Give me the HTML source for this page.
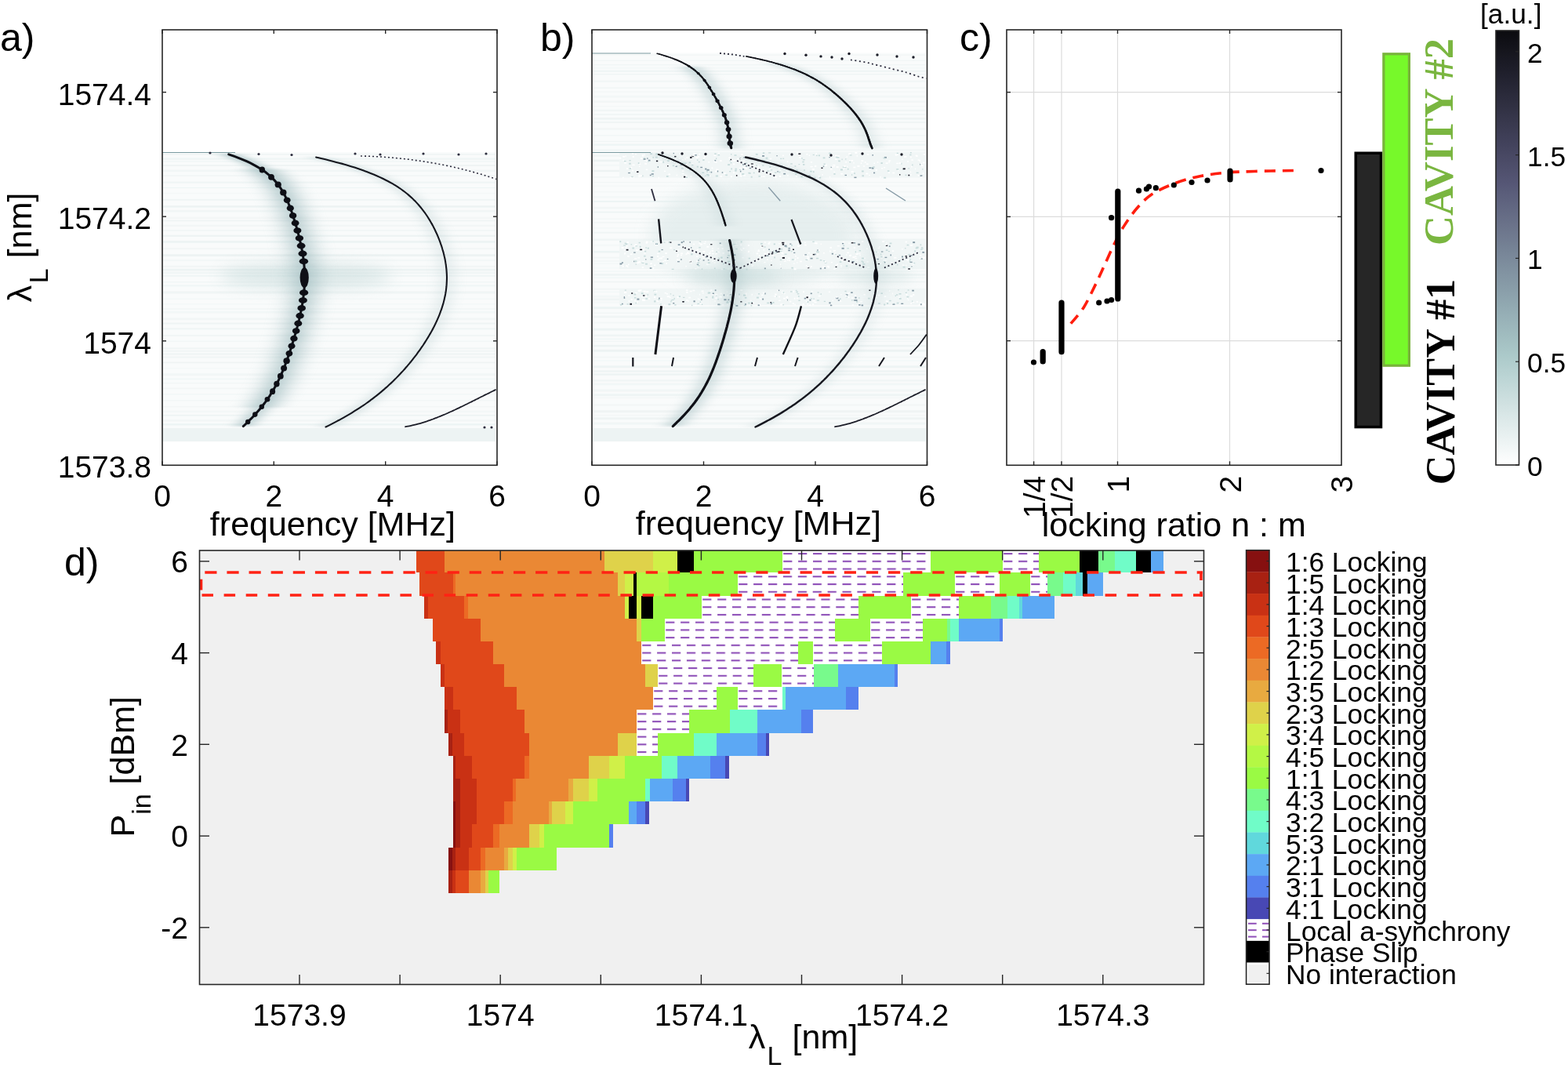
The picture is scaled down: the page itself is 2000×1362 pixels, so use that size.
<!DOCTYPE html><html><head><meta charset="utf-8"><title>Figure</title>
<style>html,body{margin:0;padding:0;background:#fff;}svg{display:block;}text{font-family:'Liberation Sans', Arial, Helvetica, sans-serif;fill:#000;}</style></head><body>
<svg width="2000" height="1362" viewBox="0 0 2000 1362">
<defs>
<filter id="blur2" filterUnits="userSpaceOnUse" x="0" y="0" width="2000" height="1362"><feGaussianBlur stdDeviation="2.5"/></filter>
<filter id="blur5" filterUnits="userSpaceOnUse" x="0" y="0" width="2000" height="1362"><feGaussianBlur stdDeviation="6"/></filter>
<filter id="blur9" filterUnits="userSpaceOnUse" x="0" y="0" width="2000" height="1362"><feGaussianBlur stdDeviation="10"/></filter>
<linearGradient id="cbar" x1="0" y1="0" x2="0" y2="1">
<stop offset="0.000" stop-color="#0b0b0f"/>
<stop offset="0.050" stop-color="#16161e"/>
<stop offset="0.100" stop-color="#20202d"/>
<stop offset="0.150" stop-color="#2b2b3b"/>
<stop offset="0.200" stop-color="#36364a"/>
<stop offset="0.250" stop-color="#404059"/>
<stop offset="0.300" stop-color="#4b4b67"/>
<stop offset="0.350" stop-color="#555675"/>
<stop offset="0.400" stop-color="#606580"/>
<stop offset="0.450" stop-color="#6b738a"/>
<stop offset="0.500" stop-color="#758295"/>
<stop offset="0.550" stop-color="#8091a0"/>
<stop offset="0.600" stop-color="#8a9faa"/>
<stop offset="0.650" stop-color="#95aeb5"/>
<stop offset="0.700" stop-color="#a0bcbf"/>
<stop offset="0.750" stop-color="#accaca"/>
<stop offset="0.800" stop-color="#bcd5d5"/>
<stop offset="0.850" stop-color="#cddfdf"/>
<stop offset="0.900" stop-color="#deeaea"/>
<stop offset="0.950" stop-color="#eef4f4"/>
<stop offset="1.000" stop-color="#ffffff"/>
</linearGradient>
<pattern id="hatch" patternUnits="userSpaceOnUse" x="0" y="701.2" width="18.9" height="9.73"><rect width="18.9" height="9.73" fill="#fff"/><rect x="2" y="3.9" width="11.5" height="2.1" fill="#8e4fb8"/></pattern>
<filter id="hblur" filterUnits="userSpaceOnUse" x="0" y="0" width="2000" height="1362"><feGaussianBlur stdDeviation="9 1.2"/></filter>
</defs>
<rect width="2000" height="1362" fill="#fff"/>
<rect x="207.0" y="194.0" width="425.0" height="369.0" fill="#f9fbfb"/>
<g><rect x="207.0" y="196.0" width="425.0" height="1.5" fill="#e8f0f0" opacity="0.52"/><rect x="207.0" y="201.5" width="425.0" height="2.2" fill="#e8f0f0" opacity="0.56"/><rect x="207.0" y="205.4" width="425.0" height="1.0" fill="#e8f0f0" opacity="0.67"/><rect x="207.0" y="210.3" width="425.0" height="1.5" fill="#e8f0f0" opacity="0.75"/><rect x="207.0" y="216.4" width="425.0" height="2.7" fill="#e8f0f0" opacity="0.49"/><rect x="207.0" y="223.4" width="425.0" height="1.3" fill="#e8f0f0" opacity="0.57"/><rect x="207.0" y="231.7" width="425.0" height="2.0" fill="#e8f0f0" opacity="0.62"/><rect x="207.0" y="238.9" width="425.0" height="1.1" fill="#e8f0f0" opacity="0.63"/><rect x="207.0" y="245.6" width="425.0" height="1.6" fill="#e8f0f0" opacity="0.27"/><rect x="207.0" y="253.9" width="425.0" height="1.9" fill="#e8f0f0" opacity="0.61"/><rect x="207.0" y="262.2" width="425.0" height="2.4" fill="#e8f0f0" opacity="0.71"/><rect x="207.0" y="267.9" width="425.0" height="2.6" fill="#e8f0f0" opacity="0.47"/><rect x="207.0" y="276.6" width="425.0" height="2.8" fill="#e8f0f0" opacity="0.30"/><rect x="207.0" y="280.8" width="425.0" height="1.4" fill="#e8f0f0" opacity="0.73"/><rect x="207.0" y="286.7" width="425.0" height="2.3" fill="#e8f0f0" opacity="0.40"/><rect x="207.0" y="293.0" width="425.0" height="1.8" fill="#e8f0f0" opacity="0.43"/><rect x="207.0" y="299.7" width="425.0" height="2.2" fill="#e8f0f0" opacity="0.70"/><rect x="207.0" y="307.0" width="425.0" height="2.9" fill="#e8f0f0" opacity="0.68"/><rect x="207.0" y="315.9" width="425.0" height="2.3" fill="#e8f0f0" opacity="0.33"/><rect x="207.0" y="324.1" width="425.0" height="2.9" fill="#e8f0f0" opacity="0.70"/><rect x="207.0" y="330.8" width="425.0" height="2.4" fill="#e8f0f0" opacity="0.36"/><rect x="207.0" y="338.8" width="425.0" height="2.1" fill="#e8f0f0" opacity="0.39"/><rect x="207.0" y="342.7" width="425.0" height="2.7" fill="#e8f0f0" opacity="0.74"/><rect x="207.0" y="346.7" width="425.0" height="2.6" fill="#e8f0f0" opacity="0.46"/><rect x="207.0" y="351.0" width="425.0" height="1.6" fill="#e8f0f0" opacity="0.63"/><rect x="207.0" y="359.3" width="425.0" height="1.1" fill="#e8f0f0" opacity="0.56"/><rect x="207.0" y="363.1" width="425.0" height="2.4" fill="#e8f0f0" opacity="0.42"/><rect x="207.0" y="371.4" width="425.0" height="3.0" fill="#e8f0f0" opacity="0.50"/><rect x="207.0" y="380.4" width="425.0" height="1.6" fill="#e8f0f0" opacity="0.29"/><rect x="207.0" y="387.2" width="425.0" height="1.1" fill="#e8f0f0" opacity="0.35"/><rect x="207.0" y="392.9" width="425.0" height="2.2" fill="#e8f0f0" opacity="0.33"/><rect x="207.0" y="396.7" width="425.0" height="2.7" fill="#e8f0f0" opacity="0.41"/><rect x="207.0" y="405.4" width="425.0" height="2.8" fill="#e8f0f0" opacity="0.44"/><rect x="207.0" y="411.5" width="425.0" height="2.0" fill="#e8f0f0" opacity="0.57"/><rect x="207.0" y="418.3" width="425.0" height="2.1" fill="#e8f0f0" opacity="0.56"/><rect x="207.0" y="426.9" width="425.0" height="2.0" fill="#e8f0f0" opacity="0.47"/><rect x="207.0" y="434.4" width="425.0" height="1.5" fill="#e8f0f0" opacity="0.40"/><rect x="207.0" y="443.3" width="425.0" height="2.0" fill="#e8f0f0" opacity="0.52"/><rect x="207.0" y="446.8" width="425.0" height="1.8" fill="#e8f0f0" opacity="0.54"/><rect x="207.0" y="450.4" width="425.0" height="2.2" fill="#e8f0f0" opacity="0.57"/><rect x="207.0" y="454.3" width="425.0" height="2.3" fill="#e8f0f0" opacity="0.48"/><rect x="207.0" y="461.5" width="425.0" height="1.7" fill="#e8f0f0" opacity="0.60"/><rect x="207.0" y="469.1" width="425.0" height="1.0" fill="#e8f0f0" opacity="0.28"/><rect x="207.0" y="476.3" width="425.0" height="2.9" fill="#e8f0f0" opacity="0.38"/><rect x="207.0" y="482.3" width="425.0" height="2.2" fill="#e8f0f0" opacity="0.41"/><rect x="207.0" y="487.8" width="425.0" height="1.6" fill="#e8f0f0" opacity="0.43"/><rect x="207.0" y="494.6" width="425.0" height="1.6" fill="#e8f0f0" opacity="0.44"/><rect x="207.0" y="502.3" width="425.0" height="1.1" fill="#e8f0f0" opacity="0.53"/><rect x="207.0" y="509.9" width="425.0" height="1.6" fill="#e8f0f0" opacity="0.36"/><rect x="207.0" y="517.8" width="425.0" height="1.5" fill="#e8f0f0" opacity="0.34"/><rect x="207.0" y="523.7" width="425.0" height="2.4" fill="#e8f0f0" opacity="0.30"/><rect x="207.0" y="528.9" width="425.0" height="1.7" fill="#e8f0f0" opacity="0.67"/><rect x="207.0" y="534.9" width="425.0" height="2.7" fill="#e8f0f0" opacity="0.33"/><rect x="207.0" y="540.2" width="425.0" height="2.3" fill="#e8f0f0" opacity="0.69"/></g>
<rect x="207" y="546" width="425" height="17" fill="#edf3f3"/>
<line x1="207" y1="194.5" x2="300" y2="194.5" stroke="#7a9aa0" stroke-width="1.2"/>
<ellipse cx="390" cy="352" rx="110" ry="16" fill="#b8d0d0" opacity="0.45" filter="url(#blur9)"/>
<g opacity="0.28" filter="url(#hblur)"><rect x="307.6" y="215.2" width="52.0" height="1.6" fill="#8fb0b4"/><rect x="309.4" y="216.5" width="52.0" height="1.6" fill="#8fb0b4"/><rect x="311.2" y="217.7" width="52.0" height="1.6" fill="#8fb0b4"/><rect x="313.0" y="219.1" width="52.0" height="1.6" fill="#8fb0b4"/><rect x="314.7" y="220.4" width="52.0" height="1.6" fill="#8fb0b4"/><rect x="316.4" y="221.8" width="52.0" height="1.6" fill="#8fb0b4"/><rect x="318.1" y="223.2" width="52.0" height="1.6" fill="#8fb0b4"/><rect x="319.7" y="224.7" width="52.0" height="1.6" fill="#8fb0b4"/><rect x="321.3" y="226.3" width="52.0" height="1.6" fill="#8fb0b4"/><rect x="322.9" y="227.8" width="52.0" height="1.6" fill="#8fb0b4"/><rect x="324.4" y="229.4" width="52.0" height="1.6" fill="#8fb0b4"/><rect x="325.8" y="231.1" width="52.0" height="1.6" fill="#8fb0b4"/><rect x="327.2" y="232.8" width="52.0" height="1.6" fill="#8fb0b4"/><rect x="328.6" y="234.5" width="52.0" height="1.6" fill="#8fb0b4"/><rect x="329.9" y="236.3" width="52.0" height="1.6" fill="#8fb0b4"/><rect x="331.2" y="238.1" width="52.0" height="1.6" fill="#8fb0b4"/><rect x="332.4" y="239.9" width="52.0" height="1.6" fill="#8fb0b4"/><rect x="333.6" y="241.7" width="52.0" height="1.6" fill="#8fb0b4"/><rect x="334.7" y="243.6" width="52.0" height="1.6" fill="#8fb0b4"/><rect x="335.8" y="245.6" width="52.0" height="1.6" fill="#8fb0b4"/><rect x="336.8" y="247.5" width="52.0" height="1.6" fill="#8fb0b4"/><rect x="337.8" y="249.4" width="52.0" height="1.6" fill="#8fb0b4"/><rect x="338.8" y="251.4" width="52.0" height="1.6" fill="#8fb0b4"/><rect x="339.7" y="253.4" width="52.0" height="1.6" fill="#8fb0b4"/><rect x="340.6" y="255.4" width="52.0" height="1.6" fill="#8fb0b4"/><rect x="341.5" y="257.5" width="52.0" height="1.6" fill="#8fb0b4"/><rect x="342.3" y="259.5" width="52.0" height="1.6" fill="#8fb0b4"/><rect x="343.1" y="261.5" width="52.0" height="1.6" fill="#8fb0b4"/><rect x="343.9" y="263.6" width="52.0" height="1.6" fill="#8fb0b4"/><rect x="344.7" y="265.6" width="52.0" height="1.6" fill="#8fb0b4"/><rect x="345.4" y="267.7" width="52.0" height="1.6" fill="#8fb0b4"/><rect x="346.2" y="269.8" width="52.0" height="1.6" fill="#8fb0b4"/><rect x="346.9" y="271.9" width="52.0" height="1.6" fill="#8fb0b4"/><rect x="347.6" y="274.0" width="52.0" height="1.6" fill="#8fb0b4"/><rect x="348.2" y="276.1" width="52.0" height="1.6" fill="#8fb0b4"/><rect x="348.9" y="278.1" width="52.0" height="1.6" fill="#8fb0b4"/><rect x="349.6" y="280.2" width="52.0" height="1.6" fill="#8fb0b4"/><rect x="350.2" y="282.3" width="52.0" height="1.6" fill="#8fb0b4"/><rect x="350.9" y="284.5" width="52.0" height="1.6" fill="#8fb0b4"/><rect x="351.5" y="286.6" width="52.0" height="1.6" fill="#8fb0b4"/><rect x="352.1" y="288.7" width="52.0" height="1.6" fill="#8fb0b4"/><rect x="352.7" y="290.8" width="52.0" height="1.6" fill="#8fb0b4"/><rect x="353.3" y="292.9" width="52.0" height="1.6" fill="#8fb0b4"/><rect x="353.9" y="295.0" width="52.0" height="1.6" fill="#8fb0b4"/><rect x="354.4" y="297.2" width="52.0" height="1.6" fill="#8fb0b4"/><rect x="355.0" y="299.3" width="52.0" height="1.6" fill="#8fb0b4"/><rect x="355.5" y="301.4" width="52.0" height="1.6" fill="#8fb0b4"/><rect x="356.1" y="303.6" width="52.0" height="1.6" fill="#8fb0b4"/><rect x="356.6" y="305.7" width="52.0" height="1.6" fill="#8fb0b4"/><rect x="357.1" y="307.8" width="52.0" height="1.6" fill="#8fb0b4"/><rect x="357.5" y="310.0" width="52.0" height="1.6" fill="#8fb0b4"/><rect x="358.0" y="312.1" width="52.0" height="1.6" fill="#8fb0b4"/><rect x="358.5" y="314.3" width="52.0" height="1.6" fill="#8fb0b4"/><rect x="358.9" y="316.5" width="52.0" height="1.6" fill="#8fb0b4"/><rect x="359.3" y="318.6" width="52.0" height="1.6" fill="#8fb0b4"/><rect x="359.7" y="320.8" width="52.0" height="1.6" fill="#8fb0b4"/><rect x="360.1" y="322.9" width="52.0" height="1.6" fill="#8fb0b4"/><rect x="360.4" y="325.1" width="52.0" height="1.6" fill="#8fb0b4"/><rect x="360.7" y="327.3" width="52.0" height="1.6" fill="#8fb0b4"/><rect x="361.0" y="329.5" width="52.0" height="1.6" fill="#8fb0b4"/><rect x="361.3" y="331.7" width="52.0" height="1.6" fill="#8fb0b4"/><rect x="361.6" y="333.8" width="52.0" height="1.6" fill="#8fb0b4"/><rect x="361.8" y="336.0" width="52.0" height="1.6" fill="#8fb0b4"/><rect x="362.0" y="338.2" width="52.0" height="1.6" fill="#8fb0b4"/><rect x="362.2" y="340.4" width="52.0" height="1.6" fill="#8fb0b4"/><rect x="362.3" y="342.6" width="52.0" height="1.6" fill="#8fb0b4"/><rect x="362.4" y="344.8" width="52.0" height="1.6" fill="#8fb0b4"/><rect x="362.5" y="347.0" width="52.0" height="1.6" fill="#8fb0b4"/><rect x="362.6" y="349.2" width="52.0" height="1.6" fill="#8fb0b4"/><rect x="362.6" y="351.4" width="52.0" height="1.6" fill="#8fb0b4"/><rect x="362.6" y="353.6" width="52.0" height="1.6" fill="#8fb0b4"/><rect x="362.6" y="355.8" width="52.0" height="1.6" fill="#8fb0b4"/><rect x="362.6" y="358.0" width="52.0" height="1.6" fill="#8fb0b4"/><rect x="362.5" y="360.2" width="52.0" height="1.6" fill="#8fb0b4"/><rect x="362.4" y="362.4" width="52.0" height="1.6" fill="#8fb0b4"/><rect x="362.3" y="364.6" width="52.0" height="1.6" fill="#8fb0b4"/><rect x="362.1" y="366.8" width="52.0" height="1.6" fill="#8fb0b4"/><rect x="362.0" y="369.0" width="52.0" height="1.6" fill="#8fb0b4"/><rect x="361.8" y="371.2" width="52.0" height="1.6" fill="#8fb0b4"/><rect x="361.5" y="373.4" width="52.0" height="1.6" fill="#8fb0b4"/><rect x="361.3" y="375.5" width="52.0" height="1.6" fill="#8fb0b4"/><rect x="361.0" y="377.7" width="52.0" height="1.6" fill="#8fb0b4"/><rect x="360.7" y="379.9" width="52.0" height="1.6" fill="#8fb0b4"/><rect x="360.4" y="382.1" width="52.0" height="1.6" fill="#8fb0b4"/><rect x="360.1" y="384.3" width="52.0" height="1.6" fill="#8fb0b4"/><rect x="359.7" y="386.4" width="52.0" height="1.6" fill="#8fb0b4"/><rect x="359.3" y="388.6" width="52.0" height="1.6" fill="#8fb0b4"/><rect x="358.9" y="390.8" width="52.0" height="1.6" fill="#8fb0b4"/><rect x="358.5" y="392.9" width="52.0" height="1.6" fill="#8fb0b4"/><rect x="358.1" y="395.1" width="52.0" height="1.6" fill="#8fb0b4"/><rect x="357.6" y="397.2" width="52.0" height="1.6" fill="#8fb0b4"/><rect x="357.2" y="399.4" width="52.0" height="1.6" fill="#8fb0b4"/><rect x="356.7" y="401.5" width="52.0" height="1.6" fill="#8fb0b4"/><rect x="356.2" y="403.7" width="52.0" height="1.6" fill="#8fb0b4"/><rect x="355.7" y="405.8" width="52.0" height="1.6" fill="#8fb0b4"/><rect x="355.2" y="408.0" width="52.0" height="1.6" fill="#8fb0b4"/><rect x="354.6" y="410.1" width="52.0" height="1.6" fill="#8fb0b4"/><rect x="354.1" y="412.2" width="52.0" height="1.6" fill="#8fb0b4"/><rect x="353.6" y="414.4" width="52.0" height="1.6" fill="#8fb0b4"/><rect x="353.0" y="416.5" width="52.0" height="1.6" fill="#8fb0b4"/><rect x="352.4" y="418.6" width="52.0" height="1.6" fill="#8fb0b4"/><rect x="351.9" y="420.7" width="52.0" height="1.6" fill="#8fb0b4"/><rect x="351.3" y="422.9" width="52.0" height="1.6" fill="#8fb0b4"/><rect x="350.7" y="425.0" width="52.0" height="1.6" fill="#8fb0b4"/><rect x="350.1" y="427.1" width="52.0" height="1.6" fill="#8fb0b4"/><rect x="349.5" y="429.2" width="52.0" height="1.6" fill="#8fb0b4"/><rect x="348.8" y="431.3" width="52.0" height="1.6" fill="#8fb0b4"/><rect x="348.2" y="433.4" width="52.0" height="1.6" fill="#8fb0b4"/><rect x="347.6" y="435.5" width="52.0" height="1.6" fill="#8fb0b4"/><rect x="346.9" y="437.6" width="52.0" height="1.6" fill="#8fb0b4"/><rect x="346.3" y="439.7" width="52.0" height="1.6" fill="#8fb0b4"/><rect x="345.6" y="441.8" width="52.0" height="1.6" fill="#8fb0b4"/><rect x="344.9" y="443.9" width="52.0" height="1.6" fill="#8fb0b4"/><rect x="344.3" y="446.0" width="52.0" height="1.6" fill="#8fb0b4"/><rect x="343.6" y="448.1" width="52.0" height="1.6" fill="#8fb0b4"/><rect x="342.9" y="450.2" width="52.0" height="1.6" fill="#8fb0b4"/><rect x="342.2" y="452.3" width="52.0" height="1.6" fill="#8fb0b4"/><rect x="341.4" y="454.4" width="52.0" height="1.6" fill="#8fb0b4"/><rect x="340.7" y="456.4" width="52.0" height="1.6" fill="#8fb0b4"/><rect x="340.0" y="458.5" width="52.0" height="1.6" fill="#8fb0b4"/><rect x="339.2" y="460.6" width="52.0" height="1.6" fill="#8fb0b4"/><rect x="338.5" y="462.6" width="52.0" height="1.6" fill="#8fb0b4"/><rect x="337.7" y="464.7" width="52.0" height="1.6" fill="#8fb0b4"/><rect x="336.9" y="466.7" width="52.0" height="1.6" fill="#8fb0b4"/><rect x="336.1" y="468.8" width="52.0" height="1.6" fill="#8fb0b4"/><rect x="335.2" y="470.8" width="52.0" height="1.6" fill="#8fb0b4"/><rect x="334.4" y="472.9" width="52.0" height="1.6" fill="#8fb0b4"/><rect x="333.5" y="474.9" width="52.0" height="1.6" fill="#8fb0b4"/><rect x="332.7" y="476.9" width="52.0" height="1.6" fill="#8fb0b4"/><rect x="331.8" y="478.9" width="52.0" height="1.6" fill="#8fb0b4"/><rect x="330.8" y="480.9" width="52.0" height="1.6" fill="#8fb0b4"/><rect x="329.9" y="482.9" width="52.0" height="1.6" fill="#8fb0b4"/><rect x="328.9" y="484.9" width="52.0" height="1.6" fill="#8fb0b4"/><rect x="327.9" y="486.8" width="52.0" height="1.6" fill="#8fb0b4"/><rect x="326.9" y="488.8" width="52.0" height="1.6" fill="#8fb0b4"/><rect x="325.9" y="490.7" width="52.0" height="1.6" fill="#8fb0b4"/><rect x="324.9" y="492.7" width="52.0" height="1.6" fill="#8fb0b4"/><rect x="323.8" y="494.6" width="52.0" height="1.6" fill="#8fb0b4"/><rect x="322.7" y="496.5" width="52.0" height="1.6" fill="#8fb0b4"/><rect x="321.6" y="498.4" width="52.0" height="1.6" fill="#8fb0b4"/><rect x="320.4" y="500.3" width="52.0" height="1.6" fill="#8fb0b4"/><rect x="319.2" y="502.1" width="52.0" height="1.6" fill="#8fb0b4"/><rect x="318.0" y="504.0" width="52.0" height="1.6" fill="#8fb0b4"/><rect x="316.8" y="505.8" width="52.0" height="1.6" fill="#8fb0b4"/><rect x="315.6" y="507.6" width="52.0" height="1.6" fill="#8fb0b4"/><rect x="314.3" y="509.4" width="52.0" height="1.6" fill="#8fb0b4"/><rect x="313.0" y="511.2" width="52.0" height="1.6" fill="#8fb0b4"/><rect x="311.7" y="513.0" width="52.0" height="1.6" fill="#8fb0b4"/><rect x="310.4" y="514.7" width="52.0" height="1.6" fill="#8fb0b4"/><rect x="309.0" y="516.4" width="52.0" height="1.6" fill="#8fb0b4"/><rect x="307.6" y="518.2" width="52.0" height="1.6" fill="#8fb0b4"/></g>
<g opacity="0.65" filter="url(#hblur)"><rect x="282.7" y="196.1" width="18.0" height="1.6" fill="#8fb0b4"/><rect x="284.8" y="196.8" width="18.0" height="1.6" fill="#8fb0b4"/><rect x="286.9" y="197.5" width="18.0" height="1.6" fill="#8fb0b4"/><rect x="289.0" y="198.3" width="18.0" height="1.6" fill="#8fb0b4"/><rect x="291.0" y="199.0" width="18.0" height="1.6" fill="#8fb0b4"/><rect x="293.1" y="199.8" width="18.0" height="1.6" fill="#8fb0b4"/><rect x="295.2" y="200.5" width="18.0" height="1.6" fill="#8fb0b4"/><rect x="297.2" y="201.3" width="18.0" height="1.6" fill="#8fb0b4"/><rect x="299.2" y="202.2" width="18.0" height="1.6" fill="#8fb0b4"/><rect x="301.3" y="203.0" width="18.0" height="1.6" fill="#8fb0b4"/><rect x="303.3" y="203.9" width="18.0" height="1.6" fill="#8fb0b4"/><rect x="305.3" y="204.8" width="18.0" height="1.6" fill="#8fb0b4"/><rect x="307.3" y="205.7" width="18.0" height="1.6" fill="#8fb0b4"/><rect x="309.3" y="206.6" width="18.0" height="1.6" fill="#8fb0b4"/><rect x="311.3" y="207.6" width="18.0" height="1.6" fill="#8fb0b4"/><rect x="313.2" y="208.6" width="18.0" height="1.6" fill="#8fb0b4"/><rect x="315.2" y="209.6" width="18.0" height="1.6" fill="#8fb0b4"/><rect x="317.1" y="210.7" width="18.0" height="1.6" fill="#8fb0b4"/><rect x="319.0" y="211.8" width="18.0" height="1.6" fill="#8fb0b4"/><rect x="320.9" y="212.9" width="18.0" height="1.6" fill="#8fb0b4"/><rect x="322.8" y="214.0" width="18.0" height="1.6" fill="#8fb0b4"/><rect x="324.6" y="215.2" width="18.0" height="1.6" fill="#8fb0b4"/><rect x="326.4" y="216.5" width="18.0" height="1.6" fill="#8fb0b4"/><rect x="328.2" y="217.7" width="18.0" height="1.6" fill="#8fb0b4"/><rect x="330.0" y="219.1" width="18.0" height="1.6" fill="#8fb0b4"/><rect x="331.7" y="220.4" width="18.0" height="1.6" fill="#8fb0b4"/><rect x="333.4" y="221.8" width="18.0" height="1.6" fill="#8fb0b4"/><rect x="335.1" y="223.2" width="18.0" height="1.6" fill="#8fb0b4"/><rect x="336.7" y="224.7" width="18.0" height="1.6" fill="#8fb0b4"/><rect x="338.3" y="226.3" width="18.0" height="1.6" fill="#8fb0b4"/><rect x="339.9" y="227.8" width="18.0" height="1.6" fill="#8fb0b4"/><rect x="341.4" y="229.4" width="18.0" height="1.6" fill="#8fb0b4"/><rect x="342.8" y="231.1" width="18.0" height="1.6" fill="#8fb0b4"/><rect x="344.2" y="232.8" width="18.0" height="1.6" fill="#8fb0b4"/><rect x="345.6" y="234.5" width="18.0" height="1.6" fill="#8fb0b4"/><rect x="346.9" y="236.3" width="18.0" height="1.6" fill="#8fb0b4"/><rect x="348.2" y="238.1" width="18.0" height="1.6" fill="#8fb0b4"/><rect x="349.4" y="239.9" width="18.0" height="1.6" fill="#8fb0b4"/><rect x="350.6" y="241.7" width="18.0" height="1.6" fill="#8fb0b4"/><rect x="351.7" y="243.6" width="18.0" height="1.6" fill="#8fb0b4"/><rect x="352.8" y="245.6" width="18.0" height="1.6" fill="#8fb0b4"/><rect x="353.8" y="247.5" width="18.0" height="1.6" fill="#8fb0b4"/><rect x="354.8" y="249.4" width="18.0" height="1.6" fill="#8fb0b4"/><rect x="355.8" y="251.4" width="18.0" height="1.6" fill="#8fb0b4"/><rect x="356.7" y="253.4" width="18.0" height="1.6" fill="#8fb0b4"/><rect x="357.6" y="255.4" width="18.0" height="1.6" fill="#8fb0b4"/><rect x="358.5" y="257.5" width="18.0" height="1.6" fill="#8fb0b4"/><rect x="359.3" y="259.5" width="18.0" height="1.6" fill="#8fb0b4"/><rect x="360.1" y="261.5" width="18.0" height="1.6" fill="#8fb0b4"/><rect x="360.9" y="263.6" width="18.0" height="1.6" fill="#8fb0b4"/><rect x="361.7" y="265.6" width="18.0" height="1.6" fill="#8fb0b4"/><rect x="362.4" y="267.7" width="18.0" height="1.6" fill="#8fb0b4"/><rect x="363.2" y="269.8" width="18.0" height="1.6" fill="#8fb0b4"/><rect x="363.9" y="271.9" width="18.0" height="1.6" fill="#8fb0b4"/><rect x="364.6" y="274.0" width="18.0" height="1.6" fill="#8fb0b4"/><rect x="365.2" y="276.1" width="18.0" height="1.6" fill="#8fb0b4"/><rect x="365.9" y="278.1" width="18.0" height="1.6" fill="#8fb0b4"/><rect x="366.6" y="280.2" width="18.0" height="1.6" fill="#8fb0b4"/><rect x="367.2" y="282.3" width="18.0" height="1.6" fill="#8fb0b4"/><rect x="367.9" y="284.5" width="18.0" height="1.6" fill="#8fb0b4"/><rect x="368.5" y="286.6" width="18.0" height="1.6" fill="#8fb0b4"/><rect x="369.1" y="288.7" width="18.0" height="1.6" fill="#8fb0b4"/><rect x="369.7" y="290.8" width="18.0" height="1.6" fill="#8fb0b4"/><rect x="370.3" y="292.9" width="18.0" height="1.6" fill="#8fb0b4"/><rect x="370.9" y="295.0" width="18.0" height="1.6" fill="#8fb0b4"/><rect x="371.4" y="297.2" width="18.0" height="1.6" fill="#8fb0b4"/><rect x="372.0" y="299.3" width="18.0" height="1.6" fill="#8fb0b4"/><rect x="372.5" y="301.4" width="18.0" height="1.6" fill="#8fb0b4"/><rect x="373.1" y="303.6" width="18.0" height="1.6" fill="#8fb0b4"/><rect x="373.6" y="305.7" width="18.0" height="1.6" fill="#8fb0b4"/><rect x="374.1" y="307.8" width="18.0" height="1.6" fill="#8fb0b4"/><rect x="374.5" y="310.0" width="18.0" height="1.6" fill="#8fb0b4"/><rect x="375.0" y="312.1" width="18.0" height="1.6" fill="#8fb0b4"/><rect x="375.5" y="314.3" width="18.0" height="1.6" fill="#8fb0b4"/><rect x="375.9" y="316.5" width="18.0" height="1.6" fill="#8fb0b4"/><rect x="376.3" y="318.6" width="18.0" height="1.6" fill="#8fb0b4"/><rect x="376.7" y="320.8" width="18.0" height="1.6" fill="#8fb0b4"/><rect x="377.1" y="322.9" width="18.0" height="1.6" fill="#8fb0b4"/><rect x="377.4" y="325.1" width="18.0" height="1.6" fill="#8fb0b4"/><rect x="377.7" y="327.3" width="18.0" height="1.6" fill="#8fb0b4"/><rect x="378.0" y="329.5" width="18.0" height="1.6" fill="#8fb0b4"/><rect x="378.3" y="331.7" width="18.0" height="1.6" fill="#8fb0b4"/><rect x="378.6" y="333.8" width="18.0" height="1.6" fill="#8fb0b4"/><rect x="378.8" y="336.0" width="18.0" height="1.6" fill="#8fb0b4"/><rect x="379.0" y="338.2" width="18.0" height="1.6" fill="#8fb0b4"/><rect x="379.2" y="340.4" width="18.0" height="1.6" fill="#8fb0b4"/><rect x="379.3" y="342.6" width="18.0" height="1.6" fill="#8fb0b4"/><rect x="379.4" y="344.8" width="18.0" height="1.6" fill="#8fb0b4"/><rect x="379.5" y="347.0" width="18.0" height="1.6" fill="#8fb0b4"/><rect x="379.6" y="349.2" width="18.0" height="1.6" fill="#8fb0b4"/><rect x="379.6" y="351.4" width="18.0" height="1.6" fill="#8fb0b4"/><rect x="379.6" y="353.6" width="18.0" height="1.6" fill="#8fb0b4"/><rect x="379.6" y="355.8" width="18.0" height="1.6" fill="#8fb0b4"/><rect x="379.6" y="358.0" width="18.0" height="1.6" fill="#8fb0b4"/><rect x="379.5" y="360.2" width="18.0" height="1.6" fill="#8fb0b4"/><rect x="379.4" y="362.4" width="18.0" height="1.6" fill="#8fb0b4"/><rect x="379.3" y="364.6" width="18.0" height="1.6" fill="#8fb0b4"/><rect x="379.1" y="366.8" width="18.0" height="1.6" fill="#8fb0b4"/><rect x="379.0" y="369.0" width="18.0" height="1.6" fill="#8fb0b4"/><rect x="378.8" y="371.2" width="18.0" height="1.6" fill="#8fb0b4"/><rect x="378.5" y="373.4" width="18.0" height="1.6" fill="#8fb0b4"/><rect x="378.3" y="375.5" width="18.0" height="1.6" fill="#8fb0b4"/><rect x="378.0" y="377.7" width="18.0" height="1.6" fill="#8fb0b4"/><rect x="377.7" y="379.9" width="18.0" height="1.6" fill="#8fb0b4"/><rect x="377.4" y="382.1" width="18.0" height="1.6" fill="#8fb0b4"/><rect x="377.1" y="384.3" width="18.0" height="1.6" fill="#8fb0b4"/><rect x="376.7" y="386.4" width="18.0" height="1.6" fill="#8fb0b4"/><rect x="376.3" y="388.6" width="18.0" height="1.6" fill="#8fb0b4"/><rect x="375.9" y="390.8" width="18.0" height="1.6" fill="#8fb0b4"/><rect x="375.5" y="392.9" width="18.0" height="1.6" fill="#8fb0b4"/><rect x="375.1" y="395.1" width="18.0" height="1.6" fill="#8fb0b4"/><rect x="374.6" y="397.2" width="18.0" height="1.6" fill="#8fb0b4"/><rect x="374.2" y="399.4" width="18.0" height="1.6" fill="#8fb0b4"/><rect x="373.7" y="401.5" width="18.0" height="1.6" fill="#8fb0b4"/><rect x="373.2" y="403.7" width="18.0" height="1.6" fill="#8fb0b4"/><rect x="372.7" y="405.8" width="18.0" height="1.6" fill="#8fb0b4"/><rect x="372.2" y="408.0" width="18.0" height="1.6" fill="#8fb0b4"/><rect x="371.6" y="410.1" width="18.0" height="1.6" fill="#8fb0b4"/><rect x="371.1" y="412.2" width="18.0" height="1.6" fill="#8fb0b4"/><rect x="370.6" y="414.4" width="18.0" height="1.6" fill="#8fb0b4"/><rect x="370.0" y="416.5" width="18.0" height="1.6" fill="#8fb0b4"/><rect x="369.4" y="418.6" width="18.0" height="1.6" fill="#8fb0b4"/><rect x="368.9" y="420.7" width="18.0" height="1.6" fill="#8fb0b4"/><rect x="368.3" y="422.9" width="18.0" height="1.6" fill="#8fb0b4"/><rect x="367.7" y="425.0" width="18.0" height="1.6" fill="#8fb0b4"/><rect x="367.1" y="427.1" width="18.0" height="1.6" fill="#8fb0b4"/><rect x="366.5" y="429.2" width="18.0" height="1.6" fill="#8fb0b4"/><rect x="365.8" y="431.3" width="18.0" height="1.6" fill="#8fb0b4"/><rect x="365.2" y="433.4" width="18.0" height="1.6" fill="#8fb0b4"/><rect x="364.6" y="435.5" width="18.0" height="1.6" fill="#8fb0b4"/><rect x="363.9" y="437.6" width="18.0" height="1.6" fill="#8fb0b4"/><rect x="363.3" y="439.7" width="18.0" height="1.6" fill="#8fb0b4"/><rect x="362.6" y="441.8" width="18.0" height="1.6" fill="#8fb0b4"/><rect x="361.9" y="443.9" width="18.0" height="1.6" fill="#8fb0b4"/><rect x="361.3" y="446.0" width="18.0" height="1.6" fill="#8fb0b4"/><rect x="360.6" y="448.1" width="18.0" height="1.6" fill="#8fb0b4"/><rect x="359.9" y="450.2" width="18.0" height="1.6" fill="#8fb0b4"/><rect x="359.2" y="452.3" width="18.0" height="1.6" fill="#8fb0b4"/><rect x="358.4" y="454.4" width="18.0" height="1.6" fill="#8fb0b4"/><rect x="357.7" y="456.4" width="18.0" height="1.6" fill="#8fb0b4"/><rect x="357.0" y="458.5" width="18.0" height="1.6" fill="#8fb0b4"/><rect x="356.2" y="460.6" width="18.0" height="1.6" fill="#8fb0b4"/><rect x="355.5" y="462.6" width="18.0" height="1.6" fill="#8fb0b4"/><rect x="354.7" y="464.7" width="18.0" height="1.6" fill="#8fb0b4"/><rect x="353.9" y="466.7" width="18.0" height="1.6" fill="#8fb0b4"/><rect x="353.1" y="468.8" width="18.0" height="1.6" fill="#8fb0b4"/><rect x="352.2" y="470.8" width="18.0" height="1.6" fill="#8fb0b4"/><rect x="351.4" y="472.9" width="18.0" height="1.6" fill="#8fb0b4"/><rect x="350.5" y="474.9" width="18.0" height="1.6" fill="#8fb0b4"/><rect x="349.7" y="476.9" width="18.0" height="1.6" fill="#8fb0b4"/><rect x="348.8" y="478.9" width="18.0" height="1.6" fill="#8fb0b4"/><rect x="347.8" y="480.9" width="18.0" height="1.6" fill="#8fb0b4"/><rect x="346.9" y="482.9" width="18.0" height="1.6" fill="#8fb0b4"/><rect x="345.9" y="484.9" width="18.0" height="1.6" fill="#8fb0b4"/><rect x="344.9" y="486.8" width="18.0" height="1.6" fill="#8fb0b4"/><rect x="343.9" y="488.8" width="18.0" height="1.6" fill="#8fb0b4"/><rect x="342.9" y="490.7" width="18.0" height="1.6" fill="#8fb0b4"/><rect x="341.9" y="492.7" width="18.0" height="1.6" fill="#8fb0b4"/><rect x="340.8" y="494.6" width="18.0" height="1.6" fill="#8fb0b4"/><rect x="339.7" y="496.5" width="18.0" height="1.6" fill="#8fb0b4"/><rect x="338.6" y="498.4" width="18.0" height="1.6" fill="#8fb0b4"/><rect x="337.4" y="500.3" width="18.0" height="1.6" fill="#8fb0b4"/><rect x="336.2" y="502.1" width="18.0" height="1.6" fill="#8fb0b4"/><rect x="335.0" y="504.0" width="18.0" height="1.6" fill="#8fb0b4"/><rect x="333.8" y="505.8" width="18.0" height="1.6" fill="#8fb0b4"/><rect x="332.6" y="507.6" width="18.0" height="1.6" fill="#8fb0b4"/><rect x="331.3" y="509.4" width="18.0" height="1.6" fill="#8fb0b4"/><rect x="330.0" y="511.2" width="18.0" height="1.6" fill="#8fb0b4"/><rect x="328.7" y="513.0" width="18.0" height="1.6" fill="#8fb0b4"/><rect x="327.4" y="514.7" width="18.0" height="1.6" fill="#8fb0b4"/><rect x="326.0" y="516.4" width="18.0" height="1.6" fill="#8fb0b4"/><rect x="324.6" y="518.2" width="18.0" height="1.6" fill="#8fb0b4"/><rect x="323.2" y="519.9" width="18.0" height="1.6" fill="#8fb0b4"/><rect x="321.8" y="521.5" width="18.0" height="1.6" fill="#8fb0b4"/><rect x="320.4" y="523.2" width="18.0" height="1.6" fill="#8fb0b4"/><rect x="318.9" y="524.9" width="18.0" height="1.6" fill="#8fb0b4"/><rect x="317.5" y="526.5" width="18.0" height="1.6" fill="#8fb0b4"/><rect x="316.0" y="528.1" width="18.0" height="1.6" fill="#8fb0b4"/><rect x="314.5" y="529.7" width="18.0" height="1.6" fill="#8fb0b4"/><rect x="313.0" y="531.3" width="18.0" height="1.6" fill="#8fb0b4"/><rect x="311.4" y="532.9" width="18.0" height="1.6" fill="#8fb0b4"/><rect x="309.9" y="534.5" width="18.0" height="1.6" fill="#8fb0b4"/><rect x="308.3" y="536.0" width="18.0" height="1.6" fill="#8fb0b4"/><rect x="306.8" y="537.6" width="18.0" height="1.6" fill="#8fb0b4"/><rect x="305.2" y="539.1" width="18.0" height="1.6" fill="#8fb0b4"/><rect x="303.6" y="540.6" width="18.0" height="1.6" fill="#8fb0b4"/><rect x="302.0" y="542.1" width="18.0" height="1.6" fill="#8fb0b4"/></g>
<g opacity="0.30" filter="url(#hblur)"><rect x="395.1" y="199.7" width="16.0" height="1.6" fill="#8fb0b4"/><rect x="397.2" y="200.2" width="16.0" height="1.6" fill="#8fb0b4"/><rect x="399.3" y="200.7" width="16.0" height="1.6" fill="#8fb0b4"/><rect x="401.5" y="201.2" width="16.0" height="1.6" fill="#8fb0b4"/><rect x="403.6" y="201.7" width="16.0" height="1.6" fill="#8fb0b4"/><rect x="405.8" y="202.2" width="16.0" height="1.6" fill="#8fb0b4"/><rect x="407.9" y="202.7" width="16.0" height="1.6" fill="#8fb0b4"/><rect x="410.1" y="203.2" width="16.0" height="1.6" fill="#8fb0b4"/><rect x="412.2" y="203.7" width="16.0" height="1.6" fill="#8fb0b4"/><rect x="414.3" y="204.2" width="16.0" height="1.6" fill="#8fb0b4"/><rect x="416.5" y="204.8" width="16.0" height="1.6" fill="#8fb0b4"/><rect x="418.6" y="205.3" width="16.0" height="1.6" fill="#8fb0b4"/><rect x="420.7" y="205.9" width="16.0" height="1.6" fill="#8fb0b4"/><rect x="422.8" y="206.5" width="16.0" height="1.6" fill="#8fb0b4"/><rect x="425.0" y="207.0" width="16.0" height="1.6" fill="#8fb0b4"/><rect x="427.1" y="207.6" width="16.0" height="1.6" fill="#8fb0b4"/><rect x="429.2" y="208.2" width="16.0" height="1.6" fill="#8fb0b4"/><rect x="431.3" y="208.8" width="16.0" height="1.6" fill="#8fb0b4"/><rect x="433.4" y="209.4" width="16.0" height="1.6" fill="#8fb0b4"/><rect x="435.5" y="210.1" width="16.0" height="1.6" fill="#8fb0b4"/><rect x="437.7" y="210.7" width="16.0" height="1.6" fill="#8fb0b4"/><rect x="439.8" y="211.3" width="16.0" height="1.6" fill="#8fb0b4"/><rect x="441.9" y="212.0" width="16.0" height="1.6" fill="#8fb0b4"/><rect x="443.9" y="212.7" width="16.0" height="1.6" fill="#8fb0b4"/><rect x="446.0" y="213.3" width="16.0" height="1.6" fill="#8fb0b4"/><rect x="448.1" y="214.0" width="16.0" height="1.6" fill="#8fb0b4"/><rect x="450.2" y="214.7" width="16.0" height="1.6" fill="#8fb0b4"/><rect x="452.3" y="215.5" width="16.0" height="1.6" fill="#8fb0b4"/><rect x="454.4" y="216.2" width="16.0" height="1.6" fill="#8fb0b4"/><rect x="456.4" y="216.9" width="16.0" height="1.6" fill="#8fb0b4"/><rect x="458.5" y="217.7" width="16.0" height="1.6" fill="#8fb0b4"/><rect x="460.6" y="218.5" width="16.0" height="1.6" fill="#8fb0b4"/><rect x="462.6" y="219.3" width="16.0" height="1.6" fill="#8fb0b4"/><rect x="464.7" y="220.1" width="16.0" height="1.6" fill="#8fb0b4"/><rect x="466.7" y="220.9" width="16.0" height="1.6" fill="#8fb0b4"/><rect x="468.7" y="221.7" width="16.0" height="1.6" fill="#8fb0b4"/><rect x="470.8" y="222.6" width="16.0" height="1.6" fill="#8fb0b4"/><rect x="472.8" y="223.5" width="16.0" height="1.6" fill="#8fb0b4"/><rect x="474.8" y="224.4" width="16.0" height="1.6" fill="#8fb0b4"/><rect x="476.8" y="225.3" width="16.0" height="1.6" fill="#8fb0b4"/><rect x="478.8" y="226.2" width="16.0" height="1.6" fill="#8fb0b4"/><rect x="480.8" y="227.2" width="16.0" height="1.6" fill="#8fb0b4"/><rect x="482.7" y="228.2" width="16.0" height="1.6" fill="#8fb0b4"/><rect x="484.7" y="229.2" width="16.0" height="1.6" fill="#8fb0b4"/><rect x="486.6" y="230.2" width="16.0" height="1.6" fill="#8fb0b4"/><rect x="488.6" y="231.2" width="16.0" height="1.6" fill="#8fb0b4"/><rect x="490.5" y="232.3" width="16.0" height="1.6" fill="#8fb0b4"/><rect x="492.4" y="233.4" width="16.0" height="1.6" fill="#8fb0b4"/><rect x="494.3" y="234.5" width="16.0" height="1.6" fill="#8fb0b4"/><rect x="496.2" y="235.6" width="16.0" height="1.6" fill="#8fb0b4"/><rect x="498.0" y="236.8" width="16.0" height="1.6" fill="#8fb0b4"/><rect x="499.9" y="238.0" width="16.0" height="1.6" fill="#8fb0b4"/><rect x="501.7" y="239.2" width="16.0" height="1.6" fill="#8fb0b4"/><rect x="503.5" y="240.5" width="16.0" height="1.6" fill="#8fb0b4"/><rect x="505.3" y="241.8" width="16.0" height="1.6" fill="#8fb0b4"/><rect x="507.1" y="243.1" width="16.0" height="1.6" fill="#8fb0b4"/><rect x="508.8" y="244.4" width="16.0" height="1.6" fill="#8fb0b4"/><rect x="510.6" y="245.8" width="16.0" height="1.6" fill="#8fb0b4"/><rect x="512.3" y="247.2" width="16.0" height="1.6" fill="#8fb0b4"/><rect x="513.9" y="248.6" width="16.0" height="1.6" fill="#8fb0b4"/><rect x="515.6" y="250.0" width="16.0" height="1.6" fill="#8fb0b4"/><rect x="517.2" y="251.5" width="16.0" height="1.6" fill="#8fb0b4"/><rect x="518.8" y="253.0" width="16.0" height="1.6" fill="#8fb0b4"/><rect x="520.4" y="254.6" width="16.0" height="1.6" fill="#8fb0b4"/><rect x="521.9" y="256.1" width="16.0" height="1.6" fill="#8fb0b4"/><rect x="523.4" y="257.7" width="16.0" height="1.6" fill="#8fb0b4"/><rect x="524.9" y="259.4" width="16.0" height="1.6" fill="#8fb0b4"/><rect x="526.4" y="261.0" width="16.0" height="1.6" fill="#8fb0b4"/><rect x="527.8" y="262.7" width="16.0" height="1.6" fill="#8fb0b4"/><rect x="529.2" y="264.4" width="16.0" height="1.6" fill="#8fb0b4"/><rect x="530.6" y="266.1" width="16.0" height="1.6" fill="#8fb0b4"/><rect x="531.9" y="267.9" width="16.0" height="1.6" fill="#8fb0b4"/><rect x="533.2" y="269.6" width="16.0" height="1.6" fill="#8fb0b4"/><rect x="534.5" y="271.4" width="16.0" height="1.6" fill="#8fb0b4"/><rect x="535.8" y="273.2" width="16.0" height="1.6" fill="#8fb0b4"/><rect x="537.0" y="275.1" width="16.0" height="1.6" fill="#8fb0b4"/><rect x="538.2" y="276.9" width="16.0" height="1.6" fill="#8fb0b4"/><rect x="539.3" y="278.8" width="16.0" height="1.6" fill="#8fb0b4"/><rect x="540.5" y="280.7" width="16.0" height="1.6" fill="#8fb0b4"/><rect x="541.6" y="282.6" width="16.0" height="1.6" fill="#8fb0b4"/><rect x="542.7" y="284.5" width="16.0" height="1.6" fill="#8fb0b4"/><rect x="543.7" y="286.4" width="16.0" height="1.6" fill="#8fb0b4"/><rect x="544.7" y="288.3" width="16.0" height="1.6" fill="#8fb0b4"/><rect x="545.7" y="290.3" width="16.0" height="1.6" fill="#8fb0b4"/><rect x="546.7" y="292.3" width="16.0" height="1.6" fill="#8fb0b4"/><rect x="547.7" y="294.3" width="16.0" height="1.6" fill="#8fb0b4"/><rect x="548.6" y="296.3" width="16.0" height="1.6" fill="#8fb0b4"/><rect x="549.5" y="298.3" width="16.0" height="1.6" fill="#8fb0b4"/><rect x="550.4" y="300.3" width="16.0" height="1.6" fill="#8fb0b4"/><rect x="551.2" y="302.3" width="16.0" height="1.6" fill="#8fb0b4"/><rect x="552.0" y="304.4" width="16.0" height="1.6" fill="#8fb0b4"/><rect x="552.8" y="306.4" width="16.0" height="1.6" fill="#8fb0b4"/><rect x="553.6" y="308.5" width="16.0" height="1.6" fill="#8fb0b4"/><rect x="554.3" y="310.6" width="16.0" height="1.6" fill="#8fb0b4"/><rect x="555.0" y="312.6" width="16.0" height="1.6" fill="#8fb0b4"/><rect x="555.7" y="314.7" width="16.0" height="1.6" fill="#8fb0b4"/><rect x="556.3" y="316.8" width="16.0" height="1.6" fill="#8fb0b4"/><rect x="556.9" y="318.9" width="16.0" height="1.6" fill="#8fb0b4"/><rect x="557.5" y="321.1" width="16.0" height="1.6" fill="#8fb0b4"/><rect x="558.1" y="323.2" width="16.0" height="1.6" fill="#8fb0b4"/><rect x="558.6" y="325.3" width="16.0" height="1.6" fill="#8fb0b4"/><rect x="559.1" y="327.5" width="16.0" height="1.6" fill="#8fb0b4"/><rect x="559.5" y="329.6" width="16.0" height="1.6" fill="#8fb0b4"/><rect x="559.9" y="331.8" width="16.0" height="1.6" fill="#8fb0b4"/><rect x="560.3" y="334.0" width="16.0" height="1.6" fill="#8fb0b4"/><rect x="560.6" y="336.1" width="16.0" height="1.6" fill="#8fb0b4"/><rect x="561.0" y="338.3" width="16.0" height="1.6" fill="#8fb0b4"/><rect x="561.2" y="340.5" width="16.0" height="1.6" fill="#8fb0b4"/><rect x="561.4" y="342.7" width="16.0" height="1.6" fill="#8fb0b4"/><rect x="561.6" y="344.9" width="16.0" height="1.6" fill="#8fb0b4"/><rect x="561.8" y="347.1" width="16.0" height="1.6" fill="#8fb0b4"/><rect x="561.9" y="349.3" width="16.0" height="1.6" fill="#8fb0b4"/><rect x="561.9" y="351.5" width="16.0" height="1.6" fill="#8fb0b4"/><rect x="562.0" y="353.7" width="16.0" height="1.6" fill="#8fb0b4"/><rect x="561.9" y="355.9" width="16.0" height="1.6" fill="#8fb0b4"/><rect x="561.9" y="358.1" width="16.0" height="1.6" fill="#8fb0b4"/><rect x="561.8" y="360.3" width="16.0" height="1.6" fill="#8fb0b4"/><rect x="561.6" y="362.5" width="16.0" height="1.6" fill="#8fb0b4"/><rect x="561.4" y="364.7" width="16.0" height="1.6" fill="#8fb0b4"/><rect x="561.2" y="366.8" width="16.0" height="1.6" fill="#8fb0b4"/><rect x="560.9" y="369.0" width="16.0" height="1.6" fill="#8fb0b4"/><rect x="560.6" y="371.2" width="16.0" height="1.6" fill="#8fb0b4"/><rect x="560.3" y="373.4" width="16.0" height="1.6" fill="#8fb0b4"/><rect x="559.9" y="375.5" width="16.0" height="1.6" fill="#8fb0b4"/><rect x="559.5" y="377.7" width="16.0" height="1.6" fill="#8fb0b4"/><rect x="559.0" y="379.9" width="16.0" height="1.6" fill="#8fb0b4"/><rect x="558.5" y="382.0" width="16.0" height="1.6" fill="#8fb0b4"/><rect x="557.9" y="384.1" width="16.0" height="1.6" fill="#8fb0b4"/><rect x="557.4" y="386.2" width="16.0" height="1.6" fill="#8fb0b4"/><rect x="556.7" y="388.4" width="16.0" height="1.6" fill="#8fb0b4"/><rect x="556.1" y="390.5" width="16.0" height="1.6" fill="#8fb0b4"/><rect x="555.4" y="392.6" width="16.0" height="1.6" fill="#8fb0b4"/><rect x="554.7" y="394.6" width="16.0" height="1.6" fill="#8fb0b4"/><rect x="554.0" y="396.7" width="16.0" height="1.6" fill="#8fb0b4"/><rect x="553.2" y="398.8" width="16.0" height="1.6" fill="#8fb0b4"/><rect x="552.4" y="400.8" width="16.0" height="1.6" fill="#8fb0b4"/><rect x="551.6" y="402.9" width="16.0" height="1.6" fill="#8fb0b4"/><rect x="550.7" y="404.9" width="16.0" height="1.6" fill="#8fb0b4"/><rect x="549.8" y="406.9" width="16.0" height="1.6" fill="#8fb0b4"/><rect x="548.9" y="408.9" width="16.0" height="1.6" fill="#8fb0b4"/><rect x="548.0" y="410.9" width="16.0" height="1.6" fill="#8fb0b4"/><rect x="547.0" y="412.9" width="16.0" height="1.6" fill="#8fb0b4"/><rect x="546.1" y="414.8" width="16.0" height="1.6" fill="#8fb0b4"/><rect x="545.1" y="416.8" width="16.0" height="1.6" fill="#8fb0b4"/><rect x="544.0" y="418.8" width="16.0" height="1.6" fill="#8fb0b4"/><rect x="543.0" y="420.7" width="16.0" height="1.6" fill="#8fb0b4"/><rect x="541.9" y="422.6" width="16.0" height="1.6" fill="#8fb0b4"/><rect x="540.9" y="424.5" width="16.0" height="1.6" fill="#8fb0b4"/><rect x="539.8" y="426.4" width="16.0" height="1.6" fill="#8fb0b4"/><rect x="538.6" y="428.3" width="16.0" height="1.6" fill="#8fb0b4"/><rect x="537.5" y="430.2" width="16.0" height="1.6" fill="#8fb0b4"/><rect x="536.4" y="432.1" width="16.0" height="1.6" fill="#8fb0b4"/><rect x="535.2" y="434.0" width="16.0" height="1.6" fill="#8fb0b4"/><rect x="534.0" y="435.8" width="16.0" height="1.6" fill="#8fb0b4"/><rect x="532.8" y="437.7" width="16.0" height="1.6" fill="#8fb0b4"/><rect x="531.6" y="439.5" width="16.0" height="1.6" fill="#8fb0b4"/><rect x="530.4" y="441.3" width="16.0" height="1.6" fill="#8fb0b4"/><rect x="529.1" y="443.1" width="16.0" height="1.6" fill="#8fb0b4"/><rect x="527.8" y="444.9" width="16.0" height="1.6" fill="#8fb0b4"/><rect x="526.6" y="446.7" width="16.0" height="1.6" fill="#8fb0b4"/><rect x="525.3" y="448.5" width="16.0" height="1.6" fill="#8fb0b4"/><rect x="524.0" y="450.3" width="16.0" height="1.6" fill="#8fb0b4"/><rect x="522.7" y="452.0" width="16.0" height="1.6" fill="#8fb0b4"/><rect x="521.3" y="453.8" width="16.0" height="1.6" fill="#8fb0b4"/><rect x="520.0" y="455.5" width="16.0" height="1.6" fill="#8fb0b4"/><rect x="518.6" y="457.3" width="16.0" height="1.6" fill="#8fb0b4"/><rect x="517.3" y="459.0" width="16.0" height="1.6" fill="#8fb0b4"/><rect x="515.9" y="460.7" width="16.0" height="1.6" fill="#8fb0b4"/><rect x="514.5" y="462.4" width="16.0" height="1.6" fill="#8fb0b4"/><rect x="513.1" y="464.1" width="16.0" height="1.6" fill="#8fb0b4"/><rect x="511.6" y="465.8" width="16.0" height="1.6" fill="#8fb0b4"/><rect x="510.2" y="467.4" width="16.0" height="1.6" fill="#8fb0b4"/><rect x="508.8" y="469.1" width="16.0" height="1.6" fill="#8fb0b4"/><rect x="507.3" y="470.7" width="16.0" height="1.6" fill="#8fb0b4"/><rect x="505.8" y="472.4" width="16.0" height="1.6" fill="#8fb0b4"/><rect x="504.3" y="474.0" width="16.0" height="1.6" fill="#8fb0b4"/><rect x="502.8" y="475.6" width="16.0" height="1.6" fill="#8fb0b4"/><rect x="501.3" y="477.2" width="16.0" height="1.6" fill="#8fb0b4"/><rect x="499.8" y="478.8" width="16.0" height="1.6" fill="#8fb0b4"/><rect x="498.3" y="480.4" width="16.0" height="1.6" fill="#8fb0b4"/><rect x="496.7" y="481.9" width="16.0" height="1.6" fill="#8fb0b4"/><rect x="495.2" y="483.5" width="16.0" height="1.6" fill="#8fb0b4"/><rect x="493.6" y="485.0" width="16.0" height="1.6" fill="#8fb0b4"/><rect x="492.0" y="486.6" width="16.0" height="1.6" fill="#8fb0b4"/><rect x="490.4" y="488.1" width="16.0" height="1.6" fill="#8fb0b4"/><rect x="488.8" y="489.6" width="16.0" height="1.6" fill="#8fb0b4"/><rect x="487.2" y="491.1" width="16.0" height="1.6" fill="#8fb0b4"/><rect x="485.6" y="492.5" width="16.0" height="1.6" fill="#8fb0b4"/><rect x="483.9" y="494.0" width="16.0" height="1.6" fill="#8fb0b4"/><rect x="482.3" y="495.5" width="16.0" height="1.6" fill="#8fb0b4"/><rect x="480.6" y="496.9" width="16.0" height="1.6" fill="#8fb0b4"/><rect x="478.9" y="498.3" width="16.0" height="1.6" fill="#8fb0b4"/><rect x="477.2" y="499.7" width="16.0" height="1.6" fill="#8fb0b4"/><rect x="475.5" y="501.1" width="16.0" height="1.6" fill="#8fb0b4"/><rect x="473.8" y="502.5" width="16.0" height="1.6" fill="#8fb0b4"/><rect x="472.1" y="503.9" width="16.0" height="1.6" fill="#8fb0b4"/><rect x="470.4" y="505.2" width="16.0" height="1.6" fill="#8fb0b4"/><rect x="468.6" y="506.6" width="16.0" height="1.6" fill="#8fb0b4"/><rect x="466.9" y="507.9" width="16.0" height="1.6" fill="#8fb0b4"/><rect x="465.1" y="509.2" width="16.0" height="1.6" fill="#8fb0b4"/><rect x="463.4" y="510.5" width="16.0" height="1.6" fill="#8fb0b4"/><rect x="461.6" y="511.8" width="16.0" height="1.6" fill="#8fb0b4"/><rect x="459.8" y="513.1" width="16.0" height="1.6" fill="#8fb0b4"/><rect x="458.0" y="514.4" width="16.0" height="1.6" fill="#8fb0b4"/><rect x="456.2" y="515.6" width="16.0" height="1.6" fill="#8fb0b4"/><rect x="454.4" y="516.9" width="16.0" height="1.6" fill="#8fb0b4"/><rect x="452.5" y="518.1" width="16.0" height="1.6" fill="#8fb0b4"/><rect x="450.7" y="519.3" width="16.0" height="1.6" fill="#8fb0b4"/><rect x="448.9" y="520.5" width="16.0" height="1.6" fill="#8fb0b4"/><rect x="447.0" y="521.7" width="16.0" height="1.6" fill="#8fb0b4"/><rect x="445.2" y="522.9" width="16.0" height="1.6" fill="#8fb0b4"/><rect x="443.3" y="524.1" width="16.0" height="1.6" fill="#8fb0b4"/><rect x="441.4" y="525.2" width="16.0" height="1.6" fill="#8fb0b4"/><rect x="439.5" y="526.4" width="16.0" height="1.6" fill="#8fb0b4"/><rect x="437.7" y="527.5" width="16.0" height="1.6" fill="#8fb0b4"/><rect x="435.8" y="528.6" width="16.0" height="1.6" fill="#8fb0b4"/><rect x="433.9" y="529.7" width="16.0" height="1.6" fill="#8fb0b4"/><rect x="432.0" y="530.8" width="16.0" height="1.6" fill="#8fb0b4"/><rect x="430.0" y="531.9" width="16.0" height="1.6" fill="#8fb0b4"/><rect x="428.1" y="533.0" width="16.0" height="1.6" fill="#8fb0b4"/><rect x="426.2" y="534.0" width="16.0" height="1.6" fill="#8fb0b4"/><rect x="424.3" y="535.1" width="16.0" height="1.6" fill="#8fb0b4"/><rect x="422.3" y="536.1" width="16.0" height="1.6" fill="#8fb0b4"/><rect x="420.4" y="537.2" width="16.0" height="1.6" fill="#8fb0b4"/><rect x="418.4" y="538.2" width="16.0" height="1.6" fill="#8fb0b4"/><rect x="416.5" y="539.2" width="16.0" height="1.6" fill="#8fb0b4"/><rect x="414.5" y="540.2" width="16.0" height="1.6" fill="#8fb0b4"/><rect x="412.6" y="541.2" width="16.0" height="1.6" fill="#8fb0b4"/><rect x="410.6" y="542.2" width="16.0" height="1.6" fill="#8fb0b4"/><rect x="408.6" y="543.1" width="16.0" height="1.6" fill="#8fb0b4"/></g>
<path d="M291.7,196.9 C293.8,197.6 300.2,199.8 304.1,201.3 C307.9,202.8 311.3,204.2 314.6,205.7 C317.8,207.1 320.8,208.6 323.5,210.1 C326.3,211.5 328.8,213.0 331.2,214.5 C333.5,215.9 335.6,217.4 337.7,218.8 C339.7,220.3 341.5,221.8 343.2,223.2 C344.9,224.7 346.4,226.2 347.9,227.6 C349.4,229.1 350.7,230.5 351.9,232.0 C353.2,233.5 354.3,234.9 355.4,236.4 C356.5,237.9 357.5,239.3 358.5,240.8 C359.4,242.2 360.3,243.7 361.1,245.2 C362.0,246.6 362.7,248.1 363.5,249.6 C364.2,251.0 364.9,252.5 365.6,254.0 C366.3,255.4 366.9,256.9 367.5,258.3 C368.1,259.8 368.7,261.3 369.3,262.7 C369.8,264.2 370.4,265.7 370.9,267.1 C371.5,268.6 372.0,270.0 372.5,271.5 C373.0,273.0 373.5,274.4 373.9,275.9 C374.4,277.4 374.9,278.8 375.3,280.3 C375.8,281.7 376.2,283.2 376.7,284.7 C377.1,286.1 377.6,287.6 378.0,289.1 C378.4,290.5 378.8,292.0 379.2,293.4 C379.6,294.9 380.0,296.4 380.4,297.8 C380.8,299.3 381.2,300.8 381.5,302.2 C381.9,303.7 382.3,305.2 382.6,306.6 C382.9,308.1 383.3,309.5 383.6,311.0 C383.9,312.5 384.2,313.9 384.5,315.4 C384.8,316.9 385.1,318.3 385.4,319.8 C385.6,321.2 385.9,322.7 386.1,324.2 C386.4,325.6 386.6,327.1 386.8,328.6 C387.0,330.0 387.2,331.5 387.4,332.9 C387.5,334.4 387.7,335.9 387.8,337.3 C388.0,338.8 388.1,340.3 388.2,341.7 C388.3,343.2 388.4,344.6 388.5,346.1 C388.5,347.6 388.6,349.0 388.6,350.5 C388.6,352.0 388.6,353.4 388.6,354.9 C388.6,356.4 388.6,357.8 388.6,359.3 C388.5,360.7 388.5,362.2 388.4,363.7 C388.3,365.1 388.2,366.6 388.1,368.1 C388.0,369.5 387.9,371.0 387.7,372.4 C387.6,373.9 387.4,375.4 387.2,376.8 C387.0,378.3 386.8,379.8 386.6,381.2 C386.4,382.7 386.2,384.1 386.0,385.6 C385.7,387.1 385.5,388.5 385.2,390.0 C384.9,391.5 384.7,392.9 384.4,394.4 C384.1,395.9 383.8,397.3 383.5,398.8 C383.2,400.2 382.8,401.7 382.5,403.2 C382.2,404.6 381.8,406.1 381.5,407.6 C381.1,409.0 380.8,410.5 380.4,411.9 C380.0,413.4 379.6,414.9 379.3,416.3 C378.9,417.8 378.5,419.3 378.1,420.7 C377.7,422.2 377.3,423.6 376.9,425.1 C376.4,426.6 376.0,428.0 375.6,429.5 C375.2,431.0 374.7,432.4 374.3,433.9 C373.9,435.3 373.4,436.8 373.0,438.3 C372.5,439.7 372.1,441.2 371.6,442.7 C371.1,444.1 370.7,445.6 370.2,447.1 C369.7,448.5 369.2,450.0 368.7,451.4 C368.2,452.9 367.7,454.4 367.2,455.8 C366.7,457.3 366.2,458.8 365.6,460.2 C365.1,461.7 364.6,463.1 364.0,464.6 C363.5,466.1 362.9,467.5 362.3,469.0 C361.7,470.5 361.1,471.9 360.5,473.4 C359.9,474.8 359.3,476.3 358.6,477.8 C358.0,479.2 357.3,480.7 356.6,482.2 C355.9,483.6 355.2,485.1 354.5,486.5 C353.8,488.0 353.0,489.5 352.2,490.9 C351.5,492.4 350.6,493.9 349.8,495.3 C349.0,496.8 348.1,498.3 347.2,499.7 C346.3,501.2 345.4,502.6 344.5,504.1 C343.5,505.6 342.5,507.0 341.5,508.5 C340.5,510.0 339.4,511.4 338.4,512.9 C337.3,514.3 336.2,515.8 335.0,517.3 C333.8,518.7 332.6,520.2 331.4,521.7 C330.2,523.1 328.9,524.6 327.6,526.0 C326.3,527.5 325.0,529.0 323.6,530.4 C322.2,531.9 320.8,533.4 319.3,534.8 C317.9,536.3 316.4,537.7 314.9,539.2 C313.4,540.7 311.1,542.9 310.3,543.6" fill="none" stroke="#0e0f16" stroke-width="3.0" stroke-linecap="round"/>
<ellipse cx="334.3" cy="216.5" rx="3.7" ry="3.9" fill="#0e0f16"/>
<ellipse cx="346.0" cy="225.8" rx="3.9" ry="3.9" fill="#0e0f16"/>
<ellipse cx="354.7" cy="235.4" rx="4.1" ry="3.9" fill="#0e0f16"/>
<ellipse cx="361.3" cy="245.5" rx="4.2" ry="3.9" fill="#0e0f16"/>
<ellipse cx="366.2" cy="255.3" rx="4.4" ry="3.9" fill="#0e0f16"/>
<ellipse cx="370.3" cy="265.5" rx="4.6" ry="3.9" fill="#0e0f16"/>
<ellipse cx="373.6" cy="275.0" rx="4.7" ry="3.9" fill="#0e0f16"/>
<ellipse cx="376.6" cy="284.5" rx="4.9" ry="3.9" fill="#0e0f16"/>
<ellipse cx="379.4" cy="294.1" rx="5.0" ry="3.9" fill="#0e0f16"/>
<ellipse cx="381.9" cy="303.8" rx="5.2" ry="3.9" fill="#0e0f16"/>
<ellipse cx="384.1" cy="313.5" rx="5.4" ry="3.9" fill="#0e0f16"/>
<ellipse cx="386.0" cy="323.4" rx="5.5" ry="3.9" fill="#0e0f16"/>
<ellipse cx="387.4" cy="333.3" rx="5.7" ry="3.9" fill="#0e0f16"/>
<ellipse cx="387.6" cy="373.2" rx="5.6" ry="3.9" fill="#0e0f16"/>
<ellipse cx="386.4" cy="383.1" rx="5.5" ry="3.9" fill="#0e0f16"/>
<ellipse cx="384.7" cy="392.9" rx="5.3" ry="3.9" fill="#0e0f16"/>
<ellipse cx="382.6" cy="402.7" rx="5.2" ry="3.9" fill="#0e0f16"/>
<ellipse cx="380.3" cy="412.4" rx="5.0" ry="3.9" fill="#0e0f16"/>
<ellipse cx="377.7" cy="422.1" rx="4.8" ry="3.9" fill="#0e0f16"/>
<ellipse cx="374.9" cy="431.7" rx="4.7" ry="3.9" fill="#0e0f16"/>
<ellipse cx="372.0" cy="441.3" rx="4.5" ry="3.9" fill="#0e0f16"/>
<ellipse cx="368.9" cy="450.8" rx="4.4" ry="3.9" fill="#0e0f16"/>
<ellipse cx="365.6" cy="460.2" rx="4.2" ry="3.9" fill="#0e0f16"/>
<ellipse cx="362.1" cy="469.6" rx="4.0" ry="3.9" fill="#0e0f16"/>
<ellipse cx="357.8" cy="479.7" rx="3.9" ry="3.9" fill="#0e0f16"/>
<ellipse cx="352.9" cy="489.6" rx="3.7" ry="3.9" fill="#0e0f16"/>
<ellipse cx="347.6" cy="499.2" rx="3.5" ry="3.9" fill="#0e0f16"/>
<ellipse cx="341.0" cy="509.2" rx="3.4" ry="3.3" fill="#0e0f16"/>
<ellipse cx="333.8" cy="518.8" rx="3.2" ry="3.3" fill="#0e0f16"/>
<ellipse cx="325.3" cy="528.6" rx="3.2" ry="3.3" fill="#0e0f16"/>
<ellipse cx="316.2" cy="538.0" rx="3.2" ry="3.3" fill="#0e0f16"/>
<ellipse cx="388.2" cy="354" rx="5.6" ry="13" fill="#0e0f16"/>
<path d="M403.1,200.5 C406.1,201.2 415.8,203.4 421.6,204.9 C427.4,206.3 432.8,207.8 437.9,209.2 C443.0,210.7 447.7,212.1 452.3,213.6 C456.8,215.0 460.9,216.5 464.9,217.9 C468.9,219.4 472.6,220.8 476.1,222.3 C479.6,223.7 482.9,225.2 485.9,226.6 C489.0,228.1 491.9,229.5 494.7,231.0 C497.4,232.4 499.9,233.9 502.4,235.3 C504.8,236.8 507.1,238.2 509.2,239.7 C511.4,241.1 513.4,242.6 515.3,244.0 C517.2,245.5 519.0,246.9 520.8,248.4 C522.5,249.9 524.1,251.3 525.7,252.8 C527.2,254.2 528.7,255.7 530.1,257.1 C531.5,258.6 532.8,260.0 534.1,261.5 C535.3,262.9 536.6,264.4 537.7,265.8 C538.9,267.3 540.0,268.7 541.0,270.2 C542.1,271.6 543.1,273.1 544.1,274.5 C545.1,276.0 546.0,277.4 546.9,278.9 C547.8,280.3 548.7,281.8 549.5,283.2 C550.3,284.7 551.2,286.1 551.9,287.6 C552.7,289.0 553.4,290.5 554.2,291.9 C554.9,293.4 555.6,294.8 556.2,296.3 C556.9,297.7 557.6,299.2 558.2,300.7 C558.8,302.1 559.4,303.6 560.0,305.0 C560.5,306.5 561.1,307.9 561.6,309.4 C562.1,310.8 562.6,312.3 563.1,313.7 C563.6,315.2 564.0,316.6 564.4,318.1 C564.9,319.5 565.3,321.0 565.7,322.4 C566.0,323.9 566.4,325.3 566.7,326.8 C567.1,328.2 567.4,329.7 567.7,331.1 C567.9,332.6 568.2,334.0 568.4,335.5 C568.7,336.9 568.9,338.4 569.0,339.8 C569.2,341.3 569.4,342.7 569.5,344.2 C569.6,345.6 569.7,347.1 569.8,348.6 C569.9,350.0 569.9,351.5 570.0,352.9 C570.0,354.4 570.0,355.8 569.9,357.3 C569.9,358.7 569.8,360.2 569.7,361.6 C569.7,363.1 569.5,364.5 569.4,366.0 C569.2,367.4 569.1,368.9 568.9,370.3 C568.7,371.8 568.4,373.2 568.2,374.7 C567.9,376.1 567.7,377.6 567.3,379.0 C567.0,380.5 566.7,381.9 566.3,383.4 C566.0,384.8 565.6,386.3 565.2,387.7 C564.7,389.2 564.3,390.6 563.8,392.1 C563.4,393.5 562.9,395.0 562.3,396.4 C561.8,397.9 561.3,399.4 560.7,400.8 C560.1,402.3 559.6,403.7 558.9,405.2 C558.3,406.6 557.7,408.1 557.0,409.5 C556.3,411.0 555.7,412.4 554.9,413.9 C554.2,415.3 553.5,416.8 552.7,418.2 C552.0,419.7 551.2,421.1 550.4,422.6 C549.6,424.0 548.8,425.5 547.9,426.9 C547.1,428.4 546.2,429.8 545.3,431.3 C544.5,432.7 543.6,434.2 542.6,435.6 C541.7,437.1 540.8,438.5 539.8,440.0 C538.8,441.4 537.8,442.9 536.8,444.3 C535.8,445.8 534.8,447.3 533.7,448.7 C532.7,450.2 531.6,451.6 530.5,453.1 C529.4,454.5 528.3,456.0 527.1,457.4 C526.0,458.9 524.8,460.3 523.7,461.8 C522.5,463.2 521.3,464.7 520.0,466.1 C518.8,467.6 517.5,469.0 516.3,470.5 C515.0,471.9 513.7,473.4 512.3,474.8 C511.0,476.3 509.6,477.7 508.2,479.2 C506.8,480.6 505.4,482.1 503.9,483.5 C502.5,485.0 501.0,486.4 499.5,487.9 C497.9,489.3 496.4,490.8 494.8,492.2 C493.2,493.7 491.5,495.1 489.9,496.6 C488.2,498.1 486.5,499.5 484.7,501.0 C483.0,502.4 481.2,503.9 479.3,505.3 C477.5,506.8 475.6,508.2 473.6,509.7 C471.7,511.1 469.7,512.6 467.7,514.0 C465.6,515.5 463.5,516.9 461.3,518.4 C459.2,519.8 457.0,521.3 454.7,522.7 C452.4,524.2 450.1,525.6 447.7,527.1 C445.3,528.5 442.8,530.0 440.3,531.4 C437.7,532.9 435.1,534.3 432.5,535.8 C429.8,537.2 427.0,538.7 424.2,540.1 C421.4,541.6 417.0,543.8 415.5,544.5" fill="none" stroke="#15161e" stroke-width="2.1" stroke-linecap="round"/>
<path d="M460.0,199.0 C461.0,199.0 464.0,199.1 466.0,199.1 C468.0,199.2 469.9,199.2 471.9,199.3 C473.9,199.4 475.9,199.5 477.9,199.6 C479.9,199.7 481.9,199.8 483.9,199.9 C485.9,200.0 487.8,200.1 489.8,200.3 C491.8,200.4 493.8,200.6 495.8,200.7 C497.8,200.9 499.8,201.0 501.8,201.2 C503.7,201.4 505.7,201.6 507.7,201.8 C509.7,202.0 511.7,202.2 513.7,202.4 C515.7,202.6 517.7,202.8 519.7,203.1 C521.6,203.3 523.6,203.5 525.6,203.8 C527.6,204.1 529.6,204.3 531.6,204.6 C533.6,204.9 535.6,205.2 537.6,205.5 C539.5,205.8 541.5,206.1 543.5,206.4 C545.5,206.7 547.5,207.0 549.5,207.4 C551.5,207.7 553.5,208.1 555.4,208.4 C557.4,208.8 559.4,209.2 561.4,209.6 C563.4,209.9 565.4,210.3 567.4,210.7 C569.4,211.2 571.4,211.6 573.3,212.0 C575.3,212.4 577.3,212.9 579.3,213.3 C581.3,213.8 583.3,214.2 585.3,214.7 C587.3,215.2 589.3,215.7 591.2,216.2 C593.2,216.7 595.2,217.2 597.2,217.7 C599.2,218.2 601.2,218.8 603.2,219.3 C605.2,219.9 607.1,220.4 609.1,221.0 C611.1,221.6 613.1,222.1 615.1,222.7 C617.1,223.3 619.1,223.9 621.1,224.6 C623.1,225.2 625.0,225.8 627.0,226.4 C629.0,227.1 632.0,228.1 633.0,228.4" fill="none" stroke="#2c2c3d" stroke-width="1.6" stroke-dasharray="2 3"/>
<path d="M516.3,544.3 C517.0,544.2 519.0,543.9 520.3,543.6 C521.6,543.4 523.0,543.1 524.3,542.8 C525.7,542.5 527.0,542.2 528.3,541.9 C529.7,541.6 531.0,541.3 532.3,540.9 C533.7,540.5 535.0,540.2 536.4,539.8 C537.7,539.4 539.0,539.0 540.4,538.6 C541.7,538.2 543.0,537.7 544.4,537.3 C545.7,536.8 547.0,536.4 548.4,535.9 C549.7,535.4 551.1,535.0 552.4,534.5 C553.7,534.0 555.1,533.4 556.4,532.9 C557.7,532.4 559.1,531.9 560.4,531.3 C561.8,530.8 563.1,530.2 564.4,529.7 C565.8,529.1 567.1,528.5 568.4,528.0 C569.8,527.4 571.1,526.8 572.4,526.2 C573.8,525.6 575.1,525.0 576.5,524.4 C577.8,523.8 579.1,523.1 580.5,522.5 C581.8,521.9 583.1,521.3 584.5,520.6 C585.8,520.0 587.1,519.3 588.5,518.7 C589.8,518.1 591.2,517.4 592.5,516.7 C593.8,516.1 595.2,515.4 596.5,514.8 C597.8,514.1 599.2,513.4 600.5,512.8 C601.9,512.1 603.2,511.4 604.5,510.8 C605.9,510.1 607.2,509.4 608.5,508.8 C609.9,508.1 611.2,507.4 612.5,506.8 C613.9,506.1 615.2,505.4 616.6,504.7 C617.9,504.1 619.2,503.4 620.6,502.7 C621.9,502.1 623.2,501.4 624.6,500.8 C625.9,500.1 627.3,499.4 628.6,498.8 C629.9,498.1 631.9,497.2 632.6,496.8" fill="none" stroke="#1c1d28" stroke-width="1.8"/>
<circle cx="268.0" cy="195.0" r="1.6" fill="#2c2c3d"/>
<circle cx="330.0" cy="196.5" r="1.6" fill="#2c2c3d"/>
<circle cx="372.0" cy="197.5" r="1.6" fill="#2c2c3d"/>
<circle cx="453.0" cy="196.0" r="1.6" fill="#2c2c3d"/>
<circle cx="485.0" cy="197.0" r="1.6" fill="#2c2c3d"/>
<circle cx="540.0" cy="196.0" r="1.6" fill="#2c2c3d"/>
<circle cx="585.0" cy="197.0" r="1.6" fill="#2c2c3d"/>
<circle cx="620.0" cy="196.0" r="1.6" fill="#2c2c3d"/>
<circle cx="618.0" cy="545.0" r="1.6" fill="#2c2c3d"/>
<circle cx="627.0" cy="545.0" r="1.6" fill="#2c2c3d"/>
<rect x="755.0" y="67.5" width="426.0" height="495.5" fill="#f9fbfb"/>
<g><rect x="755.0" y="69.5" width="426.0" height="1.6" fill="#e8f0f0" opacity="0.33"/><rect x="755.0" y="76.6" width="426.0" height="1.1" fill="#e8f0f0" opacity="0.52"/><rect x="755.0" y="82.1" width="426.0" height="1.1" fill="#e8f0f0" opacity="0.50"/><rect x="755.0" y="85.8" width="426.0" height="1.9" fill="#e8f0f0" opacity="0.28"/><rect x="755.0" y="89.8" width="426.0" height="1.8" fill="#e8f0f0" opacity="0.66"/><rect x="755.0" y="94.0" width="426.0" height="1.4" fill="#e8f0f0" opacity="0.56"/><rect x="755.0" y="102.7" width="426.0" height="2.2" fill="#e8f0f0" opacity="0.45"/><rect x="755.0" y="111.6" width="426.0" height="1.1" fill="#e8f0f0" opacity="0.68"/><rect x="755.0" y="116.7" width="426.0" height="1.3" fill="#e8f0f0" opacity="0.31"/><rect x="755.0" y="121.8" width="426.0" height="2.6" fill="#e8f0f0" opacity="0.34"/><rect x="755.0" y="128.5" width="426.0" height="2.3" fill="#e8f0f0" opacity="0.44"/><rect x="755.0" y="135.1" width="426.0" height="1.1" fill="#e8f0f0" opacity="0.28"/><rect x="755.0" y="139.7" width="426.0" height="2.4" fill="#e8f0f0" opacity="0.46"/><rect x="755.0" y="144.9" width="426.0" height="2.2" fill="#e8f0f0" opacity="0.48"/><rect x="755.0" y="150.1" width="426.0" height="2.6" fill="#e8f0f0" opacity="0.60"/><rect x="755.0" y="154.9" width="426.0" height="2.1" fill="#e8f0f0" opacity="0.51"/><rect x="755.0" y="163.2" width="426.0" height="2.5" fill="#e8f0f0" opacity="0.39"/><rect x="755.0" y="172.1" width="426.0" height="1.2" fill="#e8f0f0" opacity="0.46"/><rect x="755.0" y="179.8" width="426.0" height="1.3" fill="#e8f0f0" opacity="0.49"/><rect x="755.0" y="183.5" width="426.0" height="2.3" fill="#e8f0f0" opacity="0.63"/><rect x="755.0" y="190.1" width="426.0" height="2.8" fill="#e8f0f0" opacity="0.41"/><rect x="755.0" y="197.5" width="426.0" height="2.2" fill="#e8f0f0" opacity="0.54"/><rect x="755.0" y="203.5" width="426.0" height="2.7" fill="#e8f0f0" opacity="0.72"/><rect x="755.0" y="209.6" width="426.0" height="2.3" fill="#e8f0f0" opacity="0.28"/><rect x="755.0" y="216.9" width="426.0" height="2.3" fill="#e8f0f0" opacity="0.75"/><rect x="755.0" y="225.0" width="426.0" height="1.6" fill="#e8f0f0" opacity="0.44"/><rect x="755.0" y="232.1" width="426.0" height="1.0" fill="#e8f0f0" opacity="0.48"/><rect x="755.0" y="236.6" width="426.0" height="1.2" fill="#e8f0f0" opacity="0.28"/><rect x="755.0" y="244.3" width="426.0" height="1.3" fill="#e8f0f0" opacity="0.37"/><rect x="755.0" y="249.9" width="426.0" height="2.7" fill="#e8f0f0" opacity="0.29"/><rect x="755.0" y="255.9" width="426.0" height="2.1" fill="#e8f0f0" opacity="0.69"/><rect x="755.0" y="263.9" width="426.0" height="2.7" fill="#e8f0f0" opacity="0.39"/><rect x="755.0" y="269.7" width="426.0" height="1.7" fill="#e8f0f0" opacity="0.69"/><rect x="755.0" y="278.5" width="426.0" height="1.3" fill="#e8f0f0" opacity="0.34"/><rect x="755.0" y="283.2" width="426.0" height="1.5" fill="#e8f0f0" opacity="0.49"/><rect x="755.0" y="290.0" width="426.0" height="1.5" fill="#e8f0f0" opacity="0.25"/><rect x="755.0" y="295.8" width="426.0" height="1.7" fill="#e8f0f0" opacity="0.53"/><rect x="755.0" y="304.5" width="426.0" height="2.4" fill="#e8f0f0" opacity="0.51"/><rect x="755.0" y="311.4" width="426.0" height="2.4" fill="#e8f0f0" opacity="0.28"/><rect x="755.0" y="319.9" width="426.0" height="2.6" fill="#e8f0f0" opacity="0.69"/><rect x="755.0" y="327.8" width="426.0" height="1.8" fill="#e8f0f0" opacity="0.45"/><rect x="755.0" y="331.8" width="426.0" height="2.3" fill="#e8f0f0" opacity="0.28"/><rect x="755.0" y="335.7" width="426.0" height="1.4" fill="#e8f0f0" opacity="0.33"/><rect x="755.0" y="341.1" width="426.0" height="1.1" fill="#e8f0f0" opacity="0.25"/><rect x="755.0" y="345.4" width="426.0" height="1.2" fill="#e8f0f0" opacity="0.43"/><rect x="755.0" y="349.1" width="426.0" height="2.7" fill="#e8f0f0" opacity="0.56"/><rect x="755.0" y="353.4" width="426.0" height="1.5" fill="#e8f0f0" opacity="0.42"/><rect x="755.0" y="358.9" width="426.0" height="1.2" fill="#e8f0f0" opacity="0.67"/><rect x="755.0" y="367.8" width="426.0" height="1.9" fill="#e8f0f0" opacity="0.49"/><rect x="755.0" y="371.8" width="426.0" height="1.2" fill="#e8f0f0" opacity="0.42"/><rect x="755.0" y="376.8" width="426.0" height="2.7" fill="#e8f0f0" opacity="0.33"/><rect x="755.0" y="380.4" width="426.0" height="2.9" fill="#e8f0f0" opacity="0.51"/><rect x="755.0" y="384.7" width="426.0" height="2.1" fill="#e8f0f0" opacity="0.26"/><rect x="755.0" y="391.1" width="426.0" height="3.0" fill="#e8f0f0" opacity="0.68"/><rect x="755.0" y="398.4" width="426.0" height="1.5" fill="#e8f0f0" opacity="0.43"/><rect x="755.0" y="402.8" width="426.0" height="2.5" fill="#e8f0f0" opacity="0.52"/><rect x="755.0" y="410.6" width="426.0" height="1.7" fill="#e8f0f0" opacity="0.36"/><rect x="755.0" y="418.6" width="426.0" height="3.0" fill="#e8f0f0" opacity="0.68"/><rect x="755.0" y="426.5" width="426.0" height="2.6" fill="#e8f0f0" opacity="0.62"/><rect x="755.0" y="431.3" width="426.0" height="2.0" fill="#e8f0f0" opacity="0.43"/><rect x="755.0" y="434.9" width="426.0" height="1.1" fill="#e8f0f0" opacity="0.39"/><rect x="755.0" y="439.9" width="426.0" height="2.4" fill="#e8f0f0" opacity="0.73"/><rect x="755.0" y="445.8" width="426.0" height="2.9" fill="#e8f0f0" opacity="0.74"/><rect x="755.0" y="454.6" width="426.0" height="1.7" fill="#e8f0f0" opacity="0.36"/><rect x="755.0" y="459.3" width="426.0" height="1.4" fill="#e8f0f0" opacity="0.35"/><rect x="755.0" y="466.3" width="426.0" height="2.8" fill="#e8f0f0" opacity="0.67"/><rect x="755.0" y="472.4" width="426.0" height="2.3" fill="#e8f0f0" opacity="0.65"/><rect x="755.0" y="476.4" width="426.0" height="2.3" fill="#e8f0f0" opacity="0.70"/><rect x="755.0" y="484.2" width="426.0" height="2.5" fill="#e8f0f0" opacity="0.49"/><rect x="755.0" y="488.6" width="426.0" height="2.6" fill="#e8f0f0" opacity="0.42"/><rect x="755.0" y="496.5" width="426.0" height="2.9" fill="#e8f0f0" opacity="0.45"/><rect x="755.0" y="502.3" width="426.0" height="2.9" fill="#e8f0f0" opacity="0.61"/><rect x="755.0" y="506.7" width="426.0" height="1.3" fill="#e8f0f0" opacity="0.33"/><rect x="755.0" y="515.2" width="426.0" height="2.6" fill="#e8f0f0" opacity="0.32"/><rect x="755.0" y="523.2" width="426.0" height="3.0" fill="#e8f0f0" opacity="0.58"/><rect x="755.0" y="528.6" width="426.0" height="2.1" fill="#e8f0f0" opacity="0.32"/><rect x="755.0" y="532.2" width="426.0" height="2.9" fill="#e8f0f0" opacity="0.57"/><rect x="755.0" y="538.6" width="426.0" height="2.9" fill="#e8f0f0" opacity="0.47"/></g>
<rect x="755" y="546" width="426" height="17" fill="#edf3f3"/>
<ellipse cx="960" cy="300" rx="130" ry="70" fill="#dfeaea" opacity="0.7" filter="url(#blur9)"/>
<rect x="790" y="194.0" width="391" height="32.0" fill="#f1f6f6"/>
<rect x="966.4" y="211.9" width="2.1" height="1.6" fill="#ffffff"/>
<rect x="1019.1" y="199.9" width="2.5" height="1.8" fill="#ffffff"/>
<rect x="826.7" y="203.7" width="2.8" height="1.8" fill="#8599a5"/>
<rect x="806.3" y="225.4" width="2.5" height="1.7" fill="#ffffff"/>
<rect x="851.4" y="194.5" width="1.3" height="1.4" fill="#ffffff"/>
<rect x="884.4" y="195.0" width="2.1" height="1.9" fill="#ffffff"/>
<rect x="992.5" y="214.5" width="2.5" height="1.6" fill="#ffffff"/>
<rect x="898.5" y="225.9" width="2.9" height="1.8" fill="#ffffff"/>
<rect x="913.0" y="201.3" width="1.3" height="1.8" fill="#c8dcdc"/>
<rect x="946.2" y="221.1" width="3.1" height="1.9" fill="#c8dcdc"/>
<rect x="790.2" y="200.7" width="2.1" height="2.0" fill="#ffffff"/>
<rect x="945.0" y="196.3" width="2.8" height="1.4" fill="#ffffff"/>
<rect x="824.0" y="204.6" width="2.7" height="1.3" fill="#ffffff"/>
<rect x="886.1" y="197.2" width="2.8" height="1.3" fill="#8599a5"/>
<rect x="1008.1" y="208.3" width="2.7" height="1.3" fill="#c8dcdc"/>
<rect x="1041.0" y="197.7" width="1.6" height="1.4" fill="#c8dcdc"/>
<rect x="1168.7" y="219.7" width="3.0" height="1.4" fill="#c8dcdc"/>
<rect x="943.8" y="221.3" width="1.4" height="2.0" fill="#ffffff"/>
<rect x="873.2" y="202.3" width="1.9" height="1.4" fill="#ffffff"/>
<rect x="818.6" y="196.9" width="1.7" height="1.7" fill="#ffffff"/>
<rect x="935.0" y="208.5" width="2.2" height="1.7" fill="#ffffff"/>
<rect x="1127.9" y="199.9" width="3.0" height="1.9" fill="#8599a5"/>
<rect x="887.3" y="200.1" width="3.1" height="1.4" fill="#ffffff"/>
<rect x="1160.6" y="222.2" width="2.0" height="1.3" fill="#ffffff"/>
<rect x="805.1" y="224.8" width="2.6" height="1.4" fill="#c8dcdc"/>
<rect x="1111.2" y="213.1" width="1.6" height="1.8" fill="#c8dcdc"/>
<rect x="816.8" y="201.3" width="2.9" height="1.7" fill="#ffffff"/>
<rect x="899.3" y="223.4" width="1.2" height="1.4" fill="#c8dcdc"/>
<rect x="963.8" y="195.9" width="1.9" height="1.7" fill="#c8dcdc"/>
<rect x="841.3" y="205.6" width="3.2" height="1.7" fill="#ffffff"/>
<rect x="1059.6" y="212.7" width="1.3" height="1.2" fill="#8599a5"/>
<rect x="1145.0" y="216.4" width="1.2" height="1.7" fill="#ffffff"/>
<rect x="978.1" y="217.4" width="3.2" height="1.3" fill="#c8dcdc"/>
<rect x="1003.0" y="217.6" width="2.7" height="1.8" fill="#ffffff"/>
<rect x="1099.4" y="223.3" width="2.6" height="1.9" fill="#c8dcdc"/>
<rect x="1129.7" y="207.3" width="2.9" height="1.7" fill="#ffffff"/>
<rect x="1033.7" y="206.2" width="2.4" height="1.3" fill="#ffffff"/>
<rect x="1039.4" y="225.8" width="2.7" height="1.5" fill="#ffffff"/>
<rect x="1076.7" y="212.6" width="2.9" height="1.3" fill="#c8dcdc"/>
<rect x="1082.6" y="195.0" width="2.2" height="1.4" fill="#ffffff"/>
<rect x="1062.4" y="209.9" width="3.0" height="1.4" fill="#ffffff"/>
<rect x="794.4" y="203.6" width="1.6" height="1.3" fill="#ffffff"/>
<rect x="1143.2" y="215.1" width="3.0" height="1.5" fill="#c8dcdc"/>
<rect x="1049.7" y="200.4" width="2.8" height="1.9" fill="#c8dcdc"/>
<rect x="1133.3" y="206.3" width="1.8" height="1.3" fill="#ffffff"/>
<rect x="983.6" y="220.8" width="2.6" height="2.0" fill="#ffffff"/>
<rect x="898.0" y="199.4" width="1.8" height="1.4" fill="#ffffff"/>
<rect x="951.5" y="214.0" width="1.8" height="1.9" fill="#ffffff"/>
<rect x="1173.0" y="208.5" width="1.3" height="1.9" fill="#8599a5"/>
<rect x="806.2" y="216.7" width="1.8" height="1.8" fill="#ffffff"/>
<rect x="797.5" y="198.3" width="1.2" height="1.9" fill="#ffffff"/>
<rect x="882.6" y="198.5" width="2.5" height="1.6" fill="#1c1d28"/>
<rect x="1035.7" y="215.0" width="3.1" height="1.7" fill="#ffffff"/>
<rect x="867.7" y="209.2" width="1.2" height="1.6" fill="#c8dcdc"/>
<rect x="1068.5" y="199.7" width="1.9" height="1.8" fill="#c8dcdc"/>
<rect x="993.0" y="213.7" width="2.0" height="1.8" fill="#ffffff"/>
<rect x="1143.4" y="196.8" width="2.6" height="1.3" fill="#ffffff"/>
<rect x="966.9" y="214.0" width="2.0" height="1.7" fill="#ffffff"/>
<rect x="1132.9" y="219.5" width="2.1" height="1.7" fill="#ffffff"/>
<rect x="869.9" y="217.1" width="2.5" height="1.8" fill="#ffffff"/>
<rect x="873.2" y="222.8" width="3.2" height="1.6" fill="#ffffff"/>
<rect x="1098.4" y="204.3" width="2.9" height="1.5" fill="#ffffff"/>
<rect x="822.3" y="208.1" width="2.7" height="1.6" fill="#ffffff"/>
<rect x="801.1" y="219.9" width="2.8" height="1.3" fill="#8599a5"/>
<rect x="920.7" y="219.2" width="1.5" height="1.6" fill="#8599a5"/>
<rect x="1072.2" y="220.9" width="3.1" height="1.6" fill="#ffffff"/>
<rect x="1160.2" y="196.8" width="2.3" height="1.4" fill="#c8dcdc"/>
<rect x="1074.2" y="214.4" width="2.9" height="1.6" fill="#ffffff"/>
<rect x="911.6" y="206.2" width="3.0" height="1.4" fill="#ffffff"/>
<rect x="1121.8" y="225.0" width="2.3" height="1.4" fill="#ffffff"/>
<rect x="999.0" y="210.1" width="1.3" height="2.0" fill="#ffffff"/>
<rect x="991.2" y="206.8" width="2.3" height="1.6" fill="#ffffff"/>
<rect x="1059.5" y="196.1" width="2.0" height="2.0" fill="#ffffff"/>
<rect x="1150.1" y="202.6" width="1.5" height="1.5" fill="#ffffff"/>
<rect x="1108.1" y="222.8" width="1.8" height="1.4" fill="#ffffff"/>
<rect x="1031.0" y="223.6" width="2.8" height="1.2" fill="#8599a5"/>
<rect x="865.7" y="201.3" width="1.8" height="1.5" fill="#ffffff"/>
<rect x="1031.7" y="197.4" width="1.4" height="1.6" fill="#ffffff"/>
<rect x="887.7" y="200.3" width="2.1" height="1.5" fill="#ffffff"/>
<rect x="951.2" y="210.9" width="1.6" height="1.7" fill="#8599a5"/>
<rect x="1039.0" y="210.9" width="2.4" height="1.9" fill="#ffffff"/>
<rect x="880.7" y="217.7" width="3.0" height="1.5" fill="#ffffff"/>
<rect x="912.8" y="223.5" width="3.2" height="1.9" fill="#c8dcdc"/>
<rect x="842.2" y="201.7" width="1.7" height="1.3" fill="#ffffff"/>
<rect x="1114.5" y="207.5" width="1.5" height="1.5" fill="#ffffff"/>
<rect x="1057.2" y="194.6" width="2.6" height="1.9" fill="#c8dcdc"/>
<rect x="1167.7" y="197.7" width="2.7" height="1.6" fill="#ffffff"/>
<rect x="1057.4" y="200.0" width="1.4" height="1.2" fill="#8599a5"/>
<rect x="1005.2" y="210.5" width="1.5" height="1.3" fill="#ffffff"/>
<rect x="869.5" y="220.9" width="3.1" height="1.3" fill="#ffffff"/>
<rect x="814.2" y="224.4" width="2.7" height="1.5" fill="#ffffff"/>
<rect x="972.1" y="210.5" width="2.4" height="1.2" fill="#c8dcdc"/>
<rect x="1063.4" y="221.0" width="2.1" height="1.8" fill="#c8dcdc"/>
<rect x="948.1" y="200.2" width="2.2" height="1.2" fill="#8599a5"/>
<rect x="1138.3" y="219.7" width="2.9" height="1.7" fill="#ffffff"/>
<rect x="947.8" y="213.2" width="3.2" height="1.8" fill="#ffffff"/>
<rect x="890.7" y="223.2" width="2.8" height="1.9" fill="#ffffff"/>
<rect x="948.2" y="222.7" width="2.6" height="1.8" fill="#ffffff"/>
<rect x="1088.4" y="207.0" width="1.3" height="1.5" fill="#ffffff"/>
<rect x="972.8" y="194.3" width="2.5" height="1.7" fill="#c8dcdc"/>
<rect x="880.5" y="224.2" width="1.9" height="1.7" fill="#ffffff"/>
<rect x="1012.1" y="211.1" width="3.2" height="1.7" fill="#c8dcdc"/>
<rect x="1063.5" y="218.4" width="1.2" height="1.7" fill="#ffffff"/>
<rect x="1078.1" y="202.2" width="1.3" height="1.4" fill="#c8dcdc"/>
<rect x="936.5" y="197.2" width="3.0" height="1.6" fill="#c8dcdc"/>
<rect x="988.0" y="224.9" width="3.2" height="1.7" fill="#ffffff"/>
<rect x="1105.7" y="196.4" width="2.7" height="1.2" fill="#ffffff"/>
<rect x="1152.8" y="199.1" width="1.5" height="1.6" fill="#ffffff"/>
<rect x="1028.4" y="195.9" width="2.0" height="1.6" fill="#ffffff"/>
<rect x="1023.2" y="205.7" width="2.5" height="1.6" fill="#c8dcdc"/>
<rect x="900.6" y="216.9" width="1.2" height="1.4" fill="#c8dcdc"/>
<rect x="806.7" y="199.0" width="2.0" height="1.9" fill="#ffffff"/>
<rect x="1081.9" y="195.6" width="3.1" height="1.3" fill="#ffffff"/>
<rect x="1143.2" y="207.7" width="3.1" height="1.4" fill="#ffffff"/>
<rect x="994.1" y="224.0" width="2.1" height="2.0" fill="#ffffff"/>
<rect x="1108.5" y="213.3" width="2.4" height="1.6" fill="#8599a5"/>
<rect x="869.4" y="195.7" width="1.4" height="1.6" fill="#ffffff"/>
<rect x="1050.5" y="208.6" width="2.4" height="1.5" fill="#c8dcdc"/>
<rect x="1093.4" y="211.0" width="3.1" height="1.8" fill="#ffffff"/>
<rect x="883.0" y="197.6" width="2.8" height="1.7" fill="#ffffff"/>
<rect x="930.1" y="202.7" width="2.3" height="1.7" fill="#ffffff"/>
<rect x="1036.9" y="218.1" width="1.7" height="2.0" fill="#c8dcdc"/>
<rect x="1147.1" y="222.1" width="1.3" height="1.4" fill="#1c1d28"/>
<rect x="955.8" y="213.9" width="2.3" height="1.3" fill="#8599a5"/>
<rect x="823.7" y="215.6" width="2.5" height="1.5" fill="#ffffff"/>
<rect x="976.6" y="200.7" width="2.7" height="1.9" fill="#c8dcdc"/>
<rect x="819.0" y="197.8" width="2.4" height="1.8" fill="#ffffff"/>
<rect x="873.1" y="207.6" width="2.8" height="1.5" fill="#c8dcdc"/>
<rect x="1044.9" y="225.7" width="2.3" height="1.8" fill="#c8dcdc"/>
<rect x="1149.1" y="207.7" width="1.4" height="1.9" fill="#c8dcdc"/>
<rect x="820.6" y="196.7" width="2.2" height="1.7" fill="#ffffff"/>
<rect x="906.6" y="218.8" width="1.6" height="1.7" fill="#8599a5"/>
<rect x="821.9" y="203.7" width="2.6" height="1.4" fill="#ffffff"/>
<rect x="845.7" y="205.4" width="1.9" height="1.3" fill="#ffffff"/>
<rect x="1066.6" y="212.2" width="3.1" height="1.9" fill="#ffffff"/>
<rect x="960.8" y="219.7" width="1.8" height="1.5" fill="#c8dcdc"/>
<rect x="1154.5" y="222.6" width="1.9" height="1.5" fill="#c8dcdc"/>
<rect x="931.7" y="206.7" width="1.6" height="1.7" fill="#c8dcdc"/>
<rect x="1100.9" y="211.3" width="2.3" height="1.3" fill="#ffffff"/>
<rect x="1086.0" y="222.2" width="1.2" height="1.6" fill="#c8dcdc"/>
<rect x="1002.2" y="212.2" width="2.5" height="1.8" fill="#ffffff"/>
<rect x="815.0" y="211.5" width="1.4" height="1.3" fill="#ffffff"/>
<rect x="1077.5" y="222.8" width="2.5" height="1.3" fill="#8599a5"/>
<rect x="1080.9" y="214.8" width="1.6" height="1.8" fill="#c8dcdc"/>
<rect x="993.4" y="218.5" width="1.9" height="2.0" fill="#c8dcdc"/>
<rect x="1052.2" y="209.8" width="2.6" height="1.8" fill="#ffffff"/>
<rect x="1146.8" y="207.1" width="2.5" height="1.9" fill="#ffffff"/>
<rect x="1104.3" y="220.7" width="3.1" height="1.7" fill="#ffffff"/>
<rect x="994.3" y="216.7" width="2.0" height="1.5" fill="#ffffff"/>
<rect x="847.0" y="217.7" width="2.0" height="1.3" fill="#ffffff"/>
<rect x="869.7" y="207.6" width="3.1" height="1.2" fill="#c8dcdc"/>
<rect x="910.3" y="197.7" width="2.8" height="1.3" fill="#ffffff"/>
<rect x="814.3" y="208.7" width="3.0" height="1.2" fill="#ffffff"/>
<rect x="832.4" y="199.9" width="1.7" height="1.8" fill="#c8dcdc"/>
<rect x="1022.0" y="201.2" width="1.8" height="1.3" fill="#c8dcdc"/>
<rect x="1085.4" y="204.0" width="2.8" height="1.6" fill="#ffffff"/>
<rect x="891.6" y="222.4" width="1.9" height="1.6" fill="#ffffff"/>
<rect x="1163.2" y="209.4" width="1.3" height="2.0" fill="#c8dcdc"/>
<rect x="1102.6" y="206.3" width="2.2" height="1.4" fill="#ffffff"/>
<rect x="1176.2" y="215.0" width="1.2" height="1.6" fill="#c8dcdc"/>
<rect x="934.9" y="219.5" width="2.4" height="1.3" fill="#ffffff"/>
<rect x="851.2" y="204.3" width="2.9" height="1.6" fill="#c8dcdc"/>
<rect x="1038.4" y="225.8" width="2.3" height="1.3" fill="#c8dcdc"/>
<rect x="1090.4" y="194.0" width="2.9" height="1.9" fill="#ffffff"/>
<rect x="822.1" y="202.6" width="1.4" height="1.6" fill="#ffffff"/>
<rect x="972.8" y="224.6" width="2.9" height="1.4" fill="#ffffff"/>
<rect x="1097.8" y="207.3" width="1.4" height="1.9" fill="#ffffff"/>
<rect x="871.3" y="211.4" width="1.5" height="1.9" fill="#ffffff"/>
<rect x="911.4" y="203.9" width="1.8" height="1.6" fill="#8599a5"/>
<rect x="1068.9" y="205.5" width="1.4" height="1.5" fill="#ffffff"/>
<rect x="970.1" y="224.9" width="2.5" height="1.2" fill="#ffffff"/>
<rect x="937.1" y="216.7" width="2.3" height="1.6" fill="#c8dcdc"/>
<rect x="794.1" y="225.7" width="1.6" height="1.7" fill="#ffffff"/>
<rect x="903.3" y="206.0" width="1.8" height="1.5" fill="#ffffff"/>
<rect x="943.0" y="215.3" width="1.6" height="1.8" fill="#c8dcdc"/>
<rect x="918.5" y="224.2" width="2.6" height="1.5" fill="#ffffff"/>
<rect x="1112.5" y="197.0" width="1.4" height="1.7" fill="#8599a5"/>
<rect x="1066.2" y="199.8" width="2.9" height="1.7" fill="#c8dcdc"/>
<rect x="825.1" y="201.3" width="1.4" height="1.5" fill="#8599a5"/>
<rect x="818.3" y="223.5" width="2.2" height="1.7" fill="#c8dcdc"/>
<rect x="1089.1" y="220.3" width="1.9" height="1.5" fill="#c8dcdc"/>
<rect x="796.0" y="206.8" width="3.2" height="1.8" fill="#ffffff"/>
<rect x="1047.5" y="213.5" width="1.9" height="1.5" fill="#1c1d28"/>
<rect x="1043.8" y="197.4" width="2.2" height="1.8" fill="#c8dcdc"/>
<rect x="1111.8" y="213.6" width="2.7" height="1.9" fill="#8599a5"/>
<rect x="1003.8" y="205.3" width="1.5" height="1.8" fill="#ffffff"/>
<rect x="1174.8" y="210.5" width="2.9" height="1.4" fill="#ffffff"/>
<rect x="1158.5" y="214.1" width="1.4" height="1.4" fill="#c8dcdc"/>
<rect x="1014.8" y="216.3" width="3.1" height="1.5" fill="#c8dcdc"/>
<rect x="970.6" y="198.0" width="1.5" height="1.9" fill="#ffffff"/>
<rect x="1001.9" y="211.9" width="1.7" height="1.9" fill="#ffffff"/>
<rect x="1176.9" y="220.2" width="1.4" height="1.9" fill="#ffffff"/>
<rect x="902.5" y="222.7" width="2.3" height="1.9" fill="#c8dcdc"/>
<rect x="862.4" y="211.5" width="1.3" height="1.3" fill="#8599a5"/>
<rect x="1174.9" y="224.1" width="1.8" height="1.7" fill="#ffffff"/>
<rect x="1077.7" y="206.2" width="2.8" height="1.2" fill="#ffffff"/>
<rect x="867.8" y="209.0" width="2.0" height="1.7" fill="#8599a5"/>
<rect x="857.7" y="210.6" width="2.3" height="1.5" fill="#c8dcdc"/>
<rect x="1040.3" y="195.2" width="1.5" height="2.0" fill="#ffffff"/>
<rect x="1024.0" y="209.0" width="2.4" height="1.8" fill="#c8dcdc"/>
<rect x="1085.6" y="218.1" width="3.2" height="1.9" fill="#ffffff"/>
<rect x="1123.5" y="207.1" width="2.3" height="1.9" fill="#c8dcdc"/>
<rect x="995.1" y="210.8" width="3.0" height="1.5" fill="#c8dcdc"/>
<rect x="811.3" y="217.2" width="2.7" height="1.7" fill="#ffffff"/>
<rect x="1083.2" y="203.8" width="1.3" height="1.3" fill="#ffffff"/>
<rect x="964.3" y="210.1" width="1.3" height="1.8" fill="#c8dcdc"/>
<rect x="995.2" y="201.7" width="2.0" height="1.4" fill="#c8dcdc"/>
<rect x="816.7" y="223.2" width="2.5" height="1.9" fill="#ffffff"/>
<rect x="954.3" y="219.8" width="2.7" height="1.7" fill="#c8dcdc"/>
<rect x="1142.3" y="197.2" width="1.4" height="1.6" fill="#ffffff"/>
<rect x="1160.9" y="194.0" width="1.8" height="1.5" fill="#c8dcdc"/>
<rect x="814.4" y="222.6" width="2.0" height="1.5" fill="#ffffff"/>
<rect x="1018.3" y="195.5" width="3.0" height="1.4" fill="#1c1d28"/>
<rect x="984.4" y="223.9" width="2.1" height="1.4" fill="#ffffff"/>
<rect x="905.2" y="223.5" width="1.6" height="1.9" fill="#ffffff"/>
<rect x="928.1" y="209.1" width="3.0" height="2.0" fill="#c8dcdc"/>
<rect x="868.8" y="214.2" width="3.0" height="1.2" fill="#c8dcdc"/>
<rect x="831.4" y="217.2" width="3.0" height="1.9" fill="#c8dcdc"/>
<rect x="1068.1" y="198.3" width="3.1" height="1.6" fill="#ffffff"/>
<rect x="820.8" y="201.1" width="2.6" height="1.4" fill="#c8dcdc"/>
<rect x="860.6" y="201.5" width="2.8" height="1.5" fill="#ffffff"/>
<rect x="1048.2" y="222.3" width="1.7" height="1.4" fill="#ffffff"/>
<rect x="1151.4" y="215.3" width="2.5" height="1.3" fill="#c8dcdc"/>
<rect x="1173.4" y="208.1" width="2.3" height="1.2" fill="#ffffff"/>
<rect x="1023.9" y="203.1" width="2.8" height="1.3" fill="#c8dcdc"/>
<rect x="901.2" y="218.2" width="1.8" height="1.6" fill="#c8dcdc"/>
<rect x="862.7" y="222.7" width="1.3" height="1.6" fill="#ffffff"/>
<rect x="1082.7" y="206.3" width="2.2" height="1.3" fill="#ffffff"/>
<rect x="1006.8" y="214.6" width="2.5" height="1.8" fill="#c8dcdc"/>
<rect x="991.5" y="210.2" width="2.6" height="1.6" fill="#ffffff"/>
<rect x="1161.1" y="199.6" width="1.5" height="1.7" fill="#ffffff"/>
<rect x="881.8" y="208.1" width="2.8" height="1.8" fill="#ffffff"/>
<rect x="882.0" y="209.7" width="2.4" height="1.6" fill="#c8dcdc"/>
<rect x="803.8" y="213.1" width="2.3" height="1.9" fill="#ffffff"/>
<rect x="860.2" y="198.9" width="2.2" height="1.5" fill="#1c1d28"/>
<rect x="962.3" y="202.4" width="1.3" height="1.9" fill="#ffffff"/>
<rect x="1011.9" y="211.4" width="1.7" height="1.3" fill="#ffffff"/>
<rect x="911.3" y="195.4" width="2.4" height="1.6" fill="#c8dcdc"/>
<rect x="893.2" y="212.8" width="2.8" height="1.3" fill="#8599a5"/>
<rect x="889.4" y="199.1" width="2.9" height="1.8" fill="#ffffff"/>
<rect x="813.8" y="207.1" width="1.6" height="2.0" fill="#c8dcdc"/>
<rect x="806.4" y="209.7" width="3.2" height="1.3" fill="#ffffff"/>
<rect x="967.6" y="217.8" width="1.7" height="1.9" fill="#1c1d28"/>
<rect x="845.2" y="206.6" width="2.0" height="1.3" fill="#c8dcdc"/>
<rect x="803.4" y="225.9" width="2.7" height="1.4" fill="#ffffff"/>
<rect x="888.8" y="211.7" width="2.1" height="1.9" fill="#c8dcdc"/>
<rect x="932.0" y="204.8" width="2.4" height="1.2" fill="#ffffff"/>
<rect x="947.2" y="214.8" width="1.9" height="1.8" fill="#8599a5"/>
<rect x="1127.1" y="212.9" width="2.1" height="1.5" fill="#ffffff"/>
<rect x="1118.8" y="206.2" width="1.6" height="1.5" fill="#ffffff"/>
<rect x="861.6" y="211.6" width="1.6" height="1.4" fill="#8599a5"/>
<rect x="972.4" y="203.9" width="3.2" height="1.7" fill="#c8dcdc"/>
<rect x="1126.5" y="200.5" width="1.3" height="1.8" fill="#c8dcdc"/>
<rect x="931.5" y="202.8" width="1.6" height="1.4" fill="#1c1d28"/>
<rect x="943.3" y="223.6" width="1.7" height="1.5" fill="#ffffff"/>
<rect x="849.9" y="224.0" width="2.7" height="1.8" fill="#c8dcdc"/>
<rect x="1143.8" y="194.7" width="2.0" height="1.3" fill="#c8dcdc"/>
<rect x="1134.1" y="204.4" width="2.2" height="1.2" fill="#ffffff"/>
<rect x="943.6" y="201.6" width="1.5" height="1.7" fill="#1c1d28"/>
<rect x="802.4" y="204.0" width="2.3" height="1.3" fill="#c8dcdc"/>
<rect x="1065.6" y="202.3" width="2.5" height="1.3" fill="#ffffff"/>
<rect x="869.9" y="203.0" width="2.0" height="1.5" fill="#ffffff"/>
<rect x="1127.7" y="201.2" width="1.9" height="1.4" fill="#c8dcdc"/>
<rect x="805.9" y="194.8" width="2.3" height="1.8" fill="#ffffff"/>
<rect x="1170.5" y="203.5" width="3.0" height="1.4" fill="#ffffff"/>
<rect x="1058.8" y="215.3" width="2.9" height="1.4" fill="#ffffff"/>
<rect x="1036.7" y="196.9" width="2.0" height="1.2" fill="#c8dcdc"/>
<rect x="939.5" y="204.5" width="1.8" height="1.3" fill="#ffffff"/>
<rect x="947.0" y="209.2" width="2.5" height="1.4" fill="#8599a5"/>
<rect x="826.3" y="204.9" width="1.5" height="1.7" fill="#c8dcdc"/>
<rect x="1063.5" y="211.7" width="1.2" height="1.5" fill="#ffffff"/>
<rect x="932.1" y="196.0" width="1.3" height="1.6" fill="#c8dcdc"/>
<rect x="1018.5" y="209.0" width="1.7" height="1.2" fill="#c8dcdc"/>
<rect x="925.4" y="222.5" width="1.7" height="1.7" fill="#ffffff"/>
<rect x="862.5" y="209.0" width="3.1" height="1.5" fill="#ffffff"/>
<rect x="1014.7" y="224.2" width="2.5" height="1.7" fill="#ffffff"/>
<rect x="950.3" y="207.3" width="2.9" height="1.9" fill="#c8dcdc"/>
<rect x="938.9" y="223.1" width="1.5" height="1.6" fill="#1c1d28"/>
<rect x="910.4" y="205.5" width="1.5" height="1.4" fill="#ffffff"/>
<rect x="879.1" y="215.8" width="1.2" height="1.6" fill="#c8dcdc"/>
<rect x="943.6" y="201.7" width="2.5" height="1.6" fill="#ffffff"/>
<rect x="1033.5" y="211.9" width="3.1" height="1.5" fill="#ffffff"/>
<rect x="925.2" y="222.4" width="2.6" height="1.8" fill="#c8dcdc"/>
<rect x="1057.8" y="224.8" width="1.5" height="1.7" fill="#ffffff"/>
<rect x="981.4" y="212.0" width="1.8" height="1.8" fill="#c8dcdc"/>
<rect x="998.3" y="201.6" width="1.8" height="1.3" fill="#c8dcdc"/>
<rect x="990.4" y="198.0" width="1.3" height="1.3" fill="#8599a5"/>
<rect x="1064.9" y="197.6" width="2.7" height="1.6" fill="#ffffff"/>
<rect x="853.4" y="221.7" width="1.3" height="1.4" fill="#ffffff"/>
<rect x="987.9" y="219.5" width="2.6" height="1.4" fill="#c8dcdc"/>
<rect x="1069.1" y="204.5" width="2.7" height="1.9" fill="#c8dcdc"/>
<rect x="1113.1" y="212.2" width="2.6" height="1.7" fill="#c8dcdc"/>
<rect x="1114.1" y="219.6" width="2.0" height="1.7" fill="#8599a5"/>
<rect x="880.1" y="199.9" width="2.4" height="2.0" fill="#1c1d28"/>
<rect x="1168.5" y="198.3" width="2.0" height="1.7" fill="#ffffff"/>
<rect x="944.7" y="223.9" width="1.3" height="1.8" fill="#ffffff"/>
<rect x="836.2" y="195.4" width="2.7" height="2.0" fill="#c8dcdc"/>
<rect x="836.9" y="204.6" width="2.3" height="1.6" fill="#1c1d28"/>
<rect x="935.6" y="203.9" width="2.9" height="1.4" fill="#ffffff"/>
<rect x="942.8" y="213.8" width="3.2" height="1.5" fill="#ffffff"/>
<rect x="1060.7" y="211.5" width="1.5" height="1.3" fill="#ffffff"/>
<rect x="831.8" y="223.9" width="2.2" height="1.3" fill="#c8dcdc"/>
<rect x="916.2" y="194.6" width="1.5" height="1.7" fill="#ffffff"/>
<rect x="896.9" y="201.3" width="1.9" height="1.4" fill="#ffffff"/>
<rect x="810.0" y="196.1" width="1.8" height="1.3" fill="#ffffff"/>
<rect x="861.2" y="209.5" width="1.6" height="1.9" fill="#ffffff"/>
<rect x="978.9" y="207.3" width="2.0" height="1.2" fill="#ffffff"/>
<rect x="1004.7" y="215.0" width="1.8" height="2.0" fill="#ffffff"/>
<rect x="1127.2" y="225.8" width="2.9" height="1.8" fill="#c8dcdc"/>
<rect x="858.6" y="194.9" width="1.4" height="1.3" fill="#8599a5"/>
<rect x="930.0" y="218.1" width="2.2" height="1.2" fill="#c8dcdc"/>
<rect x="872.0" y="224.7" width="2.3" height="1.8" fill="#1c1d28"/>
<rect x="1099.0" y="217.5" width="2.8" height="1.9" fill="#c8dcdc"/>
<rect x="1089.4" y="225.6" width="3.1" height="1.5" fill="#8599a5"/>
<rect x="1065.1" y="202.0" width="1.2" height="1.7" fill="#ffffff"/>
<rect x="878.6" y="206.4" width="2.5" height="1.8" fill="#c8dcdc"/>
<rect x="932.2" y="214.4" width="1.8" height="1.9" fill="#c8dcdc"/>
<rect x="915.4" y="197.0" width="2.7" height="1.4" fill="#c8dcdc"/>
<rect x="1079.8" y="211.5" width="1.6" height="1.3" fill="#ffffff"/>
<rect x="845.7" y="205.2" width="1.2" height="1.6" fill="#c8dcdc"/>
<rect x="947.3" y="204.3" width="3.1" height="1.4" fill="#ffffff"/>
<rect x="1133.4" y="204.3" width="1.4" height="2.0" fill="#ffffff"/>
<rect x="957.7" y="224.8" width="2.0" height="1.8" fill="#c8dcdc"/>
<rect x="859.3" y="202.7" width="3.1" height="1.5" fill="#ffffff"/>
<rect x="861.5" y="205.4" width="1.5" height="1.7" fill="#ffffff"/>
<rect x="937.5" y="214.6" width="2.4" height="1.9" fill="#c8dcdc"/>
<rect x="1124.0" y="214.1" width="2.3" height="1.3" fill="#ffffff"/>
<rect x="1116.6" y="216.1" width="2.5" height="1.5" fill="#ffffff"/>
<rect x="940.0" y="201.4" width="2.3" height="1.6" fill="#ffffff"/>
<rect x="802.6" y="214.1" width="2.4" height="1.7" fill="#c8dcdc"/>
<rect x="1153.3" y="198.9" width="3.2" height="1.8" fill="#ffffff"/>
<rect x="912.1" y="217.6" width="2.0" height="1.9" fill="#ffffff"/>
<rect x="839.4" y="225.7" width="1.7" height="1.9" fill="#ffffff"/>
<rect x="1043.2" y="224.0" width="2.8" height="1.6" fill="#ffffff"/>
<rect x="1177.5" y="196.1" width="2.6" height="1.4" fill="#ffffff"/>
<rect x="1104.8" y="208.5" width="2.9" height="1.4" fill="#ffffff"/>
<rect x="899.1" y="214.6" width="2.3" height="1.8" fill="#8599a5"/>
<rect x="981.4" y="201.7" width="2.9" height="1.8" fill="#ffffff"/>
<rect x="1004.2" y="223.0" width="1.5" height="1.5" fill="#ffffff"/>
<rect x="829.1" y="195.2" width="2.9" height="1.9" fill="#c8dcdc"/>
<rect x="835.8" y="199.8" width="2.9" height="1.7" fill="#c8dcdc"/>
<rect x="1141.7" y="196.3" width="1.6" height="1.7" fill="#ffffff"/>
<rect x="1131.9" y="217.3" width="2.5" height="1.5" fill="#c8dcdc"/>
<rect x="796.0" y="204.9" width="2.5" height="1.4" fill="#c8dcdc"/>
<rect x="1025.2" y="216.2" width="1.5" height="1.8" fill="#c8dcdc"/>
<rect x="971.9" y="198.1" width="3.1" height="1.7" fill="#8599a5"/>
<rect x="929.4" y="200.3" width="2.6" height="1.8" fill="#ffffff"/>
<rect x="930.5" y="203.9" width="1.5" height="1.7" fill="#c8dcdc"/>
<rect x="955.6" y="220.2" width="2.1" height="1.6" fill="#c8dcdc"/>
<rect x="1157.2" y="205.1" width="1.7" height="1.7" fill="#ffffff"/>
<rect x="901.1" y="221.9" width="2.9" height="1.7" fill="#c8dcdc"/>
<rect x="967.4" y="223.9" width="2.7" height="1.7" fill="#c8dcdc"/>
<rect x="964.9" y="196.1" width="1.8" height="1.6" fill="#c8dcdc"/>
<rect x="1162.3" y="203.4" width="2.5" height="1.4" fill="#ffffff"/>
<rect x="950.5" y="198.2" width="1.7" height="1.5" fill="#ffffff"/>
<rect x="923.2" y="220.3" width="2.4" height="1.6" fill="#ffffff"/>
<rect x="828.8" y="222.7" width="1.9" height="1.5" fill="#8599a5"/>
<rect x="1072.0" y="215.4" width="3.0" height="2.0" fill="#c8dcdc"/>
<rect x="799.1" y="214.3" width="1.9" height="1.6" fill="#ffffff"/>
<rect x="913.3" y="215.5" width="3.1" height="2.0" fill="#ffffff"/>
<rect x="1177.1" y="206.6" width="2.5" height="1.8" fill="#ffffff"/>
<rect x="1179.1" y="196.1" width="2.0" height="1.7" fill="#ffffff"/>
<rect x="875.0" y="225.7" width="1.9" height="1.3" fill="#c8dcdc"/>
<rect x="943.9" y="217.7" width="1.5" height="1.7" fill="#8599a5"/>
<rect x="1033.0" y="217.7" width="2.8" height="1.8" fill="#c8dcdc"/>
<rect x="1092.6" y="197.8" width="1.2" height="1.9" fill="#ffffff"/>
<rect x="1158.4" y="222.7" width="1.9" height="1.6" fill="#1c1d28"/>
<rect x="998.1" y="197.6" width="1.8" height="1.6" fill="#ffffff"/>
<rect x="838.6" y="212.2" width="1.4" height="1.6" fill="#8599a5"/>
<rect x="904.6" y="218.9" width="2.0" height="1.2" fill="#c8dcdc"/>
<rect x="874.9" y="208.5" width="2.1" height="1.9" fill="#ffffff"/>
<rect x="830.7" y="221.2" width="3.1" height="1.6" fill="#8599a5"/>
<rect x="948.5" y="213.6" width="3.1" height="1.5" fill="#ffffff"/>
<rect x="794.2" y="198.9" width="2.7" height="1.8" fill="#ffffff"/>
<rect x="851.1" y="211.0" width="1.4" height="1.4" fill="#1c1d28"/>
<rect x="1166.8" y="214.6" width="1.3" height="1.5" fill="#ffffff"/>
<rect x="820.6" y="202.3" width="3.0" height="1.5" fill="#8599a5"/>
<rect x="980.7" y="214.9" width="3.1" height="1.7" fill="#ffffff"/>
<rect x="985.4" y="222.9" width="1.8" height="1.8" fill="#c8dcdc"/>
<rect x="890.7" y="205.8" width="2.2" height="1.5" fill="#c8dcdc"/>
<rect x="957.9" y="208.4" width="2.9" height="1.2" fill="#1c1d28"/>
<rect x="995.9" y="211.5" width="1.6" height="1.3" fill="#c8dcdc"/>
<rect x="935.1" y="204.1" width="1.7" height="1.8" fill="#ffffff"/>
<rect x="980.1" y="194.3" width="3.1" height="1.2" fill="#c8dcdc"/>
<rect x="1021.4" y="224.7" width="2.4" height="1.5" fill="#c8dcdc"/>
<rect x="907.5" y="213.5" width="1.8" height="1.6" fill="#ffffff"/>
<rect x="991.3" y="218.1" width="1.4" height="1.4" fill="#8599a5"/>
<rect x="895.3" y="219.5" width="2.9" height="1.5" fill="#c8dcdc"/>
<rect x="901.5" y="215.8" width="3.2" height="1.9" fill="#8599a5"/>
<rect x="918.0" y="204.2" width="2.8" height="1.7" fill="#ffffff"/>
<rect x="812.1" y="218.4" width="2.4" height="1.6" fill="#1c1d28"/>
<rect x="1151.7" y="214.4" width="3.1" height="1.8" fill="#1c1d28"/>
<rect x="1016.1" y="194.2" width="2.0" height="1.7" fill="#ffffff"/>
<rect x="1173.6" y="223.3" width="2.8" height="1.6" fill="#8599a5"/>
<rect x="1083.1" y="206.1" width="2.1" height="1.3" fill="#c8dcdc"/>
<rect x="914.8" y="217.5" width="1.4" height="1.9" fill="#8599a5"/>
<rect x="1049.8" y="211.5" width="1.4" height="1.4" fill="#8599a5"/>
<rect x="1162.0" y="211.9" width="1.6" height="1.5" fill="#ffffff"/>
<rect x="999.2" y="220.9" width="2.9" height="1.6" fill="#8599a5"/>
<rect x="802.2" y="207.8" width="2.5" height="1.9" fill="#c8dcdc"/>
<rect x="982.5" y="216.1" width="2.8" height="1.3" fill="#c8dcdc"/>
<rect x="1079.5" y="199.3" width="1.6" height="1.5" fill="#ffffff"/>
<rect x="853.9" y="205.2" width="2.2" height="1.5" fill="#ffffff"/>
<rect x="1014.0" y="221.0" width="2.4" height="1.6" fill="#c8dcdc"/>
<rect x="1172.4" y="204.5" width="1.7" height="1.4" fill="#ffffff"/>
<rect x="1074.9" y="212.4" width="1.3" height="1.9" fill="#c8dcdc"/>
<rect x="937.3" y="216.9" width="2.4" height="1.6" fill="#c8dcdc"/>
<rect x="1170.5" y="223.1" width="2.2" height="1.4" fill="#ffffff"/>
<rect x="1083.7" y="197.3" width="2.9" height="1.2" fill="#c8dcdc"/>
<rect x="1062.4" y="212.2" width="1.9" height="1.3" fill="#ffffff"/>
<rect x="1160.8" y="218.5" width="1.4" height="1.8" fill="#ffffff"/>
<rect x="875.2" y="200.4" width="2.4" height="1.3" fill="#ffffff"/>
<rect x="1088.3" y="212.6" width="3.0" height="1.8" fill="#ffffff"/>
<rect x="932.0" y="224.4" width="1.8" height="1.9" fill="#ffffff"/>
<rect x="1073.5" y="202.5" width="1.2" height="1.6" fill="#c8dcdc"/>
<rect x="888.9" y="203.4" width="1.5" height="1.6" fill="#c8dcdc"/>
<rect x="896.3" y="203.1" width="2.2" height="1.9" fill="#c8dcdc"/>
<rect x="852.4" y="221.5" width="2.4" height="1.6" fill="#ffffff"/>
<rect x="1076.2" y="211.1" width="3.0" height="1.8" fill="#ffffff"/>
<rect x="891.3" y="195.7" width="1.9" height="1.8" fill="#ffffff"/>
<rect x="790" y="307.0" width="391" height="36.0" fill="#f1f6f6"/>
<rect x="881.0" y="323.3" width="2.7" height="2.0" fill="#c8dcdc"/>
<rect x="987.2" y="327.4" width="1.7" height="2.0" fill="#c8dcdc"/>
<rect x="833.0" y="340.9" width="1.3" height="1.9" fill="#ffffff"/>
<rect x="829.8" y="327.4" width="3.2" height="1.4" fill="#8599a5"/>
<rect x="1130.1" y="309.2" width="1.3" height="1.2" fill="#ffffff"/>
<rect x="1012.7" y="342.4" width="2.9" height="1.8" fill="#ffffff"/>
<rect x="993.3" y="309.8" width="1.6" height="1.6" fill="#ffffff"/>
<rect x="928.2" y="325.0" width="2.6" height="1.5" fill="#c8dcdc"/>
<rect x="979.5" y="309.8" width="2.3" height="2.0" fill="#ffffff"/>
<rect x="1009.0" y="311.9" width="1.9" height="1.8" fill="#c8dcdc"/>
<rect x="1156.2" y="342.1" width="3.1" height="1.9" fill="#ffffff"/>
<rect x="1154.6" y="307.7" width="2.4" height="1.7" fill="#ffffff"/>
<rect x="1029.0" y="329.1" width="1.4" height="1.6" fill="#ffffff"/>
<rect x="1164.2" y="308.1" width="2.9" height="2.0" fill="#8599a5"/>
<rect x="799.4" y="308.2" width="2.6" height="1.6" fill="#ffffff"/>
<rect x="1016.2" y="334.3" width="1.2" height="1.3" fill="#ffffff"/>
<rect x="1099.7" y="342.1" width="2.0" height="1.5" fill="#ffffff"/>
<rect x="925.2" y="307.5" width="1.7" height="1.7" fill="#ffffff"/>
<rect x="995.2" y="319.1" width="2.1" height="1.4" fill="#ffffff"/>
<rect x="1133.9" y="313.3" width="1.7" height="1.6" fill="#8599a5"/>
<rect x="1095.6" y="319.0" width="2.5" height="1.4" fill="#c8dcdc"/>
<rect x="993.9" y="316.2" width="1.6" height="1.4" fill="#ffffff"/>
<rect x="907.6" y="318.9" width="2.5" height="1.8" fill="#ffffff"/>
<rect x="1000.6" y="309.8" width="1.7" height="1.4" fill="#ffffff"/>
<rect x="951.6" y="342.6" width="1.9" height="1.9" fill="#c8dcdc"/>
<rect x="1176.3" y="320.9" width="2.8" height="1.8" fill="#8599a5"/>
<rect x="921.9" y="335.5" width="1.8" height="1.7" fill="#c8dcdc"/>
<rect x="1079.2" y="324.1" width="1.2" height="1.6" fill="#ffffff"/>
<rect x="938.4" y="309.3" width="1.5" height="1.4" fill="#ffffff"/>
<rect x="1132.5" y="341.6" width="1.9" height="1.9" fill="#ffffff"/>
<rect x="845.3" y="332.7" width="1.6" height="1.3" fill="#ffffff"/>
<rect x="1054.5" y="338.8" width="3.1" height="1.6" fill="#ffffff"/>
<rect x="935.2" y="311.3" width="3.1" height="1.3" fill="#c8dcdc"/>
<rect x="862.1" y="319.5" width="1.8" height="1.3" fill="#1c1d28"/>
<rect x="837.9" y="326.0" width="2.3" height="1.8" fill="#ffffff"/>
<rect x="995.4" y="341.1" width="1.6" height="1.3" fill="#8599a5"/>
<rect x="910.7" y="334.4" width="2.2" height="1.3" fill="#ffffff"/>
<rect x="918.9" y="327.5" width="2.8" height="2.0" fill="#c8dcdc"/>
<rect x="969.3" y="328.7" width="2.1" height="1.4" fill="#ffffff"/>
<rect x="1158.2" y="342.2" width="2.7" height="1.5" fill="#1c1d28"/>
<rect x="810.2" y="312.9" width="2.7" height="1.4" fill="#c8dcdc"/>
<rect x="797.6" y="314.9" width="2.2" height="1.7" fill="#ffffff"/>
<rect x="971.4" y="313.6" width="1.8" height="1.2" fill="#1c1d28"/>
<rect x="891.6" y="329.3" width="2.1" height="1.7" fill="#c8dcdc"/>
<rect x="913.7" y="319.8" width="2.4" height="1.5" fill="#ffffff"/>
<rect x="1000.6" y="323.6" width="3.0" height="1.4" fill="#c8dcdc"/>
<rect x="1155.0" y="337.7" width="1.5" height="1.6" fill="#ffffff"/>
<rect x="1174.0" y="317.4" width="2.6" height="1.4" fill="#c8dcdc"/>
<rect x="1017.6" y="312.7" width="1.8" height="1.3" fill="#ffffff"/>
<rect x="1058.0" y="319.5" width="2.2" height="1.9" fill="#ffffff"/>
<rect x="990.5" y="320.6" width="2.2" height="1.4" fill="#1c1d28"/>
<rect x="1013.9" y="329.7" width="1.4" height="1.6" fill="#ffffff"/>
<rect x="977.9" y="330.1" width="1.8" height="1.6" fill="#ffffff"/>
<rect x="823.0" y="335.8" width="2.9" height="1.8" fill="#c8dcdc"/>
<rect x="889.3" y="339.5" width="2.1" height="1.6" fill="#ffffff"/>
<rect x="1158.9" y="324.6" width="1.8" height="1.9" fill="#ffffff"/>
<rect x="986.2" y="319.3" width="1.6" height="1.9" fill="#c8dcdc"/>
<rect x="1103.4" y="342.2" width="2.6" height="1.8" fill="#ffffff"/>
<rect x="1067.5" y="336.1" width="1.6" height="1.9" fill="#ffffff"/>
<rect x="908.3" y="315.8" width="1.2" height="1.6" fill="#ffffff"/>
<rect x="923.8" y="335.5" width="3.0" height="1.9" fill="#ffffff"/>
<rect x="1041.3" y="309.3" width="1.4" height="2.0" fill="#ffffff"/>
<rect x="1129.8" y="318.2" width="2.6" height="1.8" fill="#c8dcdc"/>
<rect x="1174.2" y="329.4" width="2.7" height="1.2" fill="#8599a5"/>
<rect x="1128.4" y="334.7" width="2.9" height="1.7" fill="#ffffff"/>
<rect x="1157.9" y="330.0" width="2.0" height="1.5" fill="#ffffff"/>
<rect x="798.9" y="312.8" width="1.7" height="1.7" fill="#ffffff"/>
<rect x="1092.4" y="332.0" width="1.8" height="1.4" fill="#ffffff"/>
<rect x="863.1" y="330.3" width="3.1" height="1.5" fill="#ffffff"/>
<rect x="1151.6" y="339.8" width="3.1" height="1.7" fill="#c8dcdc"/>
<rect x="1165.4" y="334.9" width="1.8" height="1.6" fill="#c8dcdc"/>
<rect x="980.3" y="308.3" width="2.3" height="1.6" fill="#ffffff"/>
<rect x="1080.4" y="316.0" width="2.4" height="1.4" fill="#c8dcdc"/>
<rect x="917.7" y="309.5" width="1.9" height="1.6" fill="#8599a5"/>
<rect x="1160.1" y="330.0" width="2.0" height="1.4" fill="#c8dcdc"/>
<rect x="974.8" y="341.5" width="2.1" height="1.7" fill="#8599a5"/>
<rect x="1087.3" y="327.0" width="3.1" height="1.9" fill="#ffffff"/>
<rect x="888.0" y="326.5" width="2.3" height="1.4" fill="#ffffff"/>
<rect x="1088.8" y="309.1" width="2.3" height="1.4" fill="#8599a5"/>
<rect x="1070.7" y="333.2" width="2.7" height="1.7" fill="#c8dcdc"/>
<rect x="1065.3" y="323.4" width="1.4" height="1.6" fill="#c8dcdc"/>
<rect x="1162.3" y="339.0" width="1.3" height="1.4" fill="#8599a5"/>
<rect x="1060.8" y="322.8" width="2.1" height="1.7" fill="#8599a5"/>
<rect x="1080.3" y="321.5" width="2.6" height="1.7" fill="#ffffff"/>
<rect x="808.1" y="332.6" width="1.3" height="1.6" fill="#8599a5"/>
<rect x="796.6" y="309.6" width="2.1" height="1.3" fill="#c8dcdc"/>
<rect x="1162.0" y="337.7" width="2.4" height="1.5" fill="#ffffff"/>
<rect x="1173.6" y="311.3" width="1.6" height="1.9" fill="#c8dcdc"/>
<rect x="988.4" y="321.8" width="3.0" height="1.4" fill="#c8dcdc"/>
<rect x="1098.6" y="332.5" width="1.9" height="1.5" fill="#c8dcdc"/>
<rect x="966.7" y="318.4" width="2.0" height="1.4" fill="#ffffff"/>
<rect x="1091.4" y="323.4" width="3.0" height="1.6" fill="#ffffff"/>
<rect x="936.6" y="339.3" width="2.8" height="1.5" fill="#ffffff"/>
<rect x="1051.8" y="333.7" width="2.6" height="2.0" fill="#c8dcdc"/>
<rect x="1045.8" y="331.1" width="2.5" height="1.4" fill="#c8dcdc"/>
<rect x="1090.4" y="326.4" width="1.9" height="1.8" fill="#ffffff"/>
<rect x="796.5" y="322.0" width="1.7" height="1.7" fill="#ffffff"/>
<rect x="876.2" y="321.3" width="1.6" height="1.9" fill="#ffffff"/>
<rect x="813.3" y="328.0" width="2.9" height="1.5" fill="#ffffff"/>
<rect x="1020.2" y="332.6" width="2.7" height="1.7" fill="#ffffff"/>
<rect x="888.1" y="332.4" width="2.3" height="2.0" fill="#ffffff"/>
<rect x="843.2" y="335.1" width="2.7" height="2.0" fill="#c8dcdc"/>
<rect x="897.0" y="327.4" width="2.2" height="1.3" fill="#ffffff"/>
<rect x="1033.9" y="339.2" width="1.8" height="1.8" fill="#ffffff"/>
<rect x="953.8" y="312.2" width="2.1" height="1.6" fill="#ffffff"/>
<rect x="1176.6" y="327.5" width="1.9" height="1.8" fill="#ffffff"/>
<rect x="819.4" y="317.8" width="2.6" height="1.9" fill="#ffffff"/>
<rect x="938.3" y="316.9" width="2.3" height="1.2" fill="#c8dcdc"/>
<rect x="936.1" y="330.7" width="1.8" height="1.9" fill="#8599a5"/>
<rect x="1154.1" y="316.0" width="1.4" height="1.3" fill="#c8dcdc"/>
<rect x="1099.7" y="333.6" width="2.2" height="1.8" fill="#c8dcdc"/>
<rect x="801.0" y="336.5" width="1.6" height="1.8" fill="#ffffff"/>
<rect x="1062.7" y="319.1" width="1.6" height="1.6" fill="#ffffff"/>
<rect x="912.3" y="322.9" width="2.3" height="1.7" fill="#ffffff"/>
<rect x="1174.9" y="315.0" width="2.4" height="1.3" fill="#c8dcdc"/>
<rect x="1166.1" y="319.3" width="2.1" height="1.9" fill="#c8dcdc"/>
<rect x="1147.0" y="331.4" width="1.9" height="1.8" fill="#c8dcdc"/>
<rect x="874.3" y="338.8" width="1.7" height="1.5" fill="#ffffff"/>
<rect x="879.2" y="332.9" width="2.6" height="1.3" fill="#1c1d28"/>
<rect x="1118.0" y="326.6" width="1.4" height="1.2" fill="#ffffff"/>
<rect x="927.7" y="342.4" width="2.9" height="1.3" fill="#ffffff"/>
<rect x="829.7" y="307.8" width="1.6" height="1.4" fill="#ffffff"/>
<rect x="1050.1" y="332.0" width="2.1" height="1.4" fill="#c8dcdc"/>
<rect x="1008.9" y="319.8" width="1.7" height="1.4" fill="#c8dcdc"/>
<rect x="891.8" y="307.6" width="2.4" height="1.4" fill="#c8dcdc"/>
<rect x="834.1" y="337.5" width="2.2" height="1.4" fill="#ffffff"/>
<rect x="1136.0" y="334.1" width="2.5" height="1.8" fill="#ffffff"/>
<rect x="985.2" y="321.9" width="2.2" height="1.6" fill="#c8dcdc"/>
<rect x="996.3" y="326.2" width="3.0" height="1.4" fill="#ffffff"/>
<rect x="798.7" y="317.8" width="2.8" height="1.7" fill="#1c1d28"/>
<rect x="901.4" y="313.9" width="2.9" height="1.7" fill="#ffffff"/>
<rect x="1059.8" y="333.8" width="2.0" height="1.6" fill="#ffffff"/>
<rect x="1133.4" y="342.7" width="2.9" height="1.3" fill="#ffffff"/>
<rect x="886.3" y="342.0" width="2.2" height="1.4" fill="#ffffff"/>
<rect x="1126.2" y="325.6" width="1.4" height="2.0" fill="#ffffff"/>
<rect x="795.2" y="312.3" width="2.5" height="1.3" fill="#c8dcdc"/>
<rect x="1009.3" y="340.8" width="2.7" height="1.7" fill="#c8dcdc"/>
<rect x="1017.1" y="313.2" width="3.0" height="1.7" fill="#ffffff"/>
<rect x="874.5" y="323.1" width="1.9" height="1.7" fill="#ffffff"/>
<rect x="1036.3" y="307.6" width="2.5" height="1.4" fill="#c8dcdc"/>
<rect x="818.4" y="334.4" width="3.1" height="1.6" fill="#c8dcdc"/>
<rect x="829.5" y="329.9" width="2.8" height="1.8" fill="#c8dcdc"/>
<rect x="1085.8" y="309.1" width="2.8" height="1.3" fill="#1c1d28"/>
<rect x="868.7" y="308.1" width="2.1" height="2.0" fill="#8599a5"/>
<rect x="915.3" y="316.3" width="1.6" height="1.7" fill="#ffffff"/>
<rect x="1029.9" y="340.7" width="2.3" height="1.5" fill="#1c1d28"/>
<rect x="1111.2" y="316.1" width="1.6" height="1.6" fill="#ffffff"/>
<rect x="1167.7" y="315.6" width="3.0" height="1.7" fill="#c8dcdc"/>
<rect x="815.7" y="313.7" width="1.8" height="1.9" fill="#c8dcdc"/>
<rect x="1063.2" y="342.3" width="2.5" height="1.5" fill="#ffffff"/>
<rect x="1069.8" y="324.8" width="2.2" height="1.5" fill="#8599a5"/>
<rect x="997.1" y="308.8" width="3.2" height="1.5" fill="#1c1d28"/>
<rect x="918.7" y="312.3" width="3.0" height="1.3" fill="#ffffff"/>
<rect x="985.1" y="325.0" width="2.3" height="1.4" fill="#ffffff"/>
<rect x="864.0" y="333.1" width="2.9" height="1.2" fill="#8599a5"/>
<rect x="863.9" y="323.8" width="2.4" height="1.8" fill="#ffffff"/>
<rect x="1086.8" y="333.0" width="2.9" height="1.3" fill="#8599a5"/>
<rect x="853.3" y="308.4" width="3.0" height="1.5" fill="#1c1d28"/>
<rect x="823.7" y="308.7" width="2.4" height="1.9" fill="#ffffff"/>
<rect x="804.6" y="311.1" width="1.6" height="1.3" fill="#c8dcdc"/>
<rect x="868.2" y="330.1" width="1.5" height="1.6" fill="#8599a5"/>
<rect x="936.4" y="312.4" width="2.2" height="1.5" fill="#ffffff"/>
<rect x="975.0" y="308.4" width="1.6" height="1.5" fill="#ffffff"/>
<rect x="793.6" y="339.0" width="2.0" height="1.6" fill="#ffffff"/>
<rect x="1156.6" y="311.8" width="2.6" height="1.5" fill="#c8dcdc"/>
<rect x="1065.6" y="339.7" width="1.8" height="1.4" fill="#1c1d28"/>
<rect x="1082.6" y="335.2" width="3.0" height="1.3" fill="#ffffff"/>
<rect x="943.4" y="337.7" width="1.4" height="2.0" fill="#ffffff"/>
<rect x="1078.8" y="338.2" width="2.4" height="2.0" fill="#c8dcdc"/>
<rect x="1140.2" y="327.8" width="3.2" height="1.9" fill="#ffffff"/>
<rect x="1045.8" y="341.6" width="2.0" height="1.7" fill="#8599a5"/>
<rect x="841.3" y="335.1" width="2.5" height="1.4" fill="#8599a5"/>
<rect x="915.9" y="328.8" width="2.1" height="1.9" fill="#c8dcdc"/>
<rect x="1174.9" y="316.5" width="2.6" height="1.4" fill="#c8dcdc"/>
<rect x="1121.2" y="314.2" width="1.9" height="1.2" fill="#ffffff"/>
<rect x="790.4" y="307.1" width="1.8" height="2.0" fill="#c8dcdc"/>
<rect x="1038.7" y="309.3" width="1.7" height="1.6" fill="#ffffff"/>
<rect x="1071.8" y="337.8" width="2.0" height="1.5" fill="#ffffff"/>
<rect x="945.0" y="318.3" width="2.1" height="1.7" fill="#ffffff"/>
<rect x="849.3" y="335.2" width="1.6" height="1.7" fill="#ffffff"/>
<rect x="853.2" y="308.3" width="1.6" height="1.8" fill="#c8dcdc"/>
<rect x="1013.2" y="331.3" width="1.3" height="1.3" fill="#ffffff"/>
<rect x="803.9" y="323.5" width="2.6" height="1.6" fill="#ffffff"/>
<rect x="1123.9" y="320.4" width="2.5" height="1.2" fill="#8599a5"/>
<rect x="879.5" y="308.1" width="1.3" height="1.6" fill="#8599a5"/>
<rect x="840.0" y="328.7" width="1.9" height="1.3" fill="#ffffff"/>
<rect x="1051.8" y="333.2" width="2.3" height="1.7" fill="#ffffff"/>
<rect x="1126.6" y="331.4" width="1.8" height="1.8" fill="#ffffff"/>
<rect x="1036.8" y="323.9" width="2.2" height="1.4" fill="#1c1d28"/>
<rect x="1024.6" y="325.3" width="1.3" height="1.3" fill="#ffffff"/>
<rect x="1026.7" y="331.6" width="2.8" height="1.4" fill="#ffffff"/>
<rect x="967.7" y="325.2" width="2.0" height="1.9" fill="#ffffff"/>
<rect x="978.7" y="321.3" width="1.9" height="2.0" fill="#ffffff"/>
<rect x="808.1" y="321.4" width="2.6" height="1.3" fill="#8599a5"/>
<rect x="848.2" y="322.2" width="2.7" height="1.6" fill="#ffffff"/>
<rect x="905.1" y="320.2" width="1.6" height="1.2" fill="#ffffff"/>
<rect x="1135.5" y="324.4" width="1.5" height="1.9" fill="#8599a5"/>
<rect x="1082.2" y="309.3" width="1.6" height="1.6" fill="#ffffff"/>
<rect x="1026.0" y="308.8" width="1.9" height="1.3" fill="#ffffff"/>
<rect x="1094.3" y="310.9" width="2.5" height="1.6" fill="#1c1d28"/>
<rect x="1141.2" y="335.5" width="1.3" height="1.7" fill="#c8dcdc"/>
<rect x="973.5" y="317.8" width="1.6" height="1.7" fill="#ffffff"/>
<rect x="818.7" y="340.2" width="2.4" height="1.5" fill="#ffffff"/>
<rect x="1072.3" y="339.5" width="1.3" height="1.6" fill="#ffffff"/>
<rect x="844.6" y="326.7" width="2.9" height="1.4" fill="#ffffff"/>
<rect x="1005.2" y="318.4" width="2.7" height="1.8" fill="#8599a5"/>
<rect x="921.3" y="322.1" width="2.7" height="1.6" fill="#ffffff"/>
<rect x="836.1" y="310.4" width="2.9" height="1.6" fill="#8599a5"/>
<rect x="1041.3" y="320.1" width="1.6" height="2.0" fill="#c8dcdc"/>
<rect x="1026.2" y="311.6" width="2.4" height="1.7" fill="#ffffff"/>
<rect x="1090.3" y="328.9" width="3.1" height="1.5" fill="#ffffff"/>
<rect x="1042.9" y="320.5" width="1.9" height="1.7" fill="#c8dcdc"/>
<rect x="927.5" y="319.7" width="2.8" height="1.7" fill="#ffffff"/>
<rect x="1119.0" y="320.9" width="1.7" height="1.5" fill="#ffffff"/>
<rect x="829.3" y="335.7" width="1.8" height="1.5" fill="#ffffff"/>
<rect x="835.6" y="312.1" width="3.0" height="1.3" fill="#ffffff"/>
<rect x="889.3" y="334.3" width="3.0" height="1.5" fill="#c8dcdc"/>
<rect x="974.6" y="314.3" width="2.0" height="1.4" fill="#c8dcdc"/>
<rect x="1074.4" y="308.1" width="2.8" height="1.5" fill="#ffffff"/>
<rect x="864.7" y="311.3" width="2.8" height="1.7" fill="#8599a5"/>
<rect x="795.9" y="323.3" width="1.8" height="1.2" fill="#ffffff"/>
<rect x="954.2" y="319.7" width="1.9" height="1.9" fill="#ffffff"/>
<rect x="1128.5" y="327.7" width="2.8" height="1.3" fill="#8599a5"/>
<rect x="1007.3" y="310.5" width="2.0" height="1.3" fill="#8599a5"/>
<rect x="1176.9" y="327.8" width="3.1" height="1.8" fill="#ffffff"/>
<rect x="1041.8" y="324.0" width="2.5" height="1.3" fill="#ffffff"/>
<rect x="996.7" y="321.9" width="2.6" height="1.8" fill="#ffffff"/>
<rect x="1012.2" y="335.4" width="1.4" height="1.3" fill="#ffffff"/>
<rect x="808.4" y="312.8" width="1.8" height="1.6" fill="#ffffff"/>
<rect x="971.5" y="327.3" width="2.8" height="1.5" fill="#c8dcdc"/>
<rect x="1119.8" y="335.9" width="2.3" height="1.3" fill="#1c1d28"/>
<rect x="1134.7" y="309.5" width="2.7" height="1.7" fill="#c8dcdc"/>
<rect x="1050.1" y="321.9" width="1.6" height="1.6" fill="#ffffff"/>
<rect x="890.3" y="331.3" width="1.5" height="1.4" fill="#8599a5"/>
<rect x="997.8" y="327.9" width="3.2" height="1.9" fill="#1c1d28"/>
<rect x="938.1" y="312.7" width="3.2" height="1.3" fill="#ffffff"/>
<rect x="1084.9" y="336.4" width="1.6" height="1.3" fill="#ffffff"/>
<rect x="854.2" y="315.3" width="3.0" height="1.6" fill="#ffffff"/>
<rect x="839.7" y="319.7" width="2.5" height="1.8" fill="#c8dcdc"/>
<rect x="1092.7" y="322.7" width="2.1" height="1.5" fill="#ffffff"/>
<rect x="967.5" y="331.7" width="1.9" height="1.7" fill="#ffffff"/>
<rect x="846.6" y="308.6" width="1.9" height="1.2" fill="#c8dcdc"/>
<rect x="821.0" y="322.3" width="2.9" height="1.2" fill="#ffffff"/>
<rect x="913.5" y="320.3" width="1.5" height="1.7" fill="#c8dcdc"/>
<rect x="1117.2" y="320.7" width="1.4" height="1.2" fill="#c8dcdc"/>
<rect x="1088.5" y="315.3" width="2.8" height="1.3" fill="#ffffff"/>
<rect x="863.7" y="318.4" width="2.7" height="1.4" fill="#ffffff"/>
<rect x="966.2" y="319.8" width="2.8" height="1.4" fill="#ffffff"/>
<rect x="1106.1" y="340.1" width="3.1" height="2.0" fill="#ffffff"/>
<rect x="856.7" y="342.7" width="2.8" height="1.3" fill="#c8dcdc"/>
<rect x="908.0" y="322.9" width="2.6" height="1.4" fill="#ffffff"/>
<rect x="1140.2" y="338.2" width="1.3" height="1.4" fill="#ffffff"/>
<rect x="904.1" y="322.1" width="2.4" height="1.9" fill="#ffffff"/>
<rect x="817.8" y="315.8" width="1.9" height="1.4" fill="#ffffff"/>
<rect x="814.6" y="308.8" width="2.3" height="1.5" fill="#c8dcdc"/>
<rect x="1010.4" y="317.5" width="2.5" height="1.5" fill="#1c1d28"/>
<rect x="981.7" y="320.6" width="1.3" height="1.4" fill="#c8dcdc"/>
<rect x="906.2" y="311.1" width="2.2" height="1.2" fill="#1c1d28"/>
<rect x="1132.8" y="320.0" width="2.3" height="1.2" fill="#c8dcdc"/>
<rect x="829.6" y="335.3" width="2.2" height="1.5" fill="#ffffff"/>
<rect x="1083.0" y="325.1" width="2.9" height="1.9" fill="#ffffff"/>
<rect x="1073.1" y="331.3" width="2.3" height="1.7" fill="#ffffff"/>
<rect x="994.8" y="336.5" width="1.3" height="1.8" fill="#ffffff"/>
<rect x="1030.3" y="328.5" width="1.3" height="1.6" fill="#ffffff"/>
<rect x="936.4" y="341.1" width="2.3" height="1.3" fill="#8599a5"/>
<rect x="1084.0" y="324.6" width="1.8" height="1.9" fill="#ffffff"/>
<rect x="792.7" y="315.1" width="3.0" height="1.8" fill="#ffffff"/>
<rect x="897.3" y="309.9" width="2.7" height="1.2" fill="#ffffff"/>
<rect x="1154.6" y="326.0" width="2.2" height="1.5" fill="#1c1d28"/>
<rect x="830.7" y="338.9" width="1.4" height="1.6" fill="#ffffff"/>
<rect x="896.6" y="331.2" width="1.9" height="1.5" fill="#8599a5"/>
<rect x="974.4" y="322.7" width="3.1" height="1.9" fill="#ffffff"/>
<rect x="1143.9" y="336.8" width="1.7" height="1.6" fill="#c8dcdc"/>
<rect x="1040.9" y="328.8" width="3.2" height="1.4" fill="#c8dcdc"/>
<rect x="797.6" y="310.3" width="2.7" height="1.9" fill="#c8dcdc"/>
<rect x="806.3" y="315.5" width="2.8" height="1.9" fill="#c8dcdc"/>
<rect x="892.7" y="310.7" width="3.1" height="1.8" fill="#ffffff"/>
<rect x="974.3" y="333.9" width="2.2" height="1.4" fill="#ffffff"/>
<rect x="994.8" y="330.8" width="2.5" height="1.3" fill="#c8dcdc"/>
<rect x="1168.6" y="314.6" width="3.1" height="2.0" fill="#c8dcdc"/>
<rect x="1150.8" y="337.3" width="2.8" height="1.7" fill="#ffffff"/>
<rect x="819.0" y="333.3" width="2.9" height="1.2" fill="#ffffff"/>
<rect x="813.9" y="333.3" width="3.0" height="2.0" fill="#ffffff"/>
<rect x="964.3" y="331.3" width="2.6" height="1.5" fill="#ffffff"/>
<rect x="1039.4" y="309.4" width="2.6" height="1.8" fill="#ffffff"/>
<rect x="970.3" y="314.4" width="2.6" height="1.6" fill="#ffffff"/>
<rect x="832.4" y="307.1" width="1.7" height="1.4" fill="#c8dcdc"/>
<rect x="876.4" y="322.0" width="3.0" height="1.7" fill="#ffffff"/>
<rect x="798.1" y="338.2" width="2.7" height="1.7" fill="#ffffff"/>
<rect x="928.2" y="319.2" width="2.5" height="1.2" fill="#8599a5"/>
<rect x="1055.6" y="339.8" width="2.4" height="1.8" fill="#ffffff"/>
<rect x="1164.3" y="336.3" width="2.1" height="1.2" fill="#ffffff"/>
<rect x="1029.6" y="330.0" width="2.4" height="1.5" fill="#ffffff"/>
<rect x="791.8" y="336.9" width="3.2" height="1.7" fill="#ffffff"/>
<rect x="1122.6" y="334.8" width="2.1" height="1.9" fill="#ffffff"/>
<rect x="944.7" y="307.4" width="1.9" height="2.0" fill="#c8dcdc"/>
<rect x="944.0" y="316.9" width="1.4" height="1.4" fill="#ffffff"/>
<rect x="944.1" y="311.5" width="2.0" height="1.8" fill="#ffffff"/>
<rect x="922.4" y="342.2" width="2.3" height="1.4" fill="#c8dcdc"/>
<rect x="795.6" y="317.9" width="1.8" height="1.6" fill="#ffffff"/>
<rect x="994.4" y="316.6" width="1.3" height="1.5" fill="#ffffff"/>
<rect x="901.0" y="336.4" width="2.6" height="1.7" fill="#ffffff"/>
<rect x="1127.9" y="333.7" width="1.5" height="1.8" fill="#8599a5"/>
<rect x="1117.6" y="342.6" width="1.5" height="1.7" fill="#ffffff"/>
<rect x="1033.5" y="328.8" width="3.1" height="1.6" fill="#8599a5"/>
<rect x="894.8" y="342.3" width="1.3" height="1.7" fill="#c8dcdc"/>
<rect x="891.3" y="314.9" width="2.4" height="1.5" fill="#c8dcdc"/>
<rect x="1049.2" y="339.6" width="3.0" height="1.9" fill="#ffffff"/>
<rect x="888.7" y="336.7" width="2.4" height="1.3" fill="#8599a5"/>
<rect x="828.7" y="341.2" width="2.6" height="1.6" fill="#8599a5"/>
<rect x="790.5" y="335.6" width="3.0" height="1.9" fill="#8599a5"/>
<rect x="983.5" y="323.1" width="2.6" height="1.2" fill="#1c1d28"/>
<rect x="995.2" y="340.3" width="1.4" height="1.8" fill="#ffffff"/>
<rect x="1063.6" y="318.9" width="2.4" height="1.5" fill="#ffffff"/>
<rect x="995.1" y="316.9" width="3.0" height="1.5" fill="#c8dcdc"/>
<rect x="1090.8" y="320.2" width="1.2" height="2.0" fill="#c8dcdc"/>
<rect x="1083.1" y="342.3" width="1.3" height="1.3" fill="#ffffff"/>
<rect x="809.2" y="329.0" width="3.1" height="1.4" fill="#ffffff"/>
<rect x="881.0" y="315.0" width="1.3" height="1.6" fill="#8599a5"/>
<rect x="953.8" y="320.2" width="1.8" height="1.9" fill="#ffffff"/>
<rect x="997.7" y="310.7" width="2.4" height="1.9" fill="#1c1d28"/>
<rect x="809.6" y="332.3" width="2.6" height="1.9" fill="#c8dcdc"/>
<rect x="1073.6" y="315.8" width="3.1" height="1.9" fill="#8599a5"/>
<rect x="1150.1" y="326.5" width="1.9" height="1.9" fill="#8599a5"/>
<rect x="816.1" y="317.6" width="3.0" height="1.5" fill="#1c1d28"/>
<rect x="822.1" y="319.8" width="2.1" height="1.7" fill="#c8dcdc"/>
<rect x="1046.6" y="310.5" width="1.3" height="1.6" fill="#ffffff"/>
<rect x="1105.1" y="316.4" width="1.7" height="1.5" fill="#ffffff"/>
<rect x="1099.1" y="307.1" width="2.3" height="1.8" fill="#ffffff"/>
<rect x="1159.7" y="332.0" width="1.6" height="1.6" fill="#c8dcdc"/>
<rect x="899.7" y="326.9" width="2.6" height="1.5" fill="#8599a5"/>
<rect x="809.5" y="311.3" width="2.9" height="1.9" fill="#ffffff"/>
<rect x="942.0" y="342.4" width="2.7" height="2.0" fill="#c8dcdc"/>
<rect x="871.4" y="307.2" width="1.4" height="1.8" fill="#8599a5"/>
<rect x="1026.4" y="324.2" width="2.5" height="1.3" fill="#8599a5"/>
<rect x="842.1" y="328.4" width="2.8" height="1.9" fill="#ffffff"/>
<rect x="843.5" y="317.9" width="2.2" height="1.2" fill="#8599a5"/>
<rect x="1128.4" y="331.5" width="2.2" height="1.9" fill="#ffffff"/>
<rect x="1115.6" y="336.8" width="1.6" height="1.5" fill="#ffffff"/>
<rect x="812.0" y="334.5" width="3.2" height="1.4" fill="#ffffff"/>
<rect x="958.1" y="338.2" width="2.7" height="1.9" fill="#ffffff"/>
<rect x="1150.2" y="316.8" width="1.3" height="1.7" fill="#ffffff"/>
<rect x="1161.5" y="325.2" width="2.3" height="1.3" fill="#8599a5"/>
<rect x="970.0" y="309.9" width="2.8" height="1.8" fill="#c8dcdc"/>
<rect x="1122.9" y="323.5" width="1.3" height="1.8" fill="#c8dcdc"/>
<rect x="1012.2" y="321.7" width="2.1" height="1.3" fill="#8599a5"/>
<rect x="836.8" y="309.9" width="1.5" height="1.9" fill="#c8dcdc"/>
<rect x="1027.9" y="338.2" width="1.5" height="1.4" fill="#ffffff"/>
<rect x="1117.4" y="328.1" width="2.5" height="1.2" fill="#ffffff"/>
<rect x="867.9" y="322.5" width="3.1" height="1.7" fill="#ffffff"/>
<rect x="891.2" y="308.7" width="2.0" height="1.9" fill="#ffffff"/>
<rect x="870.6" y="314.4" width="1.3" height="1.8" fill="#1c1d28"/>
<rect x="1129.8" y="312.5" width="2.4" height="1.4" fill="#1c1d28"/>
<rect x="1029.7" y="339.8" width="1.8" height="1.7" fill="#ffffff"/>
<rect x="902.9" y="334.3" width="2.9" height="1.7" fill="#c8dcdc"/>
<rect x="1137.8" y="319.4" width="2.4" height="1.4" fill="#ffffff"/>
<rect x="1042.3" y="318.2" width="1.3" height="1.7" fill="#8599a5"/>
<rect x="884.3" y="310.6" width="1.5" height="1.8" fill="#ffffff"/>
<rect x="896.5" y="320.1" width="2.9" height="1.9" fill="#ffffff"/>
<rect x="1172.3" y="328.7" width="2.4" height="1.7" fill="#ffffff"/>
<rect x="916.3" y="320.7" width="1.7" height="1.7" fill="#ffffff"/>
<rect x="1127.0" y="332.9" width="1.3" height="1.5" fill="#c8dcdc"/>
<rect x="959.3" y="337.5" width="2.2" height="1.7" fill="#ffffff"/>
<rect x="1005.7" y="331.4" width="2.3" height="1.4" fill="#ffffff"/>
<rect x="838.2" y="322.8" width="3.1" height="1.4" fill="#ffffff"/>
<rect x="1014.1" y="325.7" width="1.6" height="1.8" fill="#ffffff"/>
<rect x="823.3" y="315.2" width="1.6" height="1.4" fill="#c8dcdc"/>
<rect x="821.1" y="325.8" width="2.5" height="1.7" fill="#c8dcdc"/>
<rect x="1033.6" y="324.3" width="1.8" height="1.6" fill="#ffffff"/>
<rect x="1058.5" y="314.8" width="2.4" height="2.0" fill="#ffffff"/>
<rect x="1030.4" y="326.8" width="1.8" height="1.5" fill="#ffffff"/>
<rect x="958.6" y="333.4" width="1.6" height="2.0" fill="#ffffff"/>
<rect x="1173.0" y="324.8" width="2.4" height="1.5" fill="#ffffff"/>
<rect x="823.9" y="307.6" width="2.6" height="1.7" fill="#ffffff"/>
<rect x="1095.3" y="322.7" width="2.4" height="1.7" fill="#ffffff"/>
<rect x="1003.9" y="331.0" width="1.4" height="1.7" fill="#ffffff"/>
<rect x="1064.4" y="322.4" width="2.2" height="1.3" fill="#ffffff"/>
<rect x="989.4" y="319.9" width="3.0" height="1.3" fill="#8599a5"/>
<rect x="1067.8" y="313.1" width="3.2" height="1.3" fill="#ffffff"/>
<rect x="1125.0" y="307.2" width="3.0" height="1.6" fill="#ffffff"/>
<rect x="1038.7" y="323.6" width="1.9" height="1.6" fill="#8599a5"/>
<rect x="1129.2" y="311.1" width="2.1" height="1.6" fill="#ffffff"/>
<rect x="1099.0" y="328.6" width="3.1" height="1.7" fill="#c8dcdc"/>
<rect x="895.8" y="326.7" width="1.3" height="1.7" fill="#ffffff"/>
<rect x="980.2" y="317.4" width="1.7" height="1.6" fill="#8599a5"/>
<rect x="954.6" y="328.7" width="2.4" height="1.6" fill="#c8dcdc"/>
<rect x="1100.3" y="336.0" width="3.2" height="1.6" fill="#c8dcdc"/>
<rect x="920.6" y="316.2" width="2.1" height="1.7" fill="#ffffff"/>
<rect x="889.8" y="338.0" width="2.9" height="1.6" fill="#c8dcdc"/>
<rect x="946.4" y="327.8" width="2.3" height="1.6" fill="#ffffff"/>
<rect x="1160.5" y="333.7" width="3.2" height="1.2" fill="#8599a5"/>
<rect x="810.6" y="336.5" width="1.3" height="1.3" fill="#c8dcdc"/>
<rect x="983.1" y="337.4" width="1.5" height="1.2" fill="#1c1d28"/>
<rect x="810.9" y="318.3" width="3.1" height="1.7" fill="#ffffff"/>
<rect x="1123.3" y="328.3" width="2.5" height="1.4" fill="#ffffff"/>
<rect x="935.2" y="324.3" width="3.0" height="1.6" fill="#8599a5"/>
<rect x="868.1" y="324.7" width="1.7" height="1.7" fill="#ffffff"/>
<rect x="825.7" y="315.7" width="2.2" height="1.8" fill="#c8dcdc"/>
<rect x="878.7" y="331.8" width="2.7" height="2.0" fill="#ffffff"/>
<rect x="920.0" y="342.9" width="2.2" height="1.3" fill="#ffffff"/>
<rect x="823.1" y="330.2" width="1.3" height="1.3" fill="#8599a5"/>
<rect x="1001.6" y="314.1" width="2.7" height="1.6" fill="#c8dcdc"/>
<rect x="847.4" y="331.5" width="2.4" height="1.6" fill="#ffffff"/>
<rect x="999.9" y="332.3" width="2.8" height="1.4" fill="#ffffff"/>
<rect x="1094.2" y="310.7" width="2.2" height="1.3" fill="#8599a5"/>
<rect x="1008.9" y="317.2" width="2.1" height="1.9" fill="#ffffff"/>
<rect x="1158.5" y="323.3" width="2.2" height="1.5" fill="#ffffff"/>
<rect x="838.5" y="330.7" width="2.6" height="1.5" fill="#ffffff"/>
<rect x="994.8" y="319.8" width="2.7" height="1.2" fill="#c8dcdc"/>
<rect x="977.8" y="325.4" width="2.7" height="1.4" fill="#8599a5"/>
<rect x="947.3" y="315.9" width="2.1" height="1.7" fill="#ffffff"/>
<rect x="955.8" y="335.2" width="1.4" height="1.6" fill="#ffffff"/>
<rect x="888.7" y="317.7" width="2.2" height="1.8" fill="#ffffff"/>
<rect x="850.8" y="329.7" width="1.6" height="1.3" fill="#8599a5"/>
<rect x="799.7" y="339.7" width="1.9" height="1.2" fill="#ffffff"/>
<rect x="1076.2" y="330.9" width="2.7" height="1.3" fill="#1c1d28"/>
<rect x="880.9" y="335.0" width="1.7" height="1.6" fill="#ffffff"/>
<rect x="1102.2" y="328.7" width="1.6" height="1.3" fill="#ffffff"/>
<rect x="863.3" y="325.9" width="2.1" height="1.7" fill="#ffffff"/>
<rect x="1009.9" y="330.2" width="2.9" height="1.6" fill="#c8dcdc"/>
<rect x="1133.3" y="342.5" width="2.7" height="1.8" fill="#ffffff"/>
<rect x="1005.4" y="315.9" width="2.5" height="1.4" fill="#8599a5"/>
<rect x="1028.8" y="326.8" width="2.1" height="1.4" fill="#ffffff"/>
<rect x="908.4" y="332.1" width="1.8" height="1.5" fill="#ffffff"/>
<rect x="964.6" y="322.5" width="2.7" height="1.8" fill="#ffffff"/>
<rect x="1105.5" y="333.1" width="2.1" height="1.6" fill="#ffffff"/>
<rect x="1044.1" y="318.3" width="2.0" height="1.6" fill="#ffffff"/>
<rect x="992.7" y="320.1" width="1.8" height="1.6" fill="#1c1d28"/>
<rect x="1161.0" y="311.9" width="3.1" height="1.8" fill="#ffffff"/>
<rect x="899.0" y="307.7" width="1.3" height="1.4" fill="#ffffff"/>
<rect x="1156.1" y="331.3" width="2.9" height="1.3" fill="#ffffff"/>
<rect x="986.7" y="310.4" width="2.2" height="1.9" fill="#c8dcdc"/>
<rect x="902.8" y="331.0" width="1.7" height="1.2" fill="#8599a5"/>
<rect x="1016.5" y="328.1" width="2.0" height="1.9" fill="#ffffff"/>
<rect x="1071.8" y="327.5" width="1.6" height="1.4" fill="#ffffff"/>
<rect x="1005.1" y="328.6" width="2.6" height="1.2" fill="#ffffff"/>
<rect x="1158.3" y="323.8" width="2.7" height="1.7" fill="#c8dcdc"/>
<rect x="1123.3" y="326.8" width="2.1" height="1.6" fill="#c8dcdc"/>
<rect x="927.3" y="327.9" width="1.7" height="1.3" fill="#8599a5"/>
<rect x="800.6" y="325.9" width="2.0" height="1.9" fill="#ffffff"/>
<rect x="1027.3" y="330.7" width="3.0" height="1.5" fill="#c8dcdc"/>
<rect x="1119.6" y="315.8" width="2.6" height="1.3" fill="#ffffff"/>
<rect x="1075.3" y="312.6" width="2.0" height="1.5" fill="#c8dcdc"/>
<rect x="931.1" y="312.8" width="1.4" height="1.8" fill="#c8dcdc"/>
<rect x="928.0" y="332.6" width="3.1" height="1.9" fill="#c8dcdc"/>
<rect x="1065.2" y="337.3" width="3.1" height="1.5" fill="#ffffff"/>
<rect x="1021.2" y="309.5" width="1.9" height="1.7" fill="#c8dcdc"/>
<rect x="792.9" y="334.2" width="2.0" height="1.6" fill="#8599a5"/>
<rect x="1118.4" y="329.8" width="2.5" height="1.4" fill="#8599a5"/>
<rect x="1030.7" y="321.9" width="2.1" height="1.4" fill="#ffffff"/>
<rect x="910.9" y="341.5" width="1.7" height="1.6" fill="#c8dcdc"/>
<rect x="1051.3" y="340.9" width="1.9" height="1.8" fill="#8599a5"/>
<rect x="983.2" y="331.9" width="1.4" height="1.2" fill="#ffffff"/>
<rect x="859.1" y="317.9" width="1.8" height="1.3" fill="#c8dcdc"/>
<rect x="800.2" y="325.9" width="1.5" height="1.3" fill="#ffffff"/>
<rect x="1074.0" y="309.9" width="2.2" height="1.4" fill="#8599a5"/>
<rect x="1096.1" y="325.2" width="1.9" height="1.2" fill="#ffffff"/>
<rect x="1110.1" y="321.0" width="1.4" height="1.5" fill="#ffffff"/>
<rect x="1000.5" y="312.6" width="3.1" height="2.0" fill="#8599a5"/>
<rect x="1180.0" y="326.6" width="2.4" height="1.6" fill="#ffffff"/>
<rect x="790" y="369.0" width="391" height="20.0" fill="#f1f6f6"/>
<rect x="857.0" y="381.8" width="2.6" height="1.2" fill="#c8dcdc"/>
<rect x="904.7" y="371.3" width="2.2" height="1.4" fill="#ffffff"/>
<rect x="1094.8" y="379.4" width="2.0" height="1.2" fill="#c8dcdc"/>
<rect x="813.6" y="369.7" width="3.0" height="1.6" fill="#ffffff"/>
<rect x="1157.0" y="379.8" width="1.4" height="1.5" fill="#ffffff"/>
<rect x="1028.3" y="377.2" width="1.9" height="1.7" fill="#ffffff"/>
<rect x="871.1" y="378.8" width="2.3" height="1.2" fill="#c8dcdc"/>
<rect x="884.5" y="383.3" width="2.2" height="2.0" fill="#8599a5"/>
<rect x="1027.8" y="383.7" width="3.1" height="1.5" fill="#ffffff"/>
<rect x="944.3" y="384.1" width="2.1" height="1.4" fill="#1c1d28"/>
<rect x="1007.1" y="383.7" width="2.2" height="1.8" fill="#ffffff"/>
<rect x="820.9" y="382.2" width="2.4" height="1.6" fill="#ffffff"/>
<rect x="989.3" y="377.2" width="1.6" height="1.8" fill="#c8dcdc"/>
<rect x="991.1" y="369.8" width="2.9" height="1.7" fill="#ffffff"/>
<rect x="860.3" y="388.0" width="2.2" height="1.6" fill="#c8dcdc"/>
<rect x="854.7" y="374.3" width="1.5" height="1.2" fill="#c8dcdc"/>
<rect x="1041.8" y="382.3" width="3.1" height="1.5" fill="#c8dcdc"/>
<rect x="968.0" y="387.5" width="2.1" height="1.8" fill="#ffffff"/>
<rect x="1078.7" y="375.2" width="2.7" height="1.8" fill="#8599a5"/>
<rect x="1024.2" y="371.3" width="1.6" height="1.8" fill="#ffffff"/>
<rect x="1032.5" y="381.7" width="1.9" height="1.8" fill="#8599a5"/>
<rect x="833.4" y="369.8" width="2.9" height="1.7" fill="#c8dcdc"/>
<rect x="879.7" y="370.6" width="2.9" height="1.8" fill="#ffffff"/>
<rect x="870.7" y="384.0" width="1.5" height="1.5" fill="#1c1d28"/>
<rect x="1163.2" y="369.7" width="2.7" height="1.8" fill="#8599a5"/>
<rect x="894.5" y="370.5" width="3.1" height="1.9" fill="#ffffff"/>
<rect x="1010.8" y="370.7" width="2.5" height="1.9" fill="#ffffff"/>
<rect x="1086.2" y="379.1" width="2.1" height="1.6" fill="#ffffff"/>
<rect x="1038.5" y="384.8" width="3.1" height="1.4" fill="#ffffff"/>
<rect x="1139.6" y="386.6" width="1.3" height="1.7" fill="#c8dcdc"/>
<rect x="1031.7" y="388.2" width="2.6" height="1.8" fill="#ffffff"/>
<rect x="855.7" y="382.3" width="1.6" height="1.4" fill="#c8dcdc"/>
<rect x="931.4" y="383.7" width="1.8" height="1.2" fill="#ffffff"/>
<rect x="1097.1" y="384.1" width="2.8" height="1.3" fill="#ffffff"/>
<rect x="899.7" y="378.3" width="2.8" height="1.4" fill="#c8dcdc"/>
<rect x="795.7" y="378.0" width="1.3" height="1.7" fill="#8599a5"/>
<rect x="1025.7" y="379.8" width="2.3" height="1.6" fill="#8599a5"/>
<rect x="908.7" y="373.5" width="2.2" height="1.5" fill="#8599a5"/>
<rect x="1018.3" y="382.5" width="2.4" height="1.4" fill="#c8dcdc"/>
<rect x="1080.8" y="373.1" width="2.7" height="1.8" fill="#ffffff"/>
<rect x="997.0" y="387.2" width="2.8" height="1.5" fill="#ffffff"/>
<rect x="894.0" y="381.5" width="1.6" height="1.3" fill="#8599a5"/>
<rect x="1043.8" y="376.7" width="2.8" height="1.6" fill="#ffffff"/>
<rect x="922.8" y="375.4" width="1.4" height="1.9" fill="#8599a5"/>
<rect x="906.3" y="369.2" width="2.0" height="1.8" fill="#ffffff"/>
<rect x="966.7" y="388.4" width="2.1" height="1.7" fill="#8599a5"/>
<rect x="799.5" y="387.3" width="2.6" height="1.3" fill="#c8dcdc"/>
<rect x="820.6" y="370.7" width="3.1" height="1.9" fill="#ffffff"/>
<rect x="997.0" y="370.8" width="2.2" height="1.8" fill="#ffffff"/>
<rect x="1037.3" y="380.3" width="1.5" height="1.3" fill="#c8dcdc"/>
<rect x="958.6" y="374.8" width="1.3" height="1.8" fill="#ffffff"/>
<rect x="836.7" y="371.1" width="1.6" height="1.7" fill="#ffffff"/>
<rect x="1018.1" y="377.0" width="1.5" height="1.8" fill="#c8dcdc"/>
<rect x="935.1" y="381.0" width="1.4" height="1.5" fill="#ffffff"/>
<rect x="927.6" y="387.6" width="1.6" height="1.6" fill="#ffffff"/>
<rect x="795.7" y="379.3" width="1.5" height="1.6" fill="#8599a5"/>
<rect x="999.8" y="373.3" width="1.8" height="1.8" fill="#ffffff"/>
<rect x="810.4" y="385.8" width="1.5" height="1.4" fill="#c8dcdc"/>
<rect x="1034.9" y="370.9" width="1.6" height="1.5" fill="#ffffff"/>
<rect x="818.3" y="378.1" width="1.6" height="1.3" fill="#ffffff"/>
<rect x="1003.3" y="381.8" width="1.6" height="1.7" fill="#8599a5"/>
<rect x="883.4" y="369.6" width="2.9" height="1.8" fill="#ffffff"/>
<rect x="1123.5" y="373.3" width="2.4" height="1.7" fill="#c8dcdc"/>
<rect x="1034.2" y="380.1" width="1.7" height="1.3" fill="#c8dcdc"/>
<rect x="812.4" y="380.6" width="3.0" height="2.0" fill="#8599a5"/>
<rect x="847.1" y="388.3" width="1.2" height="1.5" fill="#ffffff"/>
<rect x="930.8" y="375.2" width="1.7" height="1.2" fill="#8599a5"/>
<rect x="964.9" y="378.6" width="3.0" height="1.9" fill="#c8dcdc"/>
<rect x="984.8" y="385.0" width="2.7" height="1.8" fill="#c8dcdc"/>
<rect x="927.3" y="383.8" width="1.5" height="1.5" fill="#c8dcdc"/>
<rect x="834.3" y="383.4" width="2.2" height="1.8" fill="#c8dcdc"/>
<rect x="1023.4" y="387.2" width="2.6" height="1.8" fill="#ffffff"/>
<rect x="1059.3" y="387.4" width="2.5" height="1.6" fill="#ffffff"/>
<rect x="998.3" y="387.8" width="1.6" height="1.6" fill="#c8dcdc"/>
<rect x="911.5" y="383.3" width="1.2" height="1.4" fill="#ffffff"/>
<rect x="1031.5" y="376.9" width="2.1" height="1.3" fill="#ffffff"/>
<rect x="1058.9" y="388.5" width="2.4" height="1.7" fill="#8599a5"/>
<rect x="1028.9" y="379.1" width="3.2" height="1.9" fill="#ffffff"/>
<rect x="959.5" y="385.3" width="2.8" height="2.0" fill="#ffffff"/>
<rect x="817.8" y="373.2" width="2.8" height="1.9" fill="#c8dcdc"/>
<rect x="878.3" y="378.7" width="2.6" height="1.7" fill="#ffffff"/>
<rect x="1138.4" y="387.5" width="3.1" height="1.4" fill="#8599a5"/>
<rect x="1029.6" y="384.1" width="1.8" height="1.9" fill="#c8dcdc"/>
<rect x="1098.6" y="388.5" width="2.5" height="1.8" fill="#8599a5"/>
<rect x="1163.0" y="383.5" width="1.4" height="1.3" fill="#c8dcdc"/>
<rect x="891.0" y="380.4" width="1.5" height="1.3" fill="#c8dcdc"/>
<rect x="1057.4" y="385.3" width="2.2" height="2.0" fill="#8599a5"/>
<rect x="930.7" y="379.7" width="1.2" height="1.9" fill="#ffffff"/>
<rect x="1092.0" y="383.7" width="2.2" height="2.0" fill="#c8dcdc"/>
<rect x="813.9" y="370.6" width="3.1" height="1.3" fill="#ffffff"/>
<rect x="863.5" y="378.2" width="2.3" height="1.7" fill="#ffffff"/>
<rect x="810.2" y="373.0" width="2.6" height="1.3" fill="#ffffff"/>
<rect x="825.3" y="375.3" width="1.9" height="1.3" fill="#c8dcdc"/>
<rect x="818.9" y="381.9" width="2.5" height="1.9" fill="#ffffff"/>
<rect x="839.5" y="381.3" width="2.9" height="1.7" fill="#c8dcdc"/>
<rect x="1029.4" y="387.3" width="1.5" height="1.6" fill="#ffffff"/>
<rect x="823.3" y="380.2" width="2.6" height="1.5" fill="#c8dcdc"/>
<rect x="793.0" y="386.8" width="1.7" height="1.6" fill="#8599a5"/>
<rect x="812.3" y="384.4" width="1.4" height="1.7" fill="#ffffff"/>
<rect x="840.1" y="379.6" width="1.8" height="1.6" fill="#8599a5"/>
<rect x="1002.3" y="382.1" width="1.9" height="1.5" fill="#ffffff"/>
<rect x="871.6" y="383.8" width="1.6" height="1.4" fill="#c8dcdc"/>
<rect x="954.0" y="385.7" width="2.8" height="1.6" fill="#c8dcdc"/>
<rect x="1016.8" y="374.1" width="2.6" height="1.3" fill="#c8dcdc"/>
<rect x="967.1" y="374.1" width="1.9" height="1.4" fill="#c8dcdc"/>
<rect x="1014.8" y="369.8" width="1.7" height="1.3" fill="#c8dcdc"/>
<rect x="1115.4" y="382.7" width="1.5" height="1.4" fill="#ffffff"/>
<rect x="912.2" y="379.2" width="2.9" height="1.9" fill="#ffffff"/>
<rect x="796.8" y="369.5" width="2.1" height="1.2" fill="#c8dcdc"/>
<rect x="926.7" y="371.6" width="1.6" height="1.5" fill="#ffffff"/>
<rect x="858.2" y="386.0" width="2.1" height="1.4" fill="#8599a5"/>
<rect x="886.0" y="388.9" width="2.7" height="1.5" fill="#ffffff"/>
<rect x="1171.2" y="388.3" width="1.7" height="1.2" fill="#ffffff"/>
<rect x="1002.4" y="378.7" width="3.2" height="1.9" fill="#ffffff"/>
<rect x="884.4" y="388.7" width="1.3" height="1.4" fill="#ffffff"/>
<rect x="1163.9" y="384.9" width="2.5" height="1.2" fill="#ffffff"/>
<rect x="1155.3" y="375.0" width="2.3" height="1.6" fill="#ffffff"/>
<rect x="995.2" y="387.4" width="2.0" height="1.9" fill="#ffffff"/>
<rect x="858.3" y="376.0" width="1.3" height="1.5" fill="#c8dcdc"/>
<rect x="790.8" y="388.4" width="2.2" height="1.2" fill="#ffffff"/>
<rect x="892.6" y="384.5" width="1.4" height="1.5" fill="#c8dcdc"/>
<rect x="1015.5" y="371.5" width="2.3" height="1.8" fill="#c8dcdc"/>
<rect x="948.8" y="388.8" width="2.7" height="1.3" fill="#c8dcdc"/>
<rect x="1146.9" y="379.9" width="2.8" height="1.9" fill="#c8dcdc"/>
<rect x="840.7" y="386.6" width="1.9" height="1.8" fill="#ffffff"/>
<rect x="1070.9" y="380.3" width="1.8" height="1.9" fill="#c8dcdc"/>
<rect x="1095.2" y="387.9" width="2.3" height="1.8" fill="#8599a5"/>
<rect x="874.8" y="369.4" width="2.8" height="1.8" fill="#ffffff"/>
<rect x="919.7" y="377.8" width="1.4" height="1.8" fill="#ffffff"/>
<rect x="1065.8" y="378.3" width="2.5" height="1.9" fill="#ffffff"/>
<rect x="865.8" y="377.2" width="2.2" height="1.8" fill="#c8dcdc"/>
<rect x="1176.6" y="387.2" width="3.2" height="1.8" fill="#ffffff"/>
<rect x="1077.5" y="370.8" width="2.2" height="1.3" fill="#c8dcdc"/>
<rect x="1141.6" y="376.5" width="1.4" height="1.6" fill="#c8dcdc"/>
<rect x="921.3" y="388.0" width="2.1" height="1.3" fill="#ffffff"/>
<rect x="809.1" y="382.8" width="2.2" height="1.6" fill="#ffffff"/>
<rect x="950.1" y="387.1" width="1.7" height="1.8" fill="#8599a5"/>
<rect x="913.0" y="375.6" width="1.8" height="1.8" fill="#c8dcdc"/>
<rect x="827.3" y="380.1" width="1.9" height="1.8" fill="#ffffff"/>
<rect x="928.4" y="381.5" width="1.8" height="1.6" fill="#8599a5"/>
<rect x="1028.5" y="378.3" width="2.3" height="1.9" fill="#1c1d28"/>
<rect x="896.0" y="373.2" width="1.7" height="1.3" fill="#ffffff"/>
<rect x="819.0" y="381.5" width="2.7" height="1.7" fill="#ffffff"/>
<rect x="1131.1" y="386.0" width="2.0" height="2.0" fill="#c8dcdc"/>
<rect x="1157.6" y="381.8" width="1.9" height="1.3" fill="#ffffff"/>
<rect x="918.5" y="373.6" width="2.5" height="1.7" fill="#ffffff"/>
<rect x="1145.3" y="369.0" width="1.4" height="1.5" fill="#c8dcdc"/>
<rect x="1146.3" y="378.4" width="1.6" height="1.5" fill="#ffffff"/>
<rect x="1101.5" y="374.9" width="2.4" height="1.7" fill="#ffffff"/>
<rect x="801.3" y="376.2" width="2.0" height="1.4" fill="#ffffff"/>
<rect x="1179.7" y="380.8" width="2.2" height="1.7" fill="#ffffff"/>
<rect x="942.0" y="374.5" width="1.7" height="1.8" fill="#c8dcdc"/>
<rect x="824.2" y="371.3" width="3.2" height="1.8" fill="#ffffff"/>
<rect x="1050.8" y="383.8" width="2.2" height="1.2" fill="#c8dcdc"/>
<rect x="992.8" y="369.6" width="1.4" height="1.5" fill="#8599a5"/>
<rect x="975.3" y="373.4" width="1.4" height="2.0" fill="#8599a5"/>
<rect x="1174.1" y="387.3" width="1.6" height="1.9" fill="#8599a5"/>
<rect x="796.0" y="372.0" width="3.1" height="1.9" fill="#ffffff"/>
<rect x="1119.3" y="375.4" width="3.1" height="1.9" fill="#ffffff"/>
<rect x="1168.6" y="384.2" width="2.6" height="1.5" fill="#ffffff"/>
<rect x="1013.5" y="387.6" width="1.3" height="1.6" fill="#ffffff"/>
<rect x="1129.7" y="383.2" width="3.1" height="1.8" fill="#ffffff"/>
<rect x="877.5" y="383.0" width="1.2" height="1.9" fill="#ffffff"/>
<rect x="958.4" y="386.0" width="1.8" height="1.4" fill="#1c1d28"/>
<rect x="874.9" y="382.2" width="2.5" height="1.9" fill="#ffffff"/>
<rect x="834.4" y="374.7" width="2.8" height="1.8" fill="#c8dcdc"/>
<rect x="1176.4" y="386.5" width="2.7" height="1.9" fill="#ffffff"/>
<rect x="992.9" y="382.6" width="2.9" height="1.3" fill="#ffffff"/>
<rect x="801.7" y="383.1" width="1.6" height="1.9" fill="#ffffff"/>
<rect x="1085.2" y="372.3" width="2.5" height="1.7" fill="#8599a5"/>
<rect x="852.4" y="387.2" width="2.9" height="2.0" fill="#c8dcdc"/>
<rect x="837.1" y="383.0" width="3.0" height="1.6" fill="#ffffff"/>
<rect x="950.7" y="373.7" width="1.8" height="1.9" fill="#ffffff"/>
<rect x="803.4" y="386.8" width="2.6" height="2.0" fill="#1c1d28"/>
<rect x="915.4" y="380.8" width="1.3" height="1.9" fill="#c8dcdc"/>
<rect x="982.5" y="385.0" width="1.5" height="1.4" fill="#1c1d28"/>
<rect x="1108.4" y="369.5" width="2.0" height="1.5" fill="#1c1d28"/>
<rect x="1120.1" y="386.2" width="2.7" height="1.5" fill="#c8dcdc"/>
<rect x="1088.9" y="382.2" width="2.1" height="1.5" fill="#8599a5"/>
<rect x="969.2" y="380.1" width="2.0" height="1.6" fill="#ffffff"/>
<rect x="1112.7" y="382.6" width="1.5" height="1.4" fill="#c8dcdc"/>
<rect x="1161.0" y="376.7" width="3.1" height="1.8" fill="#ffffff"/>
<rect x="933.9" y="383.9" width="3.1" height="1.6" fill="#ffffff"/>
<rect x="1038.2" y="382.7" width="1.6" height="1.7" fill="#ffffff"/>
<rect x="957.0" y="382.6" width="1.6" height="1.5" fill="#ffffff"/>
<rect x="889.9" y="388.2" width="2.1" height="2.0" fill="#ffffff"/>
<rect x="1095.2" y="386.2" width="1.5" height="1.5" fill="#ffffff"/>
<rect x="822.7" y="377.0" width="2.2" height="2.0" fill="#ffffff"/>
<rect x="997.7" y="372.3" width="2.6" height="1.6" fill="#c8dcdc"/>
<rect x="949.8" y="378.9" width="2.6" height="1.7" fill="#c8dcdc"/>
<rect x="809.0" y="378.9" width="2.4" height="1.6" fill="#c8dcdc"/>
<rect x="1086.7" y="388.3" width="2.4" height="1.6" fill="#ffffff"/>
<rect x="834.1" y="383.6" width="2.0" height="1.7" fill="#c8dcdc"/>
<rect x="893.3" y="386.3" width="3.1" height="1.2" fill="#ffffff"/>
<rect x="971.1" y="375.5" width="2.5" height="1.7" fill="#ffffff"/>
<rect x="1156.5" y="377.8" width="2.7" height="1.6" fill="#c8dcdc"/>
<rect x="894.9" y="387.4" width="1.3" height="1.6" fill="#c8dcdc"/>
<rect x="1145.1" y="386.1" width="2.4" height="1.6" fill="#ffffff"/>
<rect x="903.4" y="372.3" width="2.9" height="1.6" fill="#c8dcdc"/>
<rect x="1172.8" y="385.0" width="2.4" height="1.5" fill="#ffffff"/>
<rect x="1143.7" y="385.7" width="3.0" height="1.7" fill="#c8dcdc"/>
<rect x="930.5" y="383.9" width="2.6" height="1.6" fill="#c8dcdc"/>
<rect x="1036.0" y="387.4" width="2.2" height="1.5" fill="#ffffff"/>
<rect x="1068.8" y="382.3" width="2.2" height="1.4" fill="#8599a5"/>
<rect x="1042.7" y="372.3" width="1.7" height="1.4" fill="#c8dcdc"/>
<rect x="1010.6" y="386.3" width="2.5" height="1.8" fill="#ffffff"/>
<rect x="942.4" y="377.6" width="1.6" height="1.8" fill="#ffffff"/>
<rect x="1149.2" y="386.6" width="3.0" height="1.4" fill="#8599a5"/>
<rect x="840.8" y="381.3" width="1.6" height="1.7" fill="#c8dcdc"/>
<rect x="999.2" y="379.7" width="2.4" height="1.8" fill="#ffffff"/>
<rect x="1071.1" y="383.1" width="2.1" height="1.7" fill="#ffffff"/>
<rect x="834.0" y="370.6" width="2.6" height="1.4" fill="#ffffff"/>
<rect x="1164.2" y="374.8" width="2.1" height="2.0" fill="#ffffff"/>
<rect x="849.9" y="374.0" width="1.9" height="1.5" fill="#ffffff"/>
<rect x="841.4" y="387.3" width="2.4" height="1.4" fill="#c8dcdc"/>
<rect x="1154.9" y="371.1" width="1.3" height="1.6" fill="#ffffff"/>
<rect x="916.8" y="388.0" width="2.9" height="1.2" fill="#c8dcdc"/>
<rect x="882.0" y="388.7" width="1.3" height="1.4" fill="#c8dcdc"/>
<rect x="931.5" y="379.5" width="1.8" height="1.6" fill="#c8dcdc"/>
<rect x="972.9" y="372.7" width="2.4" height="1.7" fill="#ffffff"/>
<rect x="1078.6" y="378.1" width="3.1" height="1.3" fill="#c8dcdc"/>
<rect x="908.5" y="377.3" width="1.6" height="1.9" fill="#c8dcdc"/>
<rect x="908.0" y="379.9" width="1.5" height="1.5" fill="#ffffff"/>
<rect x="841.8" y="379.8" width="2.9" height="2.0" fill="#ffffff"/>
<rect x="834.2" y="378.2" width="1.9" height="2.0" fill="#ffffff"/>
<rect x="982.8" y="386.4" width="2.0" height="1.8" fill="#8599a5"/>
<rect x="1116.7" y="378.9" width="2.7" height="1.5" fill="#ffffff"/>
<rect x="1066.3" y="379.3" width="3.0" height="1.9" fill="#8599a5"/>
<rect x="1137.9" y="373.7" width="1.3" height="1.6" fill="#ffffff"/>
<rect x="908.0" y="379.1" width="2.3" height="1.5" fill="#c8dcdc"/>
<rect x="1086.0" y="382.2" width="1.6" height="1.4" fill="#c8dcdc"/>
<rect x="917.3" y="377.5" width="2.7" height="2.0" fill="#ffffff"/>
<rect x="891.9" y="374.9" width="1.2" height="1.7" fill="#ffffff"/>
<rect x="804.7" y="380.9" width="2.0" height="2.0" fill="#ffffff"/>
<rect x="911.8" y="369.3" width="1.7" height="1.8" fill="#8599a5"/>
<rect x="1078.4" y="376.1" width="1.5" height="1.4" fill="#ffffff"/>
<rect x="1012.7" y="379.7" width="1.8" height="1.9" fill="#ffffff"/>
<rect x="1036.4" y="382.8" width="1.6" height="1.7" fill="#ffffff"/>
<rect x="1157.7" y="369.3" width="1.8" height="1.4" fill="#c8dcdc"/>
<rect x="1090.9" y="382.0" width="2.6" height="1.9" fill="#8599a5"/>
<rect x="815.5" y="369.4" width="3.0" height="1.6" fill="#ffffff"/>
<rect x="987.3" y="377.1" width="3.0" height="1.7" fill="#ffffff"/>
<rect x="1081.0" y="378.3" width="2.7" height="1.6" fill="#ffffff"/>
<rect x="907.7" y="375.0" width="2.5" height="1.3" fill="#ffffff"/>
<rect x="993.1" y="377.5" width="1.8" height="1.9" fill="#ffffff"/>
<rect x="978.2" y="385.6" width="3.0" height="1.6" fill="#c8dcdc"/>
<rect x="1002.7" y="377.7" width="2.3" height="1.6" fill="#ffffff"/>
<rect x="931.7" y="378.1" width="2.1" height="1.4" fill="#c8dcdc"/>
<rect x="820.0" y="376.3" width="2.5" height="1.3" fill="#1c1d28"/>
<rect x="1143.0" y="375.3" width="2.3" height="1.4" fill="#c8dcdc"/>
<rect x="1072.2" y="375.1" width="1.3" height="1.2" fill="#ffffff"/>
<rect x="1134.2" y="382.8" width="2.5" height="1.5" fill="#c8dcdc"/>
<rect x="988.2" y="374.5" width="2.5" height="1.9" fill="#ffffff"/>
<rect x="889.9" y="380.4" width="2.9" height="1.6" fill="#ffffff"/>
<rect x="1127.2" y="387.5" width="2.0" height="2.0" fill="#c8dcdc"/>
<rect x="1016.0" y="379.6" width="2.4" height="1.6" fill="#ffffff"/>
<rect x="1046.6" y="374.2" width="1.2" height="1.8" fill="#c8dcdc"/>
<rect x="1111.3" y="383.7" width="2.7" height="1.3" fill="#ffffff"/>
<rect x="915.3" y="387.4" width="3.0" height="1.8" fill="#8599a5"/>
<rect x="847.5" y="373.2" width="2.5" height="1.2" fill="#ffffff"/>
<rect x="996.6" y="372.8" width="2.3" height="1.2" fill="#ffffff"/>
<rect x="944.2" y="369.2" width="3.0" height="1.8" fill="#ffffff"/>
<rect x="790.9" y="387.8" width="2.5" height="1.8" fill="#c8dcdc"/>
<rect x="1008.0" y="371.3" width="2.7" height="1.3" fill="#c8dcdc"/>
<rect x="936.8" y="387.6" width="1.5" height="1.7" fill="#c8dcdc"/>
<rect x="926.3" y="384.8" width="2.9" height="1.9" fill="#c8dcdc"/>
<rect x="859.5" y="379.9" width="1.4" height="1.9" fill="#c8dcdc"/>
<rect x="923.4" y="381.2" width="3.1" height="2.0" fill="#8599a5"/>
<rect x="1056.8" y="371.6" width="2.1" height="1.6" fill="#ffffff"/>
<rect x="875.2" y="372.0" width="2.4" height="1.8" fill="#ffffff"/>
<rect x="1078.3" y="377.0" width="1.8" height="1.7" fill="#ffffff"/>
<rect x="958.0" y="384.7" width="2.0" height="1.3" fill="#c8dcdc"/>
<rect x="805.2" y="373.3" width="2.0" height="1.5" fill="#1c1d28"/>
<rect x="1134.0" y="369.9" width="1.4" height="1.9" fill="#ffffff"/>
<rect x="929.7" y="373.9" width="1.9" height="1.2" fill="#ffffff"/>
<rect x="840.9" y="382.6" width="3.2" height="1.4" fill="#ffffff"/>
<rect x="1090.0" y="375.9" width="1.8" height="1.5" fill="#ffffff"/>
<rect x="1146.5" y="374.0" width="3.0" height="1.6" fill="#c8dcdc"/>
<rect x="1107.1" y="379.7" width="2.6" height="1.7" fill="#c8dcdc"/>
<rect x="938.4" y="389.0" width="2.9" height="1.8" fill="#8599a5"/>
<rect x="1066.8" y="378.5" width="1.3" height="1.7" fill="#ffffff"/>
<rect x="1127.7" y="377.2" width="2.6" height="1.6" fill="#ffffff"/>
<rect x="1090.4" y="378.7" width="2.2" height="1.8" fill="#8599a5"/>
<rect x="854.1" y="378.2" width="1.2" height="1.9" fill="#ffffff"/>
<rect x="926.9" y="376.3" width="2.3" height="1.4" fill="#ffffff"/>
<rect x="850.7" y="377.4" width="3.2" height="1.8" fill="#ffffff"/>
<rect x="1061.5" y="382.7" width="1.5" height="1.3" fill="#ffffff"/>
<rect x="1119.0" y="369.4" width="2.0" height="1.9" fill="#ffffff"/>
<rect x="1033.7" y="373.5" width="2.1" height="1.6" fill="#8599a5"/>
<rect x="972.2" y="380.6" width="1.9" height="1.9" fill="#8599a5"/>
<rect x="902.7" y="372.8" width="3.1" height="1.9" fill="#c8dcdc"/>
<rect x="948.0" y="375.6" width="3.0" height="1.9" fill="#c8dcdc"/>
<rect x="1161.4" y="386.1" width="1.4" height="2.0" fill="#ffffff"/>
<rect x="855.3" y="383.8" width="1.3" height="1.7" fill="#c8dcdc"/>
<rect x="889.4" y="386.8" width="2.5" height="1.5" fill="#c8dcdc"/>
<rect x="808.5" y="374.6" width="2.7" height="1.8" fill="#c8dcdc"/>
<rect x="1154.8" y="372.3" width="1.9" height="1.5" fill="#c8dcdc"/>
<rect x="870.4" y="384.1" width="2.3" height="1.3" fill="#1c1d28"/>
<rect x="912.2" y="374.8" width="3.1" height="1.8" fill="#ffffff"/>
<rect x="957.6" y="388.8" width="1.6" height="1.7" fill="#c8dcdc"/>
<line x1="755" y1="68" x2="830" y2="68" stroke="#7a9aa0" stroke-width="1.2"/>
<line x1="755" y1="194.5" x2="830" y2="194.5" stroke="#7a9aa0" stroke-width="1.2"/>
<g opacity="0.50" filter="url(#hblur)"><rect x="870.7" y="84.8" width="20.0" height="1.6" fill="#8fb0b4"/><rect x="872.5" y="86.0" width="20.0" height="1.6" fill="#8fb0b4"/><rect x="874.3" y="87.3" width="20.0" height="1.6" fill="#8fb0b4"/><rect x="876.0" y="88.7" width="20.0" height="1.6" fill="#8fb0b4"/><rect x="877.7" y="90.1" width="20.0" height="1.6" fill="#8fb0b4"/><rect x="879.3" y="91.5" width="20.0" height="1.6" fill="#8fb0b4"/><rect x="881.0" y="93.0" width="20.0" height="1.6" fill="#8fb0b4"/><rect x="882.5" y="94.6" width="20.0" height="1.6" fill="#8fb0b4"/><rect x="884.0" y="96.2" width="20.0" height="1.6" fill="#8fb0b4"/><rect x="885.5" y="97.8" width="20.0" height="1.6" fill="#8fb0b4"/><rect x="886.9" y="99.5" width="20.0" height="1.6" fill="#8fb0b4"/><rect x="888.3" y="101.2" width="20.0" height="1.6" fill="#8fb0b4"/><rect x="889.6" y="103.0" width="20.0" height="1.6" fill="#8fb0b4"/><rect x="890.9" y="104.8" width="20.0" height="1.6" fill="#8fb0b4"/><rect x="892.1" y="106.6" width="20.0" height="1.6" fill="#8fb0b4"/><rect x="893.4" y="108.4" width="20.0" height="1.6" fill="#8fb0b4"/><rect x="894.5" y="110.3" width="20.0" height="1.6" fill="#8fb0b4"/><rect x="895.7" y="112.1" width="20.0" height="1.6" fill="#8fb0b4"/><rect x="896.9" y="114.0" width="20.0" height="1.6" fill="#8fb0b4"/><rect x="898.0" y="115.9" width="20.0" height="1.6" fill="#8fb0b4"/><rect x="899.2" y="117.8" width="20.0" height="1.6" fill="#8fb0b4"/><rect x="900.3" y="119.6" width="20.0" height="1.6" fill="#8fb0b4"/><rect x="901.4" y="121.6" width="20.0" height="1.6" fill="#8fb0b4"/><rect x="902.5" y="123.5" width="20.0" height="1.6" fill="#8fb0b4"/><rect x="903.6" y="125.4" width="20.0" height="1.6" fill="#8fb0b4"/><rect x="904.6" y="127.3" width="20.0" height="1.6" fill="#8fb0b4"/><rect x="905.7" y="129.2" width="20.0" height="1.6" fill="#8fb0b4"/><rect x="906.8" y="131.2" width="20.0" height="1.6" fill="#8fb0b4"/><rect x="907.8" y="133.1" width="20.0" height="1.6" fill="#8fb0b4"/><rect x="908.8" y="135.0" width="20.0" height="1.6" fill="#8fb0b4"/><rect x="909.8" y="137.0" width="20.0" height="1.6" fill="#8fb0b4"/><rect x="910.7" y="139.0" width="20.0" height="1.6" fill="#8fb0b4"/><rect x="911.7" y="141.0" width="20.0" height="1.6" fill="#8fb0b4"/><rect x="912.6" y="143.0" width="20.0" height="1.6" fill="#8fb0b4"/><rect x="913.5" y="145.0" width="20.0" height="1.6" fill="#8fb0b4"/><rect x="914.3" y="147.1" width="20.0" height="1.6" fill="#8fb0b4"/><rect x="915.1" y="149.1" width="20.0" height="1.6" fill="#8fb0b4"/><rect x="915.8" y="151.2" width="20.0" height="1.6" fill="#8fb0b4"/><rect x="916.5" y="153.3" width="20.0" height="1.6" fill="#8fb0b4"/><rect x="917.1" y="155.4" width="20.0" height="1.6" fill="#8fb0b4"/><rect x="917.6" y="157.5" width="20.0" height="1.6" fill="#8fb0b4"/><rect x="918.1" y="159.7" width="20.0" height="1.6" fill="#8fb0b4"/><rect x="918.6" y="161.8" width="20.0" height="1.6" fill="#8fb0b4"/><rect x="919.0" y="164.0" width="20.0" height="1.6" fill="#8fb0b4"/><rect x="919.3" y="166.2" width="20.0" height="1.6" fill="#8fb0b4"/><rect x="919.6" y="168.3" width="20.0" height="1.6" fill="#8fb0b4"/><rect x="919.9" y="170.5" width="20.0" height="1.6" fill="#8fb0b4"/><rect x="920.1" y="172.7" width="20.0" height="1.6" fill="#8fb0b4"/><rect x="920.3" y="174.9" width="20.0" height="1.6" fill="#8fb0b4"/><rect x="920.6" y="177.1" width="20.0" height="1.6" fill="#8fb0b4"/><rect x="920.8" y="179.3" width="20.0" height="1.6" fill="#8fb0b4"/><rect x="921.2" y="181.4" width="20.0" height="1.6" fill="#8fb0b4"/><rect x="921.6" y="183.6" width="20.0" height="1.6" fill="#8fb0b4"/><rect x="922.1" y="185.7" width="20.0" height="1.6" fill="#8fb0b4"/><rect x="922.7" y="187.8" width="20.0" height="1.6" fill="#8fb0b4"/></g>
<g opacity="0.35" filter="url(#hblur)"><rect x="980.4" y="79.6" width="16.0" height="1.6" fill="#8fb0b4"/><rect x="982.5" y="80.2" width="16.0" height="1.6" fill="#8fb0b4"/><rect x="984.6" y="80.8" width="16.0" height="1.6" fill="#8fb0b4"/><rect x="986.7" y="81.4" width="16.0" height="1.6" fill="#8fb0b4"/><rect x="988.8" y="82.1" width="16.0" height="1.6" fill="#8fb0b4"/><rect x="990.9" y="82.7" width="16.0" height="1.6" fill="#8fb0b4"/><rect x="993.0" y="83.4" width="16.0" height="1.6" fill="#8fb0b4"/><rect x="995.1" y="84.1" width="16.0" height="1.6" fill="#8fb0b4"/><rect x="997.2" y="84.8" width="16.0" height="1.6" fill="#8fb0b4"/><rect x="999.2" y="85.5" width="16.0" height="1.6" fill="#8fb0b4"/><rect x="1001.3" y="86.3" width="16.0" height="1.6" fill="#8fb0b4"/><rect x="1003.4" y="87.1" width="16.0" height="1.6" fill="#8fb0b4"/><rect x="1005.4" y="87.8" width="16.0" height="1.6" fill="#8fb0b4"/><rect x="1007.5" y="88.6" width="16.0" height="1.6" fill="#8fb0b4"/><rect x="1009.5" y="89.5" width="16.0" height="1.6" fill="#8fb0b4"/><rect x="1011.6" y="90.3" width="16.0" height="1.6" fill="#8fb0b4"/><rect x="1013.6" y="91.2" width="16.0" height="1.6" fill="#8fb0b4"/><rect x="1015.6" y="92.1" width="16.0" height="1.6" fill="#8fb0b4"/><rect x="1017.6" y="93.0" width="16.0" height="1.6" fill="#8fb0b4"/><rect x="1019.6" y="93.9" width="16.0" height="1.6" fill="#8fb0b4"/><rect x="1021.6" y="94.9" width="16.0" height="1.6" fill="#8fb0b4"/><rect x="1023.5" y="95.9" width="16.0" height="1.6" fill="#8fb0b4"/><rect x="1025.5" y="96.9" width="16.0" height="1.6" fill="#8fb0b4"/><rect x="1027.4" y="97.9" width="16.0" height="1.6" fill="#8fb0b4"/><rect x="1029.3" y="99.0" width="16.0" height="1.6" fill="#8fb0b4"/><rect x="1031.2" y="100.1" width="16.0" height="1.6" fill="#8fb0b4"/><rect x="1033.1" y="101.2" width="16.0" height="1.6" fill="#8fb0b4"/><rect x="1035.0" y="102.3" width="16.0" height="1.6" fill="#8fb0b4"/><rect x="1036.9" y="103.5" width="16.0" height="1.6" fill="#8fb0b4"/><rect x="1038.7" y="104.7" width="16.0" height="1.6" fill="#8fb0b4"/><rect x="1040.6" y="105.9" width="16.0" height="1.6" fill="#8fb0b4"/><rect x="1042.4" y="107.2" width="16.0" height="1.6" fill="#8fb0b4"/><rect x="1044.2" y="108.4" width="16.0" height="1.6" fill="#8fb0b4"/><rect x="1046.0" y="109.7" width="16.0" height="1.6" fill="#8fb0b4"/><rect x="1047.7" y="111.0" width="16.0" height="1.6" fill="#8fb0b4"/><rect x="1049.5" y="112.3" width="16.0" height="1.6" fill="#8fb0b4"/><rect x="1051.2" y="113.7" width="16.0" height="1.6" fill="#8fb0b4"/><rect x="1053.0" y="115.0" width="16.0" height="1.6" fill="#8fb0b4"/><rect x="1054.7" y="116.4" width="16.0" height="1.6" fill="#8fb0b4"/><rect x="1056.4" y="117.8" width="16.0" height="1.6" fill="#8fb0b4"/><rect x="1058.1" y="119.2" width="16.0" height="1.6" fill="#8fb0b4"/><rect x="1059.7" y="120.7" width="16.0" height="1.6" fill="#8fb0b4"/><rect x="1061.4" y="122.1" width="16.0" height="1.6" fill="#8fb0b4"/><rect x="1063.0" y="123.6" width="16.0" height="1.6" fill="#8fb0b4"/><rect x="1064.6" y="125.1" width="16.0" height="1.6" fill="#8fb0b4"/><rect x="1066.3" y="126.6" width="16.0" height="1.6" fill="#8fb0b4"/><rect x="1067.8" y="128.1" width="16.0" height="1.6" fill="#8fb0b4"/><rect x="1069.4" y="129.6" width="16.0" height="1.6" fill="#8fb0b4"/><rect x="1071.0" y="131.2" width="16.0" height="1.6" fill="#8fb0b4"/><rect x="1072.5" y="132.7" width="16.0" height="1.6" fill="#8fb0b4"/><rect x="1074.1" y="134.3" width="16.0" height="1.6" fill="#8fb0b4"/><rect x="1075.6" y="135.9" width="16.0" height="1.6" fill="#8fb0b4"/><rect x="1077.1" y="137.5" width="16.0" height="1.6" fill="#8fb0b4"/><rect x="1078.6" y="139.2" width="16.0" height="1.6" fill="#8fb0b4"/><rect x="1080.0" y="140.8" width="16.0" height="1.6" fill="#8fb0b4"/><rect x="1081.4" y="142.5" width="16.0" height="1.6" fill="#8fb0b4"/><rect x="1082.8" y="144.2" width="16.0" height="1.6" fill="#8fb0b4"/><rect x="1084.2" y="145.9" width="16.0" height="1.6" fill="#8fb0b4"/><rect x="1085.5" y="147.7" width="16.0" height="1.6" fill="#8fb0b4"/><rect x="1086.8" y="149.4" width="16.0" height="1.6" fill="#8fb0b4"/><rect x="1088.1" y="151.2" width="16.0" height="1.6" fill="#8fb0b4"/><rect x="1089.3" y="153.1" width="16.0" height="1.6" fill="#8fb0b4"/><rect x="1090.5" y="154.9" width="16.0" height="1.6" fill="#8fb0b4"/><rect x="1091.6" y="156.8" width="16.0" height="1.6" fill="#8fb0b4"/><rect x="1092.7" y="158.7" width="16.0" height="1.6" fill="#8fb0b4"/><rect x="1093.7" y="160.7" width="16.0" height="1.6" fill="#8fb0b4"/><rect x="1094.7" y="162.6" width="16.0" height="1.6" fill="#8fb0b4"/><rect x="1095.6" y="164.6" width="16.0" height="1.6" fill="#8fb0b4"/><rect x="1096.5" y="166.7" width="16.0" height="1.6" fill="#8fb0b4"/><rect x="1097.3" y="168.7" width="16.0" height="1.6" fill="#8fb0b4"/><rect x="1098.1" y="170.8" width="16.0" height="1.6" fill="#8fb0b4"/><rect x="1098.8" y="172.8" width="16.0" height="1.6" fill="#8fb0b4"/><rect x="1099.5" y="174.9" width="16.0" height="1.6" fill="#8fb0b4"/><rect x="1100.2" y="177.0" width="16.0" height="1.6" fill="#8fb0b4"/><rect x="1100.9" y="179.1" width="16.0" height="1.6" fill="#8fb0b4"/><rect x="1101.6" y="181.2" width="16.0" height="1.6" fill="#8fb0b4"/><rect x="1102.3" y="183.3" width="16.0" height="1.6" fill="#8fb0b4"/><rect x="1103.1" y="185.3" width="16.0" height="1.6" fill="#8fb0b4"/><rect x="1104.0" y="187.3" width="16.0" height="1.6" fill="#8fb0b4"/></g>
<g opacity="0.50" filter="url(#hblur)"><rect x="920.6" y="305.8" width="20.0" height="1.6" fill="#8fb0b4"/><rect x="921.1" y="308.0" width="20.0" height="1.6" fill="#8fb0b4"/><rect x="921.6" y="310.1" width="20.0" height="1.6" fill="#8fb0b4"/><rect x="922.0" y="312.3" width="20.0" height="1.6" fill="#8fb0b4"/><rect x="922.5" y="314.4" width="20.0" height="1.6" fill="#8fb0b4"/><rect x="922.9" y="316.6" width="20.0" height="1.6" fill="#8fb0b4"/><rect x="923.3" y="318.7" width="20.0" height="1.6" fill="#8fb0b4"/><rect x="923.7" y="320.9" width="20.0" height="1.6" fill="#8fb0b4"/><rect x="924.1" y="323.1" width="20.0" height="1.6" fill="#8fb0b4"/><rect x="924.4" y="325.2" width="20.0" height="1.6" fill="#8fb0b4"/><rect x="924.7" y="327.4" width="20.0" height="1.6" fill="#8fb0b4"/><rect x="925.0" y="329.6" width="20.0" height="1.6" fill="#8fb0b4"/><rect x="925.3" y="331.8" width="20.0" height="1.6" fill="#8fb0b4"/><rect x="925.6" y="334.0" width="20.0" height="1.6" fill="#8fb0b4"/><rect x="925.8" y="336.1" width="20.0" height="1.6" fill="#8fb0b4"/><rect x="926.0" y="338.3" width="20.0" height="1.6" fill="#8fb0b4"/><rect x="926.2" y="340.5" width="20.0" height="1.6" fill="#8fb0b4"/><rect x="926.3" y="342.7" width="20.0" height="1.6" fill="#8fb0b4"/><rect x="926.4" y="344.9" width="20.0" height="1.6" fill="#8fb0b4"/><rect x="926.5" y="347.1" width="20.0" height="1.6" fill="#8fb0b4"/><rect x="926.6" y="349.3" width="20.0" height="1.6" fill="#8fb0b4"/><rect x="926.6" y="351.5" width="20.0" height="1.6" fill="#8fb0b4"/><rect x="926.6" y="353.7" width="20.0" height="1.6" fill="#8fb0b4"/><rect x="926.6" y="355.9" width="20.0" height="1.6" fill="#8fb0b4"/><rect x="926.6" y="358.1" width="20.0" height="1.6" fill="#8fb0b4"/><rect x="926.5" y="360.3" width="20.0" height="1.6" fill="#8fb0b4"/><rect x="926.4" y="362.5" width="20.0" height="1.6" fill="#8fb0b4"/><rect x="926.3" y="364.7" width="20.0" height="1.6" fill="#8fb0b4"/><rect x="926.1" y="366.9" width="20.0" height="1.6" fill="#8fb0b4"/><rect x="925.9" y="369.1" width="20.0" height="1.6" fill="#8fb0b4"/><rect x="925.7" y="371.3" width="20.0" height="1.6" fill="#8fb0b4"/><rect x="925.5" y="373.5" width="20.0" height="1.6" fill="#8fb0b4"/><rect x="925.3" y="375.7" width="20.0" height="1.6" fill="#8fb0b4"/><rect x="925.0" y="377.8" width="20.0" height="1.6" fill="#8fb0b4"/><rect x="924.7" y="380.0" width="20.0" height="1.6" fill="#8fb0b4"/><rect x="924.4" y="382.2" width="20.0" height="1.6" fill="#8fb0b4"/><rect x="924.0" y="384.4" width="20.0" height="1.6" fill="#8fb0b4"/><rect x="923.7" y="386.5" width="20.0" height="1.6" fill="#8fb0b4"/><rect x="923.3" y="388.7" width="20.0" height="1.6" fill="#8fb0b4"/><rect x="922.9" y="390.9" width="20.0" height="1.6" fill="#8fb0b4"/><rect x="922.5" y="393.0" width="20.0" height="1.6" fill="#8fb0b4"/><rect x="922.0" y="395.2" width="20.0" height="1.6" fill="#8fb0b4"/><rect x="921.6" y="397.4" width="20.0" height="1.6" fill="#8fb0b4"/><rect x="921.1" y="399.5" width="20.0" height="1.6" fill="#8fb0b4"/><rect x="920.7" y="401.6" width="20.0" height="1.6" fill="#8fb0b4"/><rect x="920.2" y="403.8" width="20.0" height="1.6" fill="#8fb0b4"/><rect x="919.7" y="405.9" width="20.0" height="1.6" fill="#8fb0b4"/><rect x="919.1" y="408.1" width="20.0" height="1.6" fill="#8fb0b4"/><rect x="918.6" y="410.2" width="20.0" height="1.6" fill="#8fb0b4"/><rect x="918.1" y="412.3" width="20.0" height="1.6" fill="#8fb0b4"/><rect x="917.5" y="414.5" width="20.0" height="1.6" fill="#8fb0b4"/><rect x="917.0" y="416.6" width="20.0" height="1.6" fill="#8fb0b4"/><rect x="916.4" y="418.7" width="20.0" height="1.6" fill="#8fb0b4"/><rect x="915.8" y="420.8" width="20.0" height="1.6" fill="#8fb0b4"/><rect x="915.2" y="423.0" width="20.0" height="1.6" fill="#8fb0b4"/><rect x="914.6" y="425.1" width="20.0" height="1.6" fill="#8fb0b4"/><rect x="914.0" y="427.2" width="20.0" height="1.6" fill="#8fb0b4"/><rect x="913.4" y="429.3" width="20.0" height="1.6" fill="#8fb0b4"/><rect x="912.8" y="431.4" width="20.0" height="1.6" fill="#8fb0b4"/><rect x="912.2" y="433.5" width="20.0" height="1.6" fill="#8fb0b4"/><rect x="911.5" y="435.6" width="20.0" height="1.6" fill="#8fb0b4"/><rect x="910.9" y="437.7" width="20.0" height="1.6" fill="#8fb0b4"/><rect x="910.2" y="439.8" width="20.0" height="1.6" fill="#8fb0b4"/><rect x="909.6" y="441.9" width="20.0" height="1.6" fill="#8fb0b4"/><rect x="908.9" y="444.0" width="20.0" height="1.6" fill="#8fb0b4"/><rect x="908.2" y="446.1" width="20.0" height="1.6" fill="#8fb0b4"/><rect x="907.5" y="448.2" width="20.0" height="1.6" fill="#8fb0b4"/><rect x="906.8" y="450.3" width="20.0" height="1.6" fill="#8fb0b4"/><rect x="906.1" y="452.4" width="20.0" height="1.6" fill="#8fb0b4"/><rect x="905.4" y="454.5" width="20.0" height="1.6" fill="#8fb0b4"/><rect x="904.7" y="456.5" width="20.0" height="1.6" fill="#8fb0b4"/><rect x="903.9" y="458.6" width="20.0" height="1.6" fill="#8fb0b4"/><rect x="903.2" y="460.7" width="20.0" height="1.6" fill="#8fb0b4"/><rect x="902.4" y="462.7" width="20.0" height="1.6" fill="#8fb0b4"/><rect x="901.6" y="464.8" width="20.0" height="1.6" fill="#8fb0b4"/><rect x="900.8" y="466.8" width="20.0" height="1.6" fill="#8fb0b4"/><rect x="900.0" y="468.9" width="20.0" height="1.6" fill="#8fb0b4"/><rect x="899.2" y="470.9" width="20.0" height="1.6" fill="#8fb0b4"/><rect x="898.4" y="473.0" width="20.0" height="1.6" fill="#8fb0b4"/><rect x="897.5" y="475.0" width="20.0" height="1.6" fill="#8fb0b4"/><rect x="896.6" y="477.0" width="20.0" height="1.6" fill="#8fb0b4"/><rect x="895.7" y="479.0" width="20.0" height="1.6" fill="#8fb0b4"/><rect x="894.8" y="481.0" width="20.0" height="1.6" fill="#8fb0b4"/><rect x="893.8" y="483.0" width="20.0" height="1.6" fill="#8fb0b4"/><rect x="892.9" y="485.0" width="20.0" height="1.6" fill="#8fb0b4"/><rect x="891.9" y="486.9" width="20.0" height="1.6" fill="#8fb0b4"/><rect x="890.9" y="488.9" width="20.0" height="1.6" fill="#8fb0b4"/><rect x="889.9" y="490.8" width="20.0" height="1.6" fill="#8fb0b4"/><rect x="888.8" y="492.8" width="20.0" height="1.6" fill="#8fb0b4"/><rect x="887.7" y="494.7" width="20.0" height="1.6" fill="#8fb0b4"/><rect x="886.6" y="496.6" width="20.0" height="1.6" fill="#8fb0b4"/><rect x="885.5" y="498.5" width="20.0" height="1.6" fill="#8fb0b4"/><rect x="884.3" y="500.4" width="20.0" height="1.6" fill="#8fb0b4"/><rect x="883.2" y="502.2" width="20.0" height="1.6" fill="#8fb0b4"/><rect x="882.0" y="504.1" width="20.0" height="1.6" fill="#8fb0b4"/><rect x="880.8" y="505.9" width="20.0" height="1.6" fill="#8fb0b4"/><rect x="879.5" y="507.7" width="20.0" height="1.6" fill="#8fb0b4"/><rect x="878.2" y="509.5" width="20.0" height="1.6" fill="#8fb0b4"/><rect x="876.9" y="511.3" width="20.0" height="1.6" fill="#8fb0b4"/><rect x="875.6" y="513.1" width="20.0" height="1.6" fill="#8fb0b4"/><rect x="874.3" y="514.8" width="20.0" height="1.6" fill="#8fb0b4"/><rect x="872.9" y="516.5" width="20.0" height="1.6" fill="#8fb0b4"/><rect x="871.6" y="518.2" width="20.0" height="1.6" fill="#8fb0b4"/><rect x="870.2" y="519.9" width="20.0" height="1.6" fill="#8fb0b4"/><rect x="868.8" y="521.6" width="20.0" height="1.6" fill="#8fb0b4"/><rect x="867.3" y="523.3" width="20.0" height="1.6" fill="#8fb0b4"/><rect x="865.9" y="524.9" width="20.0" height="1.6" fill="#8fb0b4"/><rect x="864.4" y="526.6" width="20.0" height="1.6" fill="#8fb0b4"/><rect x="862.9" y="528.2" width="20.0" height="1.6" fill="#8fb0b4"/><rect x="861.4" y="529.8" width="20.0" height="1.6" fill="#8fb0b4"/><rect x="859.9" y="531.4" width="20.0" height="1.6" fill="#8fb0b4"/><rect x="858.4" y="533.0" width="20.0" height="1.6" fill="#8fb0b4"/><rect x="856.8" y="534.6" width="20.0" height="1.6" fill="#8fb0b4"/><rect x="855.3" y="536.1" width="20.0" height="1.6" fill="#8fb0b4"/><rect x="853.7" y="537.7" width="20.0" height="1.6" fill="#8fb0b4"/><rect x="852.1" y="539.2" width="20.0" height="1.6" fill="#8fb0b4"/><rect x="850.5" y="540.7" width="20.0" height="1.6" fill="#8fb0b4"/><rect x="848.9" y="542.2" width="20.0" height="1.6" fill="#8fb0b4"/></g>
<g opacity="0.25" filter="url(#hblur)"><rect x="944.1" y="199.7" width="14.0" height="1.6" fill="#8fb0b4"/><rect x="946.2" y="200.2" width="14.0" height="1.6" fill="#8fb0b4"/><rect x="948.3" y="200.7" width="14.0" height="1.6" fill="#8fb0b4"/><rect x="950.5" y="201.2" width="14.0" height="1.6" fill="#8fb0b4"/><rect x="952.6" y="201.7" width="14.0" height="1.6" fill="#8fb0b4"/><rect x="954.8" y="202.2" width="14.0" height="1.6" fill="#8fb0b4"/><rect x="956.9" y="202.7" width="14.0" height="1.6" fill="#8fb0b4"/><rect x="959.1" y="203.2" width="14.0" height="1.6" fill="#8fb0b4"/><rect x="961.2" y="203.7" width="14.0" height="1.6" fill="#8fb0b4"/><rect x="963.3" y="204.2" width="14.0" height="1.6" fill="#8fb0b4"/><rect x="965.5" y="204.8" width="14.0" height="1.6" fill="#8fb0b4"/><rect x="967.6" y="205.3" width="14.0" height="1.6" fill="#8fb0b4"/><rect x="969.7" y="205.9" width="14.0" height="1.6" fill="#8fb0b4"/><rect x="971.8" y="206.5" width="14.0" height="1.6" fill="#8fb0b4"/><rect x="974.0" y="207.0" width="14.0" height="1.6" fill="#8fb0b4"/><rect x="976.1" y="207.6" width="14.0" height="1.6" fill="#8fb0b4"/><rect x="978.2" y="208.2" width="14.0" height="1.6" fill="#8fb0b4"/><rect x="980.3" y="208.8" width="14.0" height="1.6" fill="#8fb0b4"/><rect x="982.4" y="209.4" width="14.0" height="1.6" fill="#8fb0b4"/><rect x="984.5" y="210.1" width="14.0" height="1.6" fill="#8fb0b4"/><rect x="986.7" y="210.7" width="14.0" height="1.6" fill="#8fb0b4"/><rect x="988.8" y="211.3" width="14.0" height="1.6" fill="#8fb0b4"/><rect x="990.9" y="212.0" width="14.0" height="1.6" fill="#8fb0b4"/><rect x="992.9" y="212.7" width="14.0" height="1.6" fill="#8fb0b4"/><rect x="995.0" y="213.3" width="14.0" height="1.6" fill="#8fb0b4"/><rect x="997.1" y="214.0" width="14.0" height="1.6" fill="#8fb0b4"/><rect x="999.2" y="214.7" width="14.0" height="1.6" fill="#8fb0b4"/><rect x="1001.3" y="215.5" width="14.0" height="1.6" fill="#8fb0b4"/><rect x="1003.4" y="216.2" width="14.0" height="1.6" fill="#8fb0b4"/><rect x="1005.4" y="216.9" width="14.0" height="1.6" fill="#8fb0b4"/><rect x="1007.5" y="217.7" width="14.0" height="1.6" fill="#8fb0b4"/><rect x="1009.6" y="218.5" width="14.0" height="1.6" fill="#8fb0b4"/><rect x="1011.6" y="219.3" width="14.0" height="1.6" fill="#8fb0b4"/><rect x="1013.7" y="220.1" width="14.0" height="1.6" fill="#8fb0b4"/><rect x="1015.7" y="220.9" width="14.0" height="1.6" fill="#8fb0b4"/><rect x="1017.7" y="221.7" width="14.0" height="1.6" fill="#8fb0b4"/><rect x="1019.8" y="222.6" width="14.0" height="1.6" fill="#8fb0b4"/><rect x="1021.8" y="223.5" width="14.0" height="1.6" fill="#8fb0b4"/><rect x="1023.8" y="224.4" width="14.0" height="1.6" fill="#8fb0b4"/><rect x="1025.8" y="225.3" width="14.0" height="1.6" fill="#8fb0b4"/><rect x="1027.8" y="226.2" width="14.0" height="1.6" fill="#8fb0b4"/><rect x="1029.8" y="227.2" width="14.0" height="1.6" fill="#8fb0b4"/><rect x="1031.7" y="228.2" width="14.0" height="1.6" fill="#8fb0b4"/><rect x="1033.7" y="229.2" width="14.0" height="1.6" fill="#8fb0b4"/><rect x="1035.6" y="230.2" width="14.0" height="1.6" fill="#8fb0b4"/><rect x="1037.6" y="231.2" width="14.0" height="1.6" fill="#8fb0b4"/><rect x="1039.5" y="232.3" width="14.0" height="1.6" fill="#8fb0b4"/><rect x="1041.4" y="233.4" width="14.0" height="1.6" fill="#8fb0b4"/><rect x="1043.3" y="234.5" width="14.0" height="1.6" fill="#8fb0b4"/><rect x="1045.2" y="235.6" width="14.0" height="1.6" fill="#8fb0b4"/><rect x="1047.0" y="236.8" width="14.0" height="1.6" fill="#8fb0b4"/><rect x="1048.9" y="238.0" width="14.0" height="1.6" fill="#8fb0b4"/><rect x="1050.7" y="239.2" width="14.0" height="1.6" fill="#8fb0b4"/><rect x="1052.5" y="240.5" width="14.0" height="1.6" fill="#8fb0b4"/><rect x="1054.3" y="241.8" width="14.0" height="1.6" fill="#8fb0b4"/><rect x="1056.1" y="243.1" width="14.0" height="1.6" fill="#8fb0b4"/><rect x="1057.8" y="244.4" width="14.0" height="1.6" fill="#8fb0b4"/><rect x="1059.6" y="245.8" width="14.0" height="1.6" fill="#8fb0b4"/><rect x="1061.3" y="247.2" width="14.0" height="1.6" fill="#8fb0b4"/><rect x="1062.9" y="248.6" width="14.0" height="1.6" fill="#8fb0b4"/><rect x="1064.6" y="250.0" width="14.0" height="1.6" fill="#8fb0b4"/><rect x="1066.2" y="251.5" width="14.0" height="1.6" fill="#8fb0b4"/><rect x="1067.8" y="253.0" width="14.0" height="1.6" fill="#8fb0b4"/><rect x="1069.4" y="254.6" width="14.0" height="1.6" fill="#8fb0b4"/><rect x="1070.9" y="256.1" width="14.0" height="1.6" fill="#8fb0b4"/><rect x="1072.4" y="257.7" width="14.0" height="1.6" fill="#8fb0b4"/><rect x="1073.9" y="259.4" width="14.0" height="1.6" fill="#8fb0b4"/><rect x="1075.4" y="261.0" width="14.0" height="1.6" fill="#8fb0b4"/><rect x="1076.8" y="262.7" width="14.0" height="1.6" fill="#8fb0b4"/><rect x="1078.2" y="264.4" width="14.0" height="1.6" fill="#8fb0b4"/><rect x="1079.6" y="266.1" width="14.0" height="1.6" fill="#8fb0b4"/><rect x="1080.9" y="267.9" width="14.0" height="1.6" fill="#8fb0b4"/><rect x="1082.2" y="269.6" width="14.0" height="1.6" fill="#8fb0b4"/><rect x="1083.5" y="271.4" width="14.0" height="1.6" fill="#8fb0b4"/><rect x="1084.8" y="273.2" width="14.0" height="1.6" fill="#8fb0b4"/><rect x="1086.0" y="275.1" width="14.0" height="1.6" fill="#8fb0b4"/><rect x="1087.2" y="276.9" width="14.0" height="1.6" fill="#8fb0b4"/><rect x="1088.3" y="278.8" width="14.0" height="1.6" fill="#8fb0b4"/><rect x="1089.5" y="280.7" width="14.0" height="1.6" fill="#8fb0b4"/><rect x="1090.6" y="282.6" width="14.0" height="1.6" fill="#8fb0b4"/><rect x="1091.7" y="284.5" width="14.0" height="1.6" fill="#8fb0b4"/><rect x="1092.7" y="286.4" width="14.0" height="1.6" fill="#8fb0b4"/><rect x="1093.7" y="288.3" width="14.0" height="1.6" fill="#8fb0b4"/><rect x="1094.7" y="290.3" width="14.0" height="1.6" fill="#8fb0b4"/><rect x="1095.7" y="292.3" width="14.0" height="1.6" fill="#8fb0b4"/><rect x="1096.7" y="294.3" width="14.0" height="1.6" fill="#8fb0b4"/><rect x="1097.6" y="296.3" width="14.0" height="1.6" fill="#8fb0b4"/><rect x="1098.5" y="298.3" width="14.0" height="1.6" fill="#8fb0b4"/><rect x="1099.4" y="300.3" width="14.0" height="1.6" fill="#8fb0b4"/><rect x="1100.2" y="302.3" width="14.0" height="1.6" fill="#8fb0b4"/><rect x="1101.0" y="304.4" width="14.0" height="1.6" fill="#8fb0b4"/><rect x="1101.8" y="306.4" width="14.0" height="1.6" fill="#8fb0b4"/><rect x="1102.6" y="308.5" width="14.0" height="1.6" fill="#8fb0b4"/><rect x="1103.3" y="310.6" width="14.0" height="1.6" fill="#8fb0b4"/><rect x="1104.0" y="312.6" width="14.0" height="1.6" fill="#8fb0b4"/><rect x="1104.7" y="314.7" width="14.0" height="1.6" fill="#8fb0b4"/><rect x="1105.3" y="316.8" width="14.0" height="1.6" fill="#8fb0b4"/><rect x="1105.9" y="318.9" width="14.0" height="1.6" fill="#8fb0b4"/><rect x="1106.5" y="321.1" width="14.0" height="1.6" fill="#8fb0b4"/><rect x="1107.1" y="323.2" width="14.0" height="1.6" fill="#8fb0b4"/><rect x="1107.6" y="325.3" width="14.0" height="1.6" fill="#8fb0b4"/><rect x="1108.1" y="327.5" width="14.0" height="1.6" fill="#8fb0b4"/><rect x="1108.5" y="329.6" width="14.0" height="1.6" fill="#8fb0b4"/><rect x="1108.9" y="331.8" width="14.0" height="1.6" fill="#8fb0b4"/><rect x="1109.3" y="334.0" width="14.0" height="1.6" fill="#8fb0b4"/><rect x="1109.6" y="336.1" width="14.0" height="1.6" fill="#8fb0b4"/><rect x="1110.0" y="338.3" width="14.0" height="1.6" fill="#8fb0b4"/><rect x="1110.2" y="340.5" width="14.0" height="1.6" fill="#8fb0b4"/><rect x="1110.4" y="342.7" width="14.0" height="1.6" fill="#8fb0b4"/><rect x="1110.6" y="344.9" width="14.0" height="1.6" fill="#8fb0b4"/><rect x="1110.8" y="347.1" width="14.0" height="1.6" fill="#8fb0b4"/><rect x="1110.9" y="349.3" width="14.0" height="1.6" fill="#8fb0b4"/><rect x="1110.9" y="351.5" width="14.0" height="1.6" fill="#8fb0b4"/><rect x="1111.0" y="353.7" width="14.0" height="1.6" fill="#8fb0b4"/><rect x="1110.9" y="355.9" width="14.0" height="1.6" fill="#8fb0b4"/><rect x="1110.9" y="358.1" width="14.0" height="1.6" fill="#8fb0b4"/><rect x="1110.8" y="360.3" width="14.0" height="1.6" fill="#8fb0b4"/><rect x="1110.6" y="362.5" width="14.0" height="1.6" fill="#8fb0b4"/><rect x="1110.4" y="364.7" width="14.0" height="1.6" fill="#8fb0b4"/><rect x="1110.2" y="366.8" width="14.0" height="1.6" fill="#8fb0b4"/><rect x="1109.9" y="369.0" width="14.0" height="1.6" fill="#8fb0b4"/><rect x="1109.6" y="371.2" width="14.0" height="1.6" fill="#8fb0b4"/><rect x="1109.3" y="373.4" width="14.0" height="1.6" fill="#8fb0b4"/><rect x="1108.9" y="375.5" width="14.0" height="1.6" fill="#8fb0b4"/><rect x="1108.5" y="377.7" width="14.0" height="1.6" fill="#8fb0b4"/><rect x="1108.0" y="379.9" width="14.0" height="1.6" fill="#8fb0b4"/><rect x="1107.5" y="382.0" width="14.0" height="1.6" fill="#8fb0b4"/><rect x="1106.9" y="384.1" width="14.0" height="1.6" fill="#8fb0b4"/><rect x="1106.4" y="386.2" width="14.0" height="1.6" fill="#8fb0b4"/><rect x="1105.7" y="388.4" width="14.0" height="1.6" fill="#8fb0b4"/><rect x="1105.1" y="390.5" width="14.0" height="1.6" fill="#8fb0b4"/><rect x="1104.4" y="392.6" width="14.0" height="1.6" fill="#8fb0b4"/><rect x="1103.7" y="394.6" width="14.0" height="1.6" fill="#8fb0b4"/><rect x="1103.0" y="396.7" width="14.0" height="1.6" fill="#8fb0b4"/><rect x="1102.2" y="398.8" width="14.0" height="1.6" fill="#8fb0b4"/><rect x="1101.4" y="400.8" width="14.0" height="1.6" fill="#8fb0b4"/><rect x="1100.6" y="402.9" width="14.0" height="1.6" fill="#8fb0b4"/><rect x="1099.7" y="404.9" width="14.0" height="1.6" fill="#8fb0b4"/><rect x="1098.8" y="406.9" width="14.0" height="1.6" fill="#8fb0b4"/><rect x="1097.9" y="408.9" width="14.0" height="1.6" fill="#8fb0b4"/><rect x="1097.0" y="410.9" width="14.0" height="1.6" fill="#8fb0b4"/><rect x="1096.0" y="412.9" width="14.0" height="1.6" fill="#8fb0b4"/><rect x="1095.1" y="414.8" width="14.0" height="1.6" fill="#8fb0b4"/><rect x="1094.1" y="416.8" width="14.0" height="1.6" fill="#8fb0b4"/><rect x="1093.0" y="418.8" width="14.0" height="1.6" fill="#8fb0b4"/><rect x="1092.0" y="420.7" width="14.0" height="1.6" fill="#8fb0b4"/><rect x="1090.9" y="422.6" width="14.0" height="1.6" fill="#8fb0b4"/><rect x="1089.9" y="424.5" width="14.0" height="1.6" fill="#8fb0b4"/><rect x="1088.8" y="426.4" width="14.0" height="1.6" fill="#8fb0b4"/><rect x="1087.6" y="428.3" width="14.0" height="1.6" fill="#8fb0b4"/><rect x="1086.5" y="430.2" width="14.0" height="1.6" fill="#8fb0b4"/><rect x="1085.4" y="432.1" width="14.0" height="1.6" fill="#8fb0b4"/><rect x="1084.2" y="434.0" width="14.0" height="1.6" fill="#8fb0b4"/><rect x="1083.0" y="435.8" width="14.0" height="1.6" fill="#8fb0b4"/><rect x="1081.8" y="437.7" width="14.0" height="1.6" fill="#8fb0b4"/><rect x="1080.6" y="439.5" width="14.0" height="1.6" fill="#8fb0b4"/><rect x="1079.4" y="441.3" width="14.0" height="1.6" fill="#8fb0b4"/><rect x="1078.1" y="443.1" width="14.0" height="1.6" fill="#8fb0b4"/><rect x="1076.8" y="444.9" width="14.0" height="1.6" fill="#8fb0b4"/><rect x="1075.6" y="446.7" width="14.0" height="1.6" fill="#8fb0b4"/><rect x="1074.3" y="448.5" width="14.0" height="1.6" fill="#8fb0b4"/><rect x="1073.0" y="450.3" width="14.0" height="1.6" fill="#8fb0b4"/><rect x="1071.7" y="452.0" width="14.0" height="1.6" fill="#8fb0b4"/><rect x="1070.3" y="453.8" width="14.0" height="1.6" fill="#8fb0b4"/><rect x="1069.0" y="455.5" width="14.0" height="1.6" fill="#8fb0b4"/><rect x="1067.6" y="457.3" width="14.0" height="1.6" fill="#8fb0b4"/><rect x="1066.3" y="459.0" width="14.0" height="1.6" fill="#8fb0b4"/><rect x="1064.9" y="460.7" width="14.0" height="1.6" fill="#8fb0b4"/><rect x="1063.5" y="462.4" width="14.0" height="1.6" fill="#8fb0b4"/><rect x="1062.1" y="464.1" width="14.0" height="1.6" fill="#8fb0b4"/><rect x="1060.6" y="465.8" width="14.0" height="1.6" fill="#8fb0b4"/><rect x="1059.2" y="467.4" width="14.0" height="1.6" fill="#8fb0b4"/><rect x="1057.8" y="469.1" width="14.0" height="1.6" fill="#8fb0b4"/><rect x="1056.3" y="470.7" width="14.0" height="1.6" fill="#8fb0b4"/><rect x="1054.8" y="472.4" width="14.0" height="1.6" fill="#8fb0b4"/><rect x="1053.3" y="474.0" width="14.0" height="1.6" fill="#8fb0b4"/><rect x="1051.8" y="475.6" width="14.0" height="1.6" fill="#8fb0b4"/><rect x="1050.3" y="477.2" width="14.0" height="1.6" fill="#8fb0b4"/><rect x="1048.8" y="478.8" width="14.0" height="1.6" fill="#8fb0b4"/><rect x="1047.3" y="480.4" width="14.0" height="1.6" fill="#8fb0b4"/><rect x="1045.7" y="481.9" width="14.0" height="1.6" fill="#8fb0b4"/><rect x="1044.2" y="483.5" width="14.0" height="1.6" fill="#8fb0b4"/><rect x="1042.6" y="485.0" width="14.0" height="1.6" fill="#8fb0b4"/><rect x="1041.0" y="486.6" width="14.0" height="1.6" fill="#8fb0b4"/><rect x="1039.4" y="488.1" width="14.0" height="1.6" fill="#8fb0b4"/><rect x="1037.8" y="489.6" width="14.0" height="1.6" fill="#8fb0b4"/><rect x="1036.2" y="491.1" width="14.0" height="1.6" fill="#8fb0b4"/><rect x="1034.6" y="492.5" width="14.0" height="1.6" fill="#8fb0b4"/><rect x="1032.9" y="494.0" width="14.0" height="1.6" fill="#8fb0b4"/><rect x="1031.3" y="495.5" width="14.0" height="1.6" fill="#8fb0b4"/><rect x="1029.6" y="496.9" width="14.0" height="1.6" fill="#8fb0b4"/><rect x="1027.9" y="498.3" width="14.0" height="1.6" fill="#8fb0b4"/><rect x="1026.2" y="499.7" width="14.0" height="1.6" fill="#8fb0b4"/><rect x="1024.5" y="501.1" width="14.0" height="1.6" fill="#8fb0b4"/><rect x="1022.8" y="502.5" width="14.0" height="1.6" fill="#8fb0b4"/><rect x="1021.1" y="503.9" width="14.0" height="1.6" fill="#8fb0b4"/><rect x="1019.4" y="505.2" width="14.0" height="1.6" fill="#8fb0b4"/><rect x="1017.6" y="506.6" width="14.0" height="1.6" fill="#8fb0b4"/><rect x="1015.9" y="507.9" width="14.0" height="1.6" fill="#8fb0b4"/><rect x="1014.1" y="509.2" width="14.0" height="1.6" fill="#8fb0b4"/><rect x="1012.4" y="510.5" width="14.0" height="1.6" fill="#8fb0b4"/><rect x="1010.6" y="511.8" width="14.0" height="1.6" fill="#8fb0b4"/><rect x="1008.8" y="513.1" width="14.0" height="1.6" fill="#8fb0b4"/><rect x="1007.0" y="514.4" width="14.0" height="1.6" fill="#8fb0b4"/><rect x="1005.2" y="515.6" width="14.0" height="1.6" fill="#8fb0b4"/><rect x="1003.4" y="516.9" width="14.0" height="1.6" fill="#8fb0b4"/><rect x="1001.5" y="518.1" width="14.0" height="1.6" fill="#8fb0b4"/><rect x="999.7" y="519.3" width="14.0" height="1.6" fill="#8fb0b4"/><rect x="997.9" y="520.5" width="14.0" height="1.6" fill="#8fb0b4"/><rect x="996.0" y="521.7" width="14.0" height="1.6" fill="#8fb0b4"/><rect x="994.2" y="522.9" width="14.0" height="1.6" fill="#8fb0b4"/><rect x="992.3" y="524.1" width="14.0" height="1.6" fill="#8fb0b4"/><rect x="990.4" y="525.2" width="14.0" height="1.6" fill="#8fb0b4"/><rect x="988.5" y="526.4" width="14.0" height="1.6" fill="#8fb0b4"/><rect x="986.7" y="527.5" width="14.0" height="1.6" fill="#8fb0b4"/><rect x="984.8" y="528.6" width="14.0" height="1.6" fill="#8fb0b4"/><rect x="982.9" y="529.7" width="14.0" height="1.6" fill="#8fb0b4"/><rect x="981.0" y="530.8" width="14.0" height="1.6" fill="#8fb0b4"/><rect x="979.0" y="531.9" width="14.0" height="1.6" fill="#8fb0b4"/><rect x="977.1" y="533.0" width="14.0" height="1.6" fill="#8fb0b4"/><rect x="975.2" y="534.0" width="14.0" height="1.6" fill="#8fb0b4"/><rect x="973.3" y="535.1" width="14.0" height="1.6" fill="#8fb0b4"/><rect x="971.3" y="536.1" width="14.0" height="1.6" fill="#8fb0b4"/><rect x="969.4" y="537.2" width="14.0" height="1.6" fill="#8fb0b4"/><rect x="967.4" y="538.2" width="14.0" height="1.6" fill="#8fb0b4"/><rect x="965.5" y="539.2" width="14.0" height="1.6" fill="#8fb0b4"/><rect x="963.5" y="540.2" width="14.0" height="1.6" fill="#8fb0b4"/><rect x="961.6" y="541.2" width="14.0" height="1.6" fill="#8fb0b4"/><rect x="959.6" y="542.2" width="14.0" height="1.6" fill="#8fb0b4"/><rect x="957.6" y="543.1" width="14.0" height="1.6" fill="#8fb0b4"/></g>
<g opacity="0.30" filter="url(#hblur)"><rect x="833.7" y="196.1" width="12.0" height="1.6" fill="#8fb0b4"/><rect x="835.8" y="196.8" width="12.0" height="1.6" fill="#8fb0b4"/><rect x="837.9" y="197.5" width="12.0" height="1.6" fill="#8fb0b4"/><rect x="840.0" y="198.3" width="12.0" height="1.6" fill="#8fb0b4"/><rect x="842.0" y="199.0" width="12.0" height="1.6" fill="#8fb0b4"/><rect x="844.1" y="199.8" width="12.0" height="1.6" fill="#8fb0b4"/><rect x="846.2" y="200.5" width="12.0" height="1.6" fill="#8fb0b4"/><rect x="848.2" y="201.3" width="12.0" height="1.6" fill="#8fb0b4"/><rect x="850.2" y="202.2" width="12.0" height="1.6" fill="#8fb0b4"/><rect x="852.3" y="203.0" width="12.0" height="1.6" fill="#8fb0b4"/><rect x="854.3" y="203.9" width="12.0" height="1.6" fill="#8fb0b4"/><rect x="856.3" y="204.8" width="12.0" height="1.6" fill="#8fb0b4"/><rect x="858.3" y="205.7" width="12.0" height="1.6" fill="#8fb0b4"/><rect x="860.3" y="206.6" width="12.0" height="1.6" fill="#8fb0b4"/><rect x="862.3" y="207.6" width="12.0" height="1.6" fill="#8fb0b4"/><rect x="864.2" y="208.6" width="12.0" height="1.6" fill="#8fb0b4"/><rect x="866.2" y="209.6" width="12.0" height="1.6" fill="#8fb0b4"/><rect x="868.1" y="210.7" width="12.0" height="1.6" fill="#8fb0b4"/><rect x="870.0" y="211.8" width="12.0" height="1.6" fill="#8fb0b4"/><rect x="871.9" y="212.9" width="12.0" height="1.6" fill="#8fb0b4"/><rect x="873.8" y="214.0" width="12.0" height="1.6" fill="#8fb0b4"/><rect x="875.6" y="215.2" width="12.0" height="1.6" fill="#8fb0b4"/><rect x="877.4" y="216.5" width="12.0" height="1.6" fill="#8fb0b4"/><rect x="879.2" y="217.7" width="12.0" height="1.6" fill="#8fb0b4"/><rect x="881.0" y="219.1" width="12.0" height="1.6" fill="#8fb0b4"/><rect x="882.7" y="220.4" width="12.0" height="1.6" fill="#8fb0b4"/><rect x="884.4" y="221.8" width="12.0" height="1.6" fill="#8fb0b4"/><rect x="886.1" y="223.2" width="12.0" height="1.6" fill="#8fb0b4"/><rect x="887.7" y="224.7" width="12.0" height="1.6" fill="#8fb0b4"/><rect x="889.3" y="226.3" width="12.0" height="1.6" fill="#8fb0b4"/><rect x="890.9" y="227.8" width="12.0" height="1.6" fill="#8fb0b4"/><rect x="892.4" y="229.4" width="12.0" height="1.6" fill="#8fb0b4"/><rect x="893.8" y="231.1" width="12.0" height="1.6" fill="#8fb0b4"/><rect x="895.2" y="232.8" width="12.0" height="1.6" fill="#8fb0b4"/><rect x="896.6" y="234.5" width="12.0" height="1.6" fill="#8fb0b4"/><rect x="897.9" y="236.3" width="12.0" height="1.6" fill="#8fb0b4"/><rect x="899.2" y="238.1" width="12.0" height="1.6" fill="#8fb0b4"/><rect x="900.4" y="239.9" width="12.0" height="1.6" fill="#8fb0b4"/><rect x="901.6" y="241.7" width="12.0" height="1.6" fill="#8fb0b4"/><rect x="902.7" y="243.6" width="12.0" height="1.6" fill="#8fb0b4"/><rect x="903.8" y="245.6" width="12.0" height="1.6" fill="#8fb0b4"/><rect x="904.8" y="247.5" width="12.0" height="1.6" fill="#8fb0b4"/><rect x="905.8" y="249.4" width="12.0" height="1.6" fill="#8fb0b4"/><rect x="906.8" y="251.4" width="12.0" height="1.6" fill="#8fb0b4"/><rect x="907.7" y="253.4" width="12.0" height="1.6" fill="#8fb0b4"/><rect x="908.6" y="255.4" width="12.0" height="1.6" fill="#8fb0b4"/><rect x="909.5" y="257.5" width="12.0" height="1.6" fill="#8fb0b4"/><rect x="910.3" y="259.5" width="12.0" height="1.6" fill="#8fb0b4"/><rect x="911.1" y="261.5" width="12.0" height="1.6" fill="#8fb0b4"/><rect x="911.9" y="263.6" width="12.0" height="1.6" fill="#8fb0b4"/><rect x="912.7" y="265.6" width="12.0" height="1.6" fill="#8fb0b4"/><rect x="913.4" y="267.7" width="12.0" height="1.6" fill="#8fb0b4"/><rect x="914.2" y="269.8" width="12.0" height="1.6" fill="#8fb0b4"/><rect x="914.9" y="271.9" width="12.0" height="1.6" fill="#8fb0b4"/><rect x="915.6" y="274.0" width="12.0" height="1.6" fill="#8fb0b4"/><rect x="916.2" y="276.1" width="12.0" height="1.6" fill="#8fb0b4"/><rect x="916.9" y="278.1" width="12.0" height="1.6" fill="#8fb0b4"/><rect x="917.6" y="280.2" width="12.0" height="1.6" fill="#8fb0b4"/><rect x="918.2" y="282.3" width="12.0" height="1.6" fill="#8fb0b4"/><rect x="918.9" y="284.5" width="12.0" height="1.6" fill="#8fb0b4"/><rect x="919.5" y="286.6" width="12.0" height="1.6" fill="#8fb0b4"/></g>
<ellipse cx="935" cy="352" rx="60" ry="10" fill="#b8d0d0" opacity="0.5" filter="url(#blur9)"/>
<ellipse cx="1116" cy="352" rx="50" ry="10" fill="#b8d0d0" opacity="0.4" filter="url(#blur9)"/>
<line x1="838.1" y1="68.2" x2="841.0" y2="69.0" stroke="#0e0f16" stroke-width="1.6" stroke-linecap="round"/>
<line x1="841.0" y1="69.0" x2="843.8" y2="69.8" stroke="#0e0f16" stroke-width="1.6" stroke-linecap="round"/>
<line x1="843.8" y1="69.8" x2="846.7" y2="70.7" stroke="#0e0f16" stroke-width="1.7" stroke-linecap="round"/>
<line x1="846.7" y1="70.7" x2="849.6" y2="71.6" stroke="#0e0f16" stroke-width="1.7" stroke-linecap="round"/>
<line x1="849.6" y1="71.6" x2="852.4" y2="72.5" stroke="#0e0f16" stroke-width="1.7" stroke-linecap="round"/>
<line x1="852.4" y1="72.5" x2="855.3" y2="73.5" stroke="#0e0f16" stroke-width="1.7" stroke-linecap="round"/>
<line x1="855.3" y1="73.5" x2="858.1" y2="74.5" stroke="#0e0f16" stroke-width="1.8" stroke-linecap="round"/>
<line x1="858.1" y1="74.5" x2="860.9" y2="75.6" stroke="#0e0f16" stroke-width="1.8" stroke-linecap="round"/>
<line x1="860.9" y1="75.6" x2="863.7" y2="76.7" stroke="#0e0f16" stroke-width="1.8" stroke-linecap="round"/>
<line x1="863.7" y1="76.7" x2="866.4" y2="77.9" stroke="#0e0f16" stroke-width="1.9" stroke-linecap="round"/>
<line x1="866.4" y1="77.9" x2="869.1" y2="79.2" stroke="#0e0f16" stroke-width="1.9" stroke-linecap="round"/>
<line x1="869.1" y1="79.2" x2="871.8" y2="80.5" stroke="#0e0f16" stroke-width="1.9" stroke-linecap="round"/>
<line x1="871.8" y1="80.5" x2="874.5" y2="81.9" stroke="#0e0f16" stroke-width="1.9" stroke-linecap="round"/>
<line x1="874.5" y1="81.9" x2="877.1" y2="83.4" stroke="#0e0f16" stroke-width="2.0" stroke-linecap="round"/>
<line x1="877.1" y1="83.4" x2="879.6" y2="84.9" stroke="#0e0f16" stroke-width="2.0" stroke-linecap="round"/>
<line x1="879.6" y1="84.9" x2="882.1" y2="86.6" stroke="#0e0f16" stroke-width="2.0" stroke-linecap="round"/>
<line x1="882.1" y1="86.6" x2="884.6" y2="88.4" stroke="#0e0f16" stroke-width="2.1" stroke-linecap="round"/>
<line x1="884.6" y1="88.4" x2="886.9" y2="90.2" stroke="#0e0f16" stroke-width="2.1" stroke-linecap="round"/>
<line x1="886.9" y1="90.2" x2="889.2" y2="92.2" stroke="#0e0f16" stroke-width="2.1" stroke-linecap="round"/>
<line x1="889.2" y1="92.2" x2="891.4" y2="94.2" stroke="#0e0f16" stroke-width="2.2" stroke-linecap="round"/>
<line x1="891.4" y1="94.2" x2="893.5" y2="96.4" stroke="#0e0f16" stroke-width="2.2" stroke-linecap="round"/>
<line x1="893.5" y1="96.4" x2="895.5" y2="98.6" stroke="#0e0f16" stroke-width="2.2" stroke-linecap="round"/>
<line x1="895.5" y1="98.6" x2="897.4" y2="100.9" stroke="#0e0f16" stroke-width="2.2" stroke-linecap="round"/>
<line x1="897.4" y1="100.9" x2="899.2" y2="103.3" stroke="#0e0f16" stroke-width="2.3" stroke-linecap="round"/>
<line x1="899.2" y1="103.3" x2="901.0" y2="105.7" stroke="#0e0f16" stroke-width="2.3" stroke-linecap="round"/>
<line x1="901.0" y1="105.7" x2="902.7" y2="108.2" stroke="#0e0f16" stroke-width="2.3" stroke-linecap="round"/>
<line x1="902.7" y1="108.2" x2="904.3" y2="110.7" stroke="#0e0f16" stroke-width="2.4" stroke-linecap="round"/>
<line x1="904.3" y1="110.7" x2="905.9" y2="113.3" stroke="#0e0f16" stroke-width="2.4" stroke-linecap="round"/>
<line x1="905.9" y1="113.3" x2="907.5" y2="115.8" stroke="#0e0f16" stroke-width="2.4" stroke-linecap="round"/>
<line x1="907.5" y1="115.8" x2="909.1" y2="118.4" stroke="#0e0f16" stroke-width="2.4" stroke-linecap="round"/>
<line x1="909.1" y1="118.4" x2="910.6" y2="121.0" stroke="#0e0f16" stroke-width="2.5" stroke-linecap="round"/>
<line x1="910.6" y1="121.0" x2="912.1" y2="123.6" stroke="#0e0f16" stroke-width="2.5" stroke-linecap="round"/>
<line x1="912.1" y1="123.6" x2="913.6" y2="126.2" stroke="#0e0f16" stroke-width="2.5" stroke-linecap="round"/>
<line x1="913.6" y1="126.2" x2="915.0" y2="128.8" stroke="#0e0f16" stroke-width="2.6" stroke-linecap="round"/>
<line x1="915.0" y1="128.8" x2="916.5" y2="131.4" stroke="#0e0f16" stroke-width="2.6" stroke-linecap="round"/>
<line x1="916.5" y1="131.4" x2="917.9" y2="134.1" stroke="#0e0f16" stroke-width="2.6" stroke-linecap="round"/>
<line x1="917.9" y1="134.1" x2="919.2" y2="136.7" stroke="#0e0f16" stroke-width="2.6" stroke-linecap="round"/>
<line x1="919.2" y1="136.7" x2="920.6" y2="139.4" stroke="#0e0f16" stroke-width="2.7" stroke-linecap="round"/>
<line x1="920.6" y1="139.4" x2="921.9" y2="142.1" stroke="#0e0f16" stroke-width="2.7" stroke-linecap="round"/>
<line x1="921.9" y1="142.1" x2="923.1" y2="144.9" stroke="#0e0f16" stroke-width="2.7" stroke-linecap="round"/>
<line x1="923.1" y1="144.9" x2="924.2" y2="147.7" stroke="#0e0f16" stroke-width="2.8" stroke-linecap="round"/>
<line x1="924.2" y1="147.7" x2="925.3" y2="150.5" stroke="#0e0f16" stroke-width="2.8" stroke-linecap="round"/>
<line x1="925.3" y1="150.5" x2="926.2" y2="153.3" stroke="#0e0f16" stroke-width="2.8" stroke-linecap="round"/>
<line x1="926.2" y1="153.3" x2="927.1" y2="156.2" stroke="#0e0f16" stroke-width="2.9" stroke-linecap="round"/>
<line x1="927.1" y1="156.2" x2="927.8" y2="159.1" stroke="#0e0f16" stroke-width="2.9" stroke-linecap="round"/>
<line x1="927.8" y1="159.1" x2="928.5" y2="162.0" stroke="#0e0f16" stroke-width="2.9" stroke-linecap="round"/>
<line x1="928.5" y1="162.0" x2="929.0" y2="165.0" stroke="#0e0f16" stroke-width="2.9" stroke-linecap="round"/>
<line x1="929.0" y1="165.0" x2="929.4" y2="167.9" stroke="#0e0f16" stroke-width="3.0" stroke-linecap="round"/>
<line x1="929.4" y1="167.9" x2="929.8" y2="170.9" stroke="#0e0f16" stroke-width="3.0" stroke-linecap="round"/>
<line x1="929.8" y1="170.9" x2="930.1" y2="173.9" stroke="#0e0f16" stroke-width="3.0" stroke-linecap="round"/>
<line x1="930.1" y1="173.9" x2="930.5" y2="176.9" stroke="#0e0f16" stroke-width="3.1" stroke-linecap="round"/>
<line x1="930.5" y1="176.9" x2="930.8" y2="179.9" stroke="#0e0f16" stroke-width="3.1" stroke-linecap="round"/>
<line x1="930.8" y1="179.9" x2="931.3" y2="182.8" stroke="#0e0f16" stroke-width="3.1" stroke-linecap="round"/>
<line x1="931.3" y1="182.8" x2="931.9" y2="185.8" stroke="#0e0f16" stroke-width="3.1" stroke-linecap="round"/>
<line x1="931.9" y1="185.8" x2="932.7" y2="188.6" stroke="#0e0f16" stroke-width="3.2" stroke-linecap="round"/>
<ellipse cx="878.8" cy="84.4" rx="1.6" ry="1.4" fill="#0e0f16"/>
<ellipse cx="890.7" cy="93.6" rx="1.8" ry="1.6" fill="#0e0f16"/>
<ellipse cx="898.6" cy="102.5" rx="2.0" ry="1.8" fill="#0e0f16"/>
<ellipse cx="904.9" cy="111.6" rx="2.2" ry="2.0" fill="#0e0f16"/>
<ellipse cx="910.1" cy="120.1" rx="2.4" ry="2.2" fill="#0e0f16"/>
<ellipse cx="915.0" cy="128.8" rx="2.6" ry="2.4" fill="#0e0f16"/>
<ellipse cx="919.7" cy="137.6" rx="2.8" ry="2.5" fill="#0e0f16"/>
<ellipse cx="923.8" cy="146.7" rx="3.0" ry="2.7" fill="#0e0f16"/>
<ellipse cx="927.1" cy="156.2" rx="3.2" ry="2.9" fill="#0e0f16"/>
<ellipse cx="929.0" cy="165.0" rx="3.4" ry="3.1" fill="#0e0f16"/>
<ellipse cx="930.1" cy="173.9" rx="3.6" ry="3.2" fill="#0e0f16"/>
<ellipse cx="931.3" cy="182.8" rx="3.8" ry="3.2" fill="#0e0f16"/>
<line x1="951.9" y1="71.9" x2="954.9" y2="72.5" stroke="#0e0f16" stroke-width="1.6" stroke-linecap="round"/>
<line x1="954.9" y1="72.5" x2="957.8" y2="73.1" stroke="#0e0f16" stroke-width="1.6" stroke-linecap="round"/>
<line x1="957.8" y1="73.1" x2="960.8" y2="73.7" stroke="#0e0f16" stroke-width="1.6" stroke-linecap="round"/>
<line x1="960.8" y1="73.7" x2="963.7" y2="74.3" stroke="#0e0f16" stroke-width="1.7" stroke-linecap="round"/>
<line x1="963.7" y1="74.3" x2="966.6" y2="75.0" stroke="#0e0f16" stroke-width="1.7" stroke-linecap="round"/>
<line x1="966.6" y1="75.0" x2="969.6" y2="75.6" stroke="#0e0f16" stroke-width="1.7" stroke-linecap="round"/>
<line x1="969.6" y1="75.6" x2="972.5" y2="76.3" stroke="#0e0f16" stroke-width="1.7" stroke-linecap="round"/>
<line x1="972.5" y1="76.3" x2="975.4" y2="77.0" stroke="#0e0f16" stroke-width="1.7" stroke-linecap="round"/>
<line x1="975.4" y1="77.0" x2="978.3" y2="77.7" stroke="#0e0f16" stroke-width="1.7" stroke-linecap="round"/>
<line x1="978.3" y1="77.7" x2="981.2" y2="78.5" stroke="#0e0f16" stroke-width="1.8" stroke-linecap="round"/>
<line x1="981.2" y1="78.5" x2="984.1" y2="79.2" stroke="#0e0f16" stroke-width="1.8" stroke-linecap="round"/>
<line x1="984.1" y1="79.2" x2="987.0" y2="80.0" stroke="#0e0f16" stroke-width="1.8" stroke-linecap="round"/>
<line x1="987.0" y1="80.0" x2="989.9" y2="80.8" stroke="#0e0f16" stroke-width="1.8" stroke-linecap="round"/>
<line x1="989.9" y1="80.8" x2="992.8" y2="81.7" stroke="#0e0f16" stroke-width="1.8" stroke-linecap="round"/>
<line x1="992.8" y1="81.7" x2="995.7" y2="82.5" stroke="#0e0f16" stroke-width="1.8" stroke-linecap="round"/>
<line x1="995.7" y1="82.5" x2="998.5" y2="83.4" stroke="#0e0f16" stroke-width="1.9" stroke-linecap="round"/>
<line x1="998.5" y1="83.4" x2="1001.4" y2="84.3" stroke="#0e0f16" stroke-width="1.9" stroke-linecap="round"/>
<line x1="1001.4" y1="84.3" x2="1004.2" y2="85.3" stroke="#0e0f16" stroke-width="1.9" stroke-linecap="round"/>
<line x1="1004.2" y1="85.3" x2="1007.1" y2="86.3" stroke="#0e0f16" stroke-width="1.9" stroke-linecap="round"/>
<line x1="1007.1" y1="86.3" x2="1009.9" y2="87.3" stroke="#0e0f16" stroke-width="1.9" stroke-linecap="round"/>
<line x1="1009.9" y1="87.3" x2="1012.7" y2="88.3" stroke="#0e0f16" stroke-width="1.9" stroke-linecap="round"/>
<line x1="1012.7" y1="88.3" x2="1015.5" y2="89.4" stroke="#0e0f16" stroke-width="2.0" stroke-linecap="round"/>
<line x1="1015.5" y1="89.4" x2="1018.3" y2="90.6" stroke="#0e0f16" stroke-width="2.0" stroke-linecap="round"/>
<line x1="1018.3" y1="90.6" x2="1021.0" y2="91.7" stroke="#0e0f16" stroke-width="2.0" stroke-linecap="round"/>
<line x1="1021.0" y1="91.7" x2="1023.8" y2="93.0" stroke="#0e0f16" stroke-width="2.0" stroke-linecap="round"/>
<line x1="1023.8" y1="93.0" x2="1026.5" y2="94.2" stroke="#0e0f16" stroke-width="2.0" stroke-linecap="round"/>
<line x1="1026.5" y1="94.2" x2="1029.2" y2="95.5" stroke="#0e0f16" stroke-width="2.0" stroke-linecap="round"/>
<line x1="1029.2" y1="95.5" x2="1031.9" y2="96.9" stroke="#0e0f16" stroke-width="2.1" stroke-linecap="round"/>
<line x1="1031.9" y1="96.9" x2="1034.5" y2="98.3" stroke="#0e0f16" stroke-width="2.1" stroke-linecap="round"/>
<line x1="1034.5" y1="98.3" x2="1037.2" y2="99.7" stroke="#0e0f16" stroke-width="2.1" stroke-linecap="round"/>
<line x1="1037.2" y1="99.7" x2="1039.8" y2="101.2" stroke="#0e0f16" stroke-width="2.1" stroke-linecap="round"/>
<line x1="1039.8" y1="101.2" x2="1042.3" y2="102.7" stroke="#0e0f16" stroke-width="2.1" stroke-linecap="round"/>
<line x1="1042.3" y1="102.7" x2="1044.9" y2="104.3" stroke="#0e0f16" stroke-width="2.1" stroke-linecap="round"/>
<line x1="1044.9" y1="104.3" x2="1047.4" y2="105.9" stroke="#0e0f16" stroke-width="2.2" stroke-linecap="round"/>
<line x1="1047.4" y1="105.9" x2="1049.9" y2="107.6" stroke="#0e0f16" stroke-width="2.2" stroke-linecap="round"/>
<line x1="1049.9" y1="107.6" x2="1052.4" y2="109.3" stroke="#0e0f16" stroke-width="2.2" stroke-linecap="round"/>
<line x1="1052.4" y1="109.3" x2="1054.8" y2="111.1" stroke="#0e0f16" stroke-width="2.2" stroke-linecap="round"/>
<line x1="1054.8" y1="111.1" x2="1057.2" y2="112.9" stroke="#0e0f16" stroke-width="2.2" stroke-linecap="round"/>
<line x1="1057.2" y1="112.9" x2="1059.6" y2="114.7" stroke="#0e0f16" stroke-width="2.3" stroke-linecap="round"/>
<line x1="1059.6" y1="114.7" x2="1061.9" y2="116.6" stroke="#0e0f16" stroke-width="2.3" stroke-linecap="round"/>
<line x1="1061.9" y1="116.6" x2="1064.2" y2="118.5" stroke="#0e0f16" stroke-width="2.3" stroke-linecap="round"/>
<line x1="1064.2" y1="118.5" x2="1066.5" y2="120.4" stroke="#0e0f16" stroke-width="2.3" stroke-linecap="round"/>
<line x1="1066.5" y1="120.4" x2="1068.8" y2="122.4" stroke="#0e0f16" stroke-width="2.3" stroke-linecap="round"/>
<line x1="1068.8" y1="122.4" x2="1071.0" y2="124.4" stroke="#0e0f16" stroke-width="2.3" stroke-linecap="round"/>
<line x1="1071.0" y1="124.4" x2="1073.2" y2="126.4" stroke="#0e0f16" stroke-width="2.4" stroke-linecap="round"/>
<line x1="1073.2" y1="126.4" x2="1075.4" y2="128.5" stroke="#0e0f16" stroke-width="2.4" stroke-linecap="round"/>
<line x1="1075.4" y1="128.5" x2="1077.6" y2="130.6" stroke="#0e0f16" stroke-width="2.4" stroke-linecap="round"/>
<line x1="1077.6" y1="130.6" x2="1079.7" y2="132.7" stroke="#0e0f16" stroke-width="2.4" stroke-linecap="round"/>
<line x1="1079.7" y1="132.7" x2="1081.8" y2="134.8" stroke="#0e0f16" stroke-width="2.4" stroke-linecap="round"/>
<line x1="1081.8" y1="134.8" x2="1083.9" y2="137.0" stroke="#0e0f16" stroke-width="2.4" stroke-linecap="round"/>
<line x1="1083.9" y1="137.0" x2="1085.9" y2="139.2" stroke="#0e0f16" stroke-width="2.5" stroke-linecap="round"/>
<line x1="1085.9" y1="139.2" x2="1087.9" y2="141.5" stroke="#0e0f16" stroke-width="2.5" stroke-linecap="round"/>
<line x1="1087.9" y1="141.5" x2="1089.8" y2="143.8" stroke="#0e0f16" stroke-width="2.5" stroke-linecap="round"/>
<line x1="1089.8" y1="143.8" x2="1091.7" y2="146.1" stroke="#0e0f16" stroke-width="2.5" stroke-linecap="round"/>
<line x1="1091.7" y1="146.1" x2="1093.5" y2="148.5" stroke="#0e0f16" stroke-width="2.5" stroke-linecap="round"/>
<line x1="1093.5" y1="148.5" x2="1095.3" y2="150.9" stroke="#0e0f16" stroke-width="2.5" stroke-linecap="round"/>
<line x1="1095.3" y1="150.9" x2="1097.0" y2="153.4" stroke="#0e0f16" stroke-width="2.6" stroke-linecap="round"/>
<line x1="1097.0" y1="153.4" x2="1098.6" y2="155.9" stroke="#0e0f16" stroke-width="2.6" stroke-linecap="round"/>
<line x1="1098.6" y1="155.9" x2="1100.1" y2="158.5" stroke="#0e0f16" stroke-width="2.6" stroke-linecap="round"/>
<line x1="1100.1" y1="158.5" x2="1101.5" y2="161.1" stroke="#0e0f16" stroke-width="2.6" stroke-linecap="round"/>
<line x1="1101.5" y1="161.1" x2="1102.9" y2="163.8" stroke="#0e0f16" stroke-width="2.6" stroke-linecap="round"/>
<line x1="1102.9" y1="163.8" x2="1104.1" y2="166.5" stroke="#0e0f16" stroke-width="2.6" stroke-linecap="round"/>
<line x1="1104.1" y1="166.5" x2="1105.2" y2="169.3" stroke="#0e0f16" stroke-width="2.7" stroke-linecap="round"/>
<line x1="1105.2" y1="169.3" x2="1106.3" y2="172.1" stroke="#0e0f16" stroke-width="2.7" stroke-linecap="round"/>
<line x1="1106.3" y1="172.1" x2="1107.3" y2="175.0" stroke="#0e0f16" stroke-width="2.7" stroke-linecap="round"/>
<line x1="1107.3" y1="175.0" x2="1108.2" y2="177.8" stroke="#0e0f16" stroke-width="2.7" stroke-linecap="round"/>
<line x1="1108.2" y1="177.8" x2="1109.2" y2="180.7" stroke="#0e0f16" stroke-width="2.7" stroke-linecap="round"/>
<line x1="1109.2" y1="180.7" x2="1110.1" y2="183.5" stroke="#0e0f16" stroke-width="2.7" stroke-linecap="round"/>
<line x1="1110.1" y1="183.5" x2="1111.2" y2="186.3" stroke="#0e0f16" stroke-width="2.8" stroke-linecap="round"/>
<line x1="1111.2" y1="186.3" x2="1112.4" y2="189.0" stroke="#0e0f16" stroke-width="2.8" stroke-linecap="round"/>
<path d="M1085.0,76.3 C1088.1,76.8 1098.2,78.3 1103.8,79.4 C1109.4,80.5 1113.0,81.6 1118.8,83.1 C1124.6,84.5 1132.5,86.5 1138.8,88.1 C1145.0,89.7 1150.9,90.9 1156.3,92.5 C1161.7,94.1 1167.1,96.2 1171.3,97.5 C1175.5,98.8 1179.6,99.6 1181.3,100.0" fill="none" stroke="#2c2c3d" stroke-width="1.8" stroke-dasharray="2 3.5"/>
<path d="M918,67.8 L935,69.5 L949.4,71.9" fill="none" stroke="#2c2c3d" stroke-width="1.8" stroke-dasharray="2 3"/>
<line x1="839.7" y1="196.9" x2="842.6" y2="197.9" stroke="#0e0f16" stroke-width="1.8" stroke-linecap="round"/>
<line x1="842.6" y1="197.9" x2="845.4" y2="198.9" stroke="#0e0f16" stroke-width="1.8" stroke-linecap="round"/>
<line x1="845.4" y1="198.9" x2="848.2" y2="199.9" stroke="#0e0f16" stroke-width="1.8" stroke-linecap="round"/>
<line x1="848.2" y1="199.9" x2="851.0" y2="200.9" stroke="#0e0f16" stroke-width="1.8" stroke-linecap="round"/>
<line x1="851.0" y1="200.9" x2="853.8" y2="202.0" stroke="#0e0f16" stroke-width="1.9" stroke-linecap="round"/>
<line x1="853.8" y1="202.0" x2="856.6" y2="203.1" stroke="#0e0f16" stroke-width="1.9" stroke-linecap="round"/>
<line x1="856.6" y1="203.1" x2="859.4" y2="204.3" stroke="#0e0f16" stroke-width="1.9" stroke-linecap="round"/>
<line x1="859.4" y1="204.3" x2="862.1" y2="205.5" stroke="#0e0f16" stroke-width="1.9" stroke-linecap="round"/>
<line x1="862.1" y1="205.5" x2="864.9" y2="206.7" stroke="#0e0f16" stroke-width="1.9" stroke-linecap="round"/>
<line x1="864.9" y1="206.7" x2="867.6" y2="208.0" stroke="#0e0f16" stroke-width="1.9" stroke-linecap="round"/>
<line x1="867.6" y1="208.0" x2="870.2" y2="209.4" stroke="#0e0f16" stroke-width="1.9" stroke-linecap="round"/>
<line x1="870.2" y1="209.4" x2="872.9" y2="210.8" stroke="#0e0f16" stroke-width="1.9" stroke-linecap="round"/>
<line x1="872.9" y1="210.8" x2="875.5" y2="212.3" stroke="#0e0f16" stroke-width="2.0" stroke-linecap="round"/>
<line x1="875.5" y1="212.3" x2="878.1" y2="213.8" stroke="#0e0f16" stroke-width="2.0" stroke-linecap="round"/>
<line x1="878.1" y1="213.8" x2="880.6" y2="215.4" stroke="#0e0f16" stroke-width="2.0" stroke-linecap="round"/>
<line x1="880.6" y1="215.4" x2="883.1" y2="217.0" stroke="#0e0f16" stroke-width="2.0" stroke-linecap="round"/>
<line x1="883.1" y1="217.0" x2="885.6" y2="218.8" stroke="#0e0f16" stroke-width="2.0" stroke-linecap="round"/>
<line x1="885.6" y1="218.8" x2="888.0" y2="220.6" stroke="#0e0f16" stroke-width="2.0" stroke-linecap="round"/>
<line x1="888.0" y1="220.6" x2="890.3" y2="222.5" stroke="#0e0f16" stroke-width="2.0" stroke-linecap="round"/>
<line x1="890.3" y1="222.5" x2="892.6" y2="224.4" stroke="#0e0f16" stroke-width="2.1" stroke-linecap="round"/>
<line x1="892.6" y1="224.4" x2="894.8" y2="226.5" stroke="#0e0f16" stroke-width="2.1" stroke-linecap="round"/>
<line x1="894.8" y1="226.5" x2="896.9" y2="228.6" stroke="#0e0f16" stroke-width="2.1" stroke-linecap="round"/>
<line x1="896.9" y1="228.6" x2="898.9" y2="230.8" stroke="#0e0f16" stroke-width="2.1" stroke-linecap="round"/>
<line x1="898.9" y1="230.8" x2="900.9" y2="233.1" stroke="#0e0f16" stroke-width="2.1" stroke-linecap="round"/>
<line x1="900.9" y1="233.1" x2="902.7" y2="235.4" stroke="#0e0f16" stroke-width="2.1" stroke-linecap="round"/>
<line x1="902.7" y1="235.4" x2="904.5" y2="237.9" stroke="#0e0f16" stroke-width="2.1" stroke-linecap="round"/>
<line x1="904.5" y1="237.9" x2="906.2" y2="240.3" stroke="#0e0f16" stroke-width="2.2" stroke-linecap="round"/>
<line x1="906.2" y1="240.3" x2="907.8" y2="242.9" stroke="#0e0f16" stroke-width="2.2" stroke-linecap="round"/>
<line x1="907.8" y1="242.9" x2="909.3" y2="245.5" stroke="#0e0f16" stroke-width="2.2" stroke-linecap="round"/>
<line x1="909.3" y1="245.5" x2="910.7" y2="248.1" stroke="#0e0f16" stroke-width="2.2" stroke-linecap="round"/>
<line x1="910.7" y1="248.1" x2="912.1" y2="250.8" stroke="#0e0f16" stroke-width="2.2" stroke-linecap="round"/>
<line x1="912.1" y1="250.8" x2="913.4" y2="253.5" stroke="#0e0f16" stroke-width="2.2" stroke-linecap="round"/>
<line x1="913.4" y1="253.5" x2="914.6" y2="256.2" stroke="#0e0f16" stroke-width="2.2" stroke-linecap="round"/>
<line x1="914.6" y1="256.2" x2="915.8" y2="259.0" stroke="#0e0f16" stroke-width="2.2" stroke-linecap="round"/>
<line x1="915.8" y1="259.0" x2="916.9" y2="261.8" stroke="#0e0f16" stroke-width="2.3" stroke-linecap="round"/>
<line x1="916.9" y1="261.8" x2="918.0" y2="264.6" stroke="#0e0f16" stroke-width="2.3" stroke-linecap="round"/>
<line x1="918.0" y1="264.6" x2="919.0" y2="267.4" stroke="#0e0f16" stroke-width="2.3" stroke-linecap="round"/>
<line x1="919.0" y1="267.4" x2="920.0" y2="270.2" stroke="#0e0f16" stroke-width="2.3" stroke-linecap="round"/>
<line x1="920.0" y1="270.2" x2="921.0" y2="273.1" stroke="#0e0f16" stroke-width="2.3" stroke-linecap="round"/>
<line x1="921.0" y1="273.1" x2="921.9" y2="275.9" stroke="#0e0f16" stroke-width="2.3" stroke-linecap="round"/>
<line x1="921.9" y1="275.9" x2="922.9" y2="278.8" stroke="#0e0f16" stroke-width="2.3" stroke-linecap="round"/>
<line x1="922.9" y1="278.8" x2="923.8" y2="281.6" stroke="#0e0f16" stroke-width="2.4" stroke-linecap="round"/>
<line x1="923.8" y1="281.6" x2="924.6" y2="284.5" stroke="#0e0f16" stroke-width="2.4" stroke-linecap="round"/>
<line x1="924.6" y1="284.5" x2="925.5" y2="287.4" stroke="#0e0f16" stroke-width="2.4" stroke-linecap="round"/>
<path d="M930.6,306.6 C930.8,307.3 931.3,309.5 931.6,311.0 C931.9,312.5 932.2,313.9 932.5,315.4 C932.8,316.9 933.1,318.3 933.4,319.8 C933.6,321.2 933.9,322.7 934.1,324.2 C934.4,325.6 934.6,327.1 934.8,328.6 C935.0,330.0 935.2,331.5 935.4,332.9 C935.5,334.4 935.7,335.9 935.8,337.3 C936.0,338.8 936.1,340.3 936.2,341.7 C936.3,343.2 936.4,344.6 936.5,346.1 C936.5,347.6 936.6,349.0 936.6,350.5 C936.6,352.0 936.6,353.4 936.6,354.9 C936.6,356.4 936.6,357.8 936.6,359.3 C936.5,360.7 936.5,362.2 936.4,363.7 C936.3,365.1 936.2,366.6 936.1,368.1 C936.0,369.5 935.9,371.0 935.7,372.4 C935.6,373.9 935.4,375.4 935.2,376.8 C935.0,378.3 934.8,379.8 934.6,381.2 C934.4,382.7 934.2,384.1 934.0,385.6 C933.7,387.1 933.5,388.5 933.2,390.0 C932.9,391.5 932.7,392.9 932.4,394.4 C932.1,395.9 931.8,397.3 931.5,398.8 C931.2,400.2 930.8,401.7 930.5,403.2 C930.2,404.6 929.8,406.1 929.5,407.6 C929.1,409.0 928.8,410.5 928.4,411.9 C928.0,413.4 927.6,414.9 927.3,416.3 C926.9,417.8 926.5,419.3 926.1,420.7 C925.7,422.2 925.3,423.6 924.9,425.1 C924.4,426.6 924.0,428.0 923.6,429.5 C923.2,431.0 922.7,432.4 922.3,433.9 C921.9,435.3 921.4,436.8 921.0,438.3 C920.5,439.7 920.1,441.2 919.6,442.7 C919.1,444.1 918.7,445.6 918.2,447.1 C917.7,448.5 917.2,450.0 916.7,451.4 C916.2,452.9 915.7,454.4 915.2,455.8 C914.7,457.3 914.2,458.8 913.6,460.2 C913.1,461.7 912.6,463.1 912.0,464.6 C911.5,466.1 910.9,467.5 910.3,469.0 C909.7,470.5 909.1,471.9 908.5,473.4 C907.9,474.8 907.3,476.3 906.6,477.8 C906.0,479.2 905.3,480.7 904.6,482.2 C903.9,483.6 903.2,485.1 902.5,486.5 C901.8,488.0 901.0,489.5 900.2,490.9 C899.5,492.4 898.6,493.9 897.8,495.3 C897.0,496.8 896.1,498.3 895.2,499.7 C894.3,501.2 893.4,502.6 892.5,504.1 C891.5,505.6 890.5,507.0 889.5,508.5 C888.5,510.0 887.4,511.4 886.4,512.9 C885.3,514.3 884.2,515.8 883.0,517.3 C881.8,518.7 880.6,520.2 879.4,521.7 C878.2,523.1 876.9,524.6 875.6,526.0 C874.3,527.5 873.0,529.0 871.6,530.4 C870.2,531.9 868.8,533.4 867.3,534.8 C865.9,536.3 864.4,537.7 862.9,539.2 C861.4,540.7 859.1,542.9 858.3,543.6" fill="none" stroke="#0e0f16" stroke-width="3.2" stroke-linecap="round"/>
<ellipse cx="935.7" cy="352" rx="4" ry="9" fill="#0e0f16"/>
<path d="M951.1,200.5 C954.1,201.2 963.8,203.4 969.6,204.9 C975.4,206.3 980.8,207.8 985.9,209.2 C991.0,210.7 995.7,212.1 1000.3,213.6 C1004.8,215.0 1008.9,216.5 1012.9,217.9 C1016.9,219.4 1020.6,220.8 1024.1,222.3 C1027.6,223.7 1030.9,225.2 1033.9,226.6 C1037.0,228.1 1039.9,229.5 1042.7,231.0 C1045.4,232.4 1047.9,233.9 1050.4,235.3 C1052.8,236.8 1055.1,238.2 1057.2,239.7 C1059.4,241.1 1061.4,242.6 1063.3,244.0 C1065.2,245.5 1067.0,246.9 1068.8,248.4 C1070.5,249.9 1072.1,251.3 1073.7,252.8 C1075.2,254.2 1076.7,255.7 1078.1,257.1 C1079.5,258.6 1080.8,260.0 1082.1,261.5 C1083.3,262.9 1084.6,264.4 1085.7,265.8 C1086.9,267.3 1088.0,268.7 1089.0,270.2 C1090.1,271.6 1091.1,273.1 1092.1,274.5 C1093.1,276.0 1094.0,277.4 1094.9,278.9 C1095.8,280.3 1096.7,281.8 1097.5,283.2 C1098.3,284.7 1099.2,286.1 1099.9,287.6 C1100.7,289.0 1101.4,290.5 1102.2,291.9 C1102.9,293.4 1103.6,294.8 1104.2,296.3 C1104.9,297.7 1105.6,299.2 1106.2,300.7 C1106.8,302.1 1107.4,303.6 1108.0,305.0 C1108.5,306.5 1109.1,307.9 1109.6,309.4 C1110.1,310.8 1110.6,312.3 1111.1,313.7 C1111.6,315.2 1112.0,316.6 1112.4,318.1 C1112.9,319.5 1113.3,321.0 1113.7,322.4 C1114.0,323.9 1114.4,325.3 1114.7,326.8 C1115.1,328.2 1115.4,329.7 1115.7,331.1 C1115.9,332.6 1116.2,334.0 1116.4,335.5 C1116.7,336.9 1116.9,338.4 1117.0,339.8 C1117.2,341.3 1117.4,342.7 1117.5,344.2 C1117.6,345.6 1117.7,347.1 1117.8,348.6 C1117.9,350.0 1117.9,351.5 1118.0,352.9 C1118.0,354.4 1118.0,355.8 1117.9,357.3 C1117.9,358.7 1117.8,360.2 1117.7,361.6 C1117.7,363.1 1117.5,364.5 1117.4,366.0 C1117.2,367.4 1117.1,368.9 1116.9,370.3 C1116.7,371.8 1116.4,373.2 1116.2,374.7 C1115.9,376.1 1115.7,377.6 1115.3,379.0 C1115.0,380.5 1114.7,381.9 1114.3,383.4 C1114.0,384.8 1113.6,386.3 1113.2,387.7 C1112.7,389.2 1112.3,390.6 1111.8,392.1 C1111.4,393.5 1110.9,395.0 1110.3,396.4 C1109.8,397.9 1109.3,399.4 1108.7,400.8 C1108.1,402.3 1107.6,403.7 1106.9,405.2 C1106.3,406.6 1105.7,408.1 1105.0,409.5 C1104.3,411.0 1103.7,412.4 1102.9,413.9 C1102.2,415.3 1101.5,416.8 1100.7,418.2 C1100.0,419.7 1099.2,421.1 1098.4,422.6 C1097.6,424.0 1096.8,425.5 1095.9,426.9 C1095.1,428.4 1094.2,429.8 1093.3,431.3 C1092.5,432.7 1091.6,434.2 1090.6,435.6 C1089.7,437.1 1088.8,438.5 1087.8,440.0 C1086.8,441.4 1085.8,442.9 1084.8,444.3 C1083.8,445.8 1082.8,447.3 1081.7,448.7 C1080.7,450.2 1079.6,451.6 1078.5,453.1 C1077.4,454.5 1076.3,456.0 1075.1,457.4 C1074.0,458.9 1072.8,460.3 1071.7,461.8 C1070.5,463.2 1069.3,464.7 1068.0,466.1 C1066.8,467.6 1065.5,469.0 1064.3,470.5 C1063.0,471.9 1061.7,473.4 1060.3,474.8 C1059.0,476.3 1057.6,477.7 1056.2,479.2 C1054.8,480.6 1053.4,482.1 1051.9,483.5 C1050.5,485.0 1049.0,486.4 1047.5,487.9 C1045.9,489.3 1044.4,490.8 1042.8,492.2 C1041.2,493.7 1039.5,495.1 1037.9,496.6 C1036.2,498.1 1034.5,499.5 1032.7,501.0 C1031.0,502.4 1029.2,503.9 1027.3,505.3 C1025.5,506.8 1023.6,508.2 1021.6,509.7 C1019.7,511.1 1017.7,512.6 1015.7,514.0 C1013.6,515.5 1011.5,516.9 1009.3,518.4 C1007.2,519.8 1005.0,521.3 1002.7,522.7 C1000.4,524.2 998.1,525.6 995.7,527.1 C993.3,528.5 990.8,530.0 988.3,531.4 C985.7,532.9 983.1,534.3 980.5,535.8 C977.8,537.2 975.0,538.7 972.2,540.1 C969.4,541.6 965.0,543.8 963.5,544.5" fill="none" stroke="#15161e" stroke-width="2.4" stroke-linecap="round"/>
<ellipse cx="1117.2" cy="352" rx="3" ry="10" fill="#0e0f16"/>
<path d="M1064.3,544.3 C1065.0,544.2 1067.0,543.9 1068.3,543.6 C1069.6,543.4 1071.0,543.1 1072.3,542.8 C1073.7,542.5 1075.0,542.2 1076.3,541.9 C1077.7,541.6 1079.0,541.3 1080.3,540.9 C1081.7,540.5 1083.0,540.2 1084.4,539.8 C1085.7,539.4 1087.0,539.0 1088.4,538.6 C1089.7,538.2 1091.0,537.7 1092.4,537.3 C1093.7,536.8 1095.0,536.4 1096.4,535.9 C1097.7,535.4 1099.1,535.0 1100.4,534.5 C1101.7,534.0 1103.1,533.4 1104.4,532.9 C1105.7,532.4 1107.1,531.9 1108.4,531.3 C1109.8,530.8 1111.1,530.2 1112.4,529.7 C1113.8,529.1 1115.1,528.5 1116.4,528.0 C1117.8,527.4 1119.1,526.8 1120.4,526.2 C1121.8,525.6 1123.1,525.0 1124.5,524.4 C1125.8,523.8 1127.1,523.1 1128.5,522.5 C1129.8,521.9 1131.1,521.3 1132.5,520.6 C1133.8,520.0 1135.1,519.3 1136.5,518.7 C1137.8,518.1 1139.2,517.4 1140.5,516.7 C1141.8,516.1 1143.2,515.4 1144.5,514.8 C1145.8,514.1 1147.2,513.4 1148.5,512.8 C1149.9,512.1 1151.2,511.4 1152.5,510.8 C1153.9,510.1 1155.2,509.4 1156.5,508.8 C1157.9,508.1 1159.2,507.4 1160.5,506.8 C1161.9,506.1 1163.2,505.4 1164.6,504.7 C1165.9,504.1 1167.2,503.4 1168.6,502.7 C1169.9,502.1 1171.2,501.4 1172.6,500.8 C1173.9,500.1 1175.3,499.4 1176.6,498.8 C1177.9,498.1 1179.9,497.2 1180.6,496.8" fill="none" stroke="#1c1d28" stroke-width="1.8"/>
<circle cx="1001.0" cy="68.5" r="1.7" fill="#1c1d28"/>
<circle cx="1028.0" cy="70.3" r="1.7" fill="#1c1d28"/>
<circle cx="1047.0" cy="71.9" r="1.7" fill="#1c1d28"/>
<circle cx="1061.0" cy="73.0" r="1.7" fill="#1c1d28"/>
<circle cx="1074.0" cy="75.0" r="1.7" fill="#1c1d28"/>
<circle cx="1083.0" cy="68.5" r="1.7" fill="#1c1d28"/>
<circle cx="1119.0" cy="70.0" r="1.7" fill="#1c1d28"/>
<circle cx="1144.0" cy="72.0" r="1.7" fill="#1c1d28"/>
<circle cx="1165.0" cy="73.0" r="1.7" fill="#1c1d28"/>
<circle cx="845.0" cy="195.0" r="1.7" fill="#1c1d28"/>
<circle cx="870.0" cy="196.0" r="1.7" fill="#1c1d28"/>
<circle cx="900.0" cy="196.5" r="1.7" fill="#1c1d28"/>
<circle cx="1010.0" cy="197.0" r="1.7" fill="#1c1d28"/>
<circle cx="1060.0" cy="198.0" r="1.7" fill="#1c1d28"/>
<circle cx="1100.0" cy="196.0" r="1.7" fill="#1c1d28"/>
<circle cx="1150.0" cy="197.0" r="1.7" fill="#1c1d28"/>
<path d="M873.0,316.0 L944.0,342.0" fill="none" stroke="#2c2c3d" stroke-width="1.8" stroke-dasharray="2 3"/>
<path d="M944.0,342.0 L996.6,316.4" fill="none" stroke="#2c2c3d" stroke-width="1.8" stroke-dasharray="2 3"/>
<path d="M1067.9,327.0 L1104.0,341.5" fill="none" stroke="#2c2c3d" stroke-width="1.8" stroke-dasharray="2 3"/>
<path d="M1127.9,341.5 L1173.6,321.0" fill="none" stroke="#2c2c3d" stroke-width="1.8" stroke-dasharray="2 3"/>
<path d="M940.0,205.0 L990.0,225.0" fill="none" stroke="#2c2c3d" stroke-width="1.8" stroke-dasharray="2 3"/>
<path d="M843.6,390.3 C843.0,394.7 841.6,406.4 840.3,416.7 C839.0,427.0 836.6,446.1 835.9,452.0" fill="none" stroke="#0e0f16" stroke-width="3"/>
<path d="M1022.0,390.3 C1020.7,394.7 1018.2,406.4 1014.3,416.7 C1010.4,427.0 1001.4,446.1 998.8,452.0" fill="none" stroke="#0e0f16" stroke-width="2.4"/>
<path d="M1181.8,426.6 C1180.2,428.8 1175.5,435.8 1172.0,440.0 C1168.5,444.2 1162.8,450.0 1161.0,452.0" fill="none" stroke="#15161e" stroke-width="1.8"/>
<line x1="831.0" y1="241.0" x2="835.5" y2="256.3" stroke="#2c2c3d" stroke-width="1.8"/>
<line x1="840.1" y1="279.4" x2="843.2" y2="310.3" stroke="#15161e" stroke-width="2.4"/>
<line x1="980.3" y1="238.9" x2="995.3" y2="256.3" stroke="#8599a5" stroke-width="1.4"/>
<line x1="1009.5" y1="280.0" x2="1021.3" y2="311.5" stroke="#15161e" stroke-width="2.2"/>
<line x1="1130.0" y1="240.0" x2="1155.0" y2="256.0" stroke="#8599a5" stroke-width="1.4"/>
<line x1="807.3" y1="456.0" x2="807.3" y2="467.4" stroke="#15161e" stroke-width="2.2"/>
<line x1="859.0" y1="456.0" x2="857.0" y2="467.0" stroke="#15161e" stroke-width="2.0"/>
<line x1="966.0" y1="456.0" x2="963.0" y2="467.0" stroke="#15161e" stroke-width="2.0"/>
<line x1="1017.6" y1="456.0" x2="1014.0" y2="467.0" stroke="#15161e" stroke-width="2.0"/>
<line x1="1128.0" y1="456.0" x2="1121.0" y2="467.0" stroke="#15161e" stroke-width="2.0"/>
<line x1="1181.0" y1="456.0" x2="1174.0" y2="467.0" stroke="#15161e" stroke-width="2.0"/>
<rect x="207.0" y="38.0" width="427.0" height="555.3" fill="none" stroke="#262626" stroke-width="1.6"/>
<line x1="207.0" y1="593.3" x2="207.0" y2="588.3" stroke="#262626" stroke-width="1.4"/>
<line x1="207.0" y1="38.0" x2="207.0" y2="43.0" stroke="#262626" stroke-width="1.4"/>
<text x="207.0" y="645.9" font-size="39" text-anchor="middle">0</text>
<line x1="349.3" y1="593.3" x2="349.3" y2="588.3" stroke="#262626" stroke-width="1.4"/>
<line x1="349.3" y1="38.0" x2="349.3" y2="43.0" stroke="#262626" stroke-width="1.4"/>
<text x="349.3" y="645.9" font-size="39" text-anchor="middle">2</text>
<line x1="491.7" y1="593.3" x2="491.7" y2="588.3" stroke="#262626" stroke-width="1.4"/>
<line x1="491.7" y1="38.0" x2="491.7" y2="43.0" stroke="#262626" stroke-width="1.4"/>
<text x="491.7" y="645.9" font-size="39" text-anchor="middle">4</text>
<line x1="634.0" y1="593.3" x2="634.0" y2="588.3" stroke="#262626" stroke-width="1.4"/>
<line x1="634.0" y1="38.0" x2="634.0" y2="43.0" stroke="#262626" stroke-width="1.4"/>
<text x="634.0" y="645.9" font-size="39" text-anchor="middle">6</text>
<line x1="207.0" y1="117.6" x2="212.0" y2="117.6" stroke="#262626" stroke-width="1.4"/>
<line x1="634.0" y1="117.6" x2="629.0" y2="117.6" stroke="#262626" stroke-width="1.4"/>
<line x1="207.0" y1="276.2" x2="212.0" y2="276.2" stroke="#262626" stroke-width="1.4"/>
<line x1="634.0" y1="276.2" x2="629.0" y2="276.2" stroke="#262626" stroke-width="1.4"/>
<line x1="207.0" y1="434.8" x2="212.0" y2="434.8" stroke="#262626" stroke-width="1.4"/>
<line x1="634.0" y1="434.8" x2="629.0" y2="434.8" stroke="#262626" stroke-width="1.4"/>
<rect x="755.0" y="38.0" width="427.5" height="555.3" fill="none" stroke="#262626" stroke-width="1.6"/>
<line x1="755.0" y1="593.3" x2="755.0" y2="588.3" stroke="#262626" stroke-width="1.4"/>
<line x1="755.0" y1="38.0" x2="755.0" y2="43.0" stroke="#262626" stroke-width="1.4"/>
<text x="755.0" y="645.9" font-size="39" text-anchor="middle">0</text>
<line x1="897.5" y1="593.3" x2="897.5" y2="588.3" stroke="#262626" stroke-width="1.4"/>
<line x1="897.5" y1="38.0" x2="897.5" y2="43.0" stroke="#262626" stroke-width="1.4"/>
<text x="897.5" y="645.9" font-size="39" text-anchor="middle">2</text>
<line x1="1040.0" y1="593.3" x2="1040.0" y2="588.3" stroke="#262626" stroke-width="1.4"/>
<line x1="1040.0" y1="38.0" x2="1040.0" y2="43.0" stroke="#262626" stroke-width="1.4"/>
<text x="1040.0" y="645.9" font-size="39" text-anchor="middle">4</text>
<line x1="1182.5" y1="593.3" x2="1182.5" y2="588.3" stroke="#262626" stroke-width="1.4"/>
<line x1="1182.5" y1="38.0" x2="1182.5" y2="43.0" stroke="#262626" stroke-width="1.4"/>
<text x="1182.5" y="645.9" font-size="39" text-anchor="middle">6</text>
<text x="193" y="133.8" font-size="39" text-anchor="end">1574.4</text>
<text x="193" y="292.4" font-size="39" text-anchor="end">1574.2</text>
<text x="193" y="451.0" font-size="39" text-anchor="end">1574</text>
<text x="193" y="609.2" font-size="39" text-anchor="end">1573.8</text>
<text x="424.4" y="683.2" font-size="43" text-anchor="middle">frequency [MHz]</text>
<text x="967.4" y="682.3" font-size="43" text-anchor="middle">frequency [MHz]</text>
<text transform="translate(40,385.2) rotate(-90)" font-size="43">&#955;<tspan font-size="34" dy="21.2" dx="2.5">L</tspan><tspan dy="-21.2" dx="1.2"> [nm]</tspan></text>
<text x="0" y="65" font-size="50">a)</text>
<text x="689" y="65" font-size="50">b)</text>
<text x="1224" y="65" font-size="50">c)</text>
<text x="82" y="734" font-size="50">d)</text>
<line x1="1318.6" y1="38.0" x2="1318.6" y2="593.3" stroke="#dcdcdc" stroke-width="1.2"/>
<line x1="1354.0" y1="38.0" x2="1354.0" y2="593.3" stroke="#dcdcdc" stroke-width="1.2"/>
<line x1="1425.5" y1="38.0" x2="1425.5" y2="593.3" stroke="#dcdcdc" stroke-width="1.2"/>
<line x1="1568.5" y1="38.0" x2="1568.5" y2="593.3" stroke="#dcdcdc" stroke-width="1.2"/>
<line x1="1284.0" y1="117.6" x2="1711.0" y2="117.6" stroke="#dcdcdc" stroke-width="1.2"/>
<line x1="1284.0" y1="276.4" x2="1711.0" y2="276.4" stroke="#dcdcdc" stroke-width="1.2"/>
<line x1="1284.0" y1="434.6" x2="1711.0" y2="434.6" stroke="#dcdcdc" stroke-width="1.2"/>
<rect x="1284.0" y="38.0" width="427.0" height="555.3" fill="none" stroke="#262626" stroke-width="1.6"/>
<line x1="1318.6" y1="593.3" x2="1318.6" y2="588.3" stroke="#262626" stroke-width="1.4"/>
<line x1="1318.6" y1="38.0" x2="1318.6" y2="43.0" stroke="#262626" stroke-width="1.4"/>
<line x1="1354.0" y1="593.3" x2="1354.0" y2="588.3" stroke="#262626" stroke-width="1.4"/>
<line x1="1354.0" y1="38.0" x2="1354.0" y2="43.0" stroke="#262626" stroke-width="1.4"/>
<line x1="1425.5" y1="593.3" x2="1425.5" y2="588.3" stroke="#262626" stroke-width="1.4"/>
<line x1="1425.5" y1="38.0" x2="1425.5" y2="43.0" stroke="#262626" stroke-width="1.4"/>
<line x1="1568.5" y1="593.3" x2="1568.5" y2="588.3" stroke="#262626" stroke-width="1.4"/>
<line x1="1568.5" y1="38.0" x2="1568.5" y2="43.0" stroke="#262626" stroke-width="1.4"/>
<line x1="1284.0" y1="117.6" x2="1289.0" y2="117.6" stroke="#262626" stroke-width="1.4"/>
<line x1="1711.0" y1="117.6" x2="1706.0" y2="117.6" stroke="#262626" stroke-width="1.4"/>
<line x1="1284.0" y1="276.4" x2="1289.0" y2="276.4" stroke="#262626" stroke-width="1.4"/>
<line x1="1711.0" y1="276.4" x2="1706.0" y2="276.4" stroke="#262626" stroke-width="1.4"/>
<line x1="1284.0" y1="434.6" x2="1289.0" y2="434.6" stroke="#262626" stroke-width="1.4"/>
<line x1="1711.0" y1="434.6" x2="1706.0" y2="434.6" stroke="#262626" stroke-width="1.4"/>
<path d="M1365.8,412.7 C1368.5,409.3 1377.1,400.2 1382.2,392.2 C1387.3,384.1 1392.1,373.5 1396.6,364.4 C1401.1,355.3 1404.9,346.6 1409.0,337.7 C1413.1,328.8 1417.2,319.2 1421.3,311.0 C1425.4,302.8 1428.8,295.9 1433.6,288.4 C1438.4,280.9 1444.2,272.5 1450.0,265.8 C1455.8,259.1 1461.0,253.4 1468.5,248.3 C1476.0,243.2 1485.7,238.8 1495.3,235.0 C1504.9,231.2 1515.2,228.1 1526.0,225.7 C1536.8,223.3 1547.7,221.7 1560.0,220.5 C1572.3,219.3 1585.0,219.0 1600.0,218.5 C1615.0,218.0 1641.7,217.7 1650.0,217.5" fill="none" stroke="#ff1e0e" stroke-width="3.6" stroke-dasharray="14 9"/>
<circle cx="1318.5" cy="462.0" r="3.6" fill="#000"/>
<line x1="1330.2" y1="448.7" x2="1330.2" y2="461.0" stroke="#000" stroke-width="7.2" stroke-linecap="round"/>
<line x1="1354.0" y1="386.0" x2="1354.0" y2="448.7" stroke="#000" stroke-width="7.2" stroke-linecap="round"/>
<circle cx="1401.7" cy="386.0" r="3.6" fill="#000"/>
<circle cx="1412.0" cy="384.0" r="3.6" fill="#000"/>
<circle cx="1417.6" cy="382.5" r="3.6" fill="#000"/>
<circle cx="1417.6" cy="277.7" r="3.6" fill="#000"/>
<circle cx="1452.5" cy="243.2" r="3.6" fill="#000"/>
<circle cx="1462.4" cy="241.0" r="3.6" fill="#000"/>
<circle cx="1465.5" cy="238.0" r="3.6" fill="#000"/>
<circle cx="1474.3" cy="239.7" r="3.6" fill="#000"/>
<circle cx="1497.3" cy="236.0" r="3.6" fill="#000"/>
<circle cx="1520.0" cy="232.5" r="3.6" fill="#000"/>
<circle cx="1540.0" cy="230.0" r="3.6" fill="#000"/>
<circle cx="1685.0" cy="217.5" r="3.6" fill="#000"/>
<line x1="1425.8" y1="244.2" x2="1425.8" y2="380.9" stroke="#000" stroke-width="7.2" stroke-linecap="round"/>
<line x1="1569.0" y1="218.0" x2="1569.0" y2="229.0" stroke="#000" stroke-width="7.2" stroke-linecap="round"/>
<text transform="translate(1332.6,606.8) rotate(-90)" font-size="39" text-anchor="end">1/4</text>
<text transform="translate(1368.0,606.8) rotate(-90)" font-size="39" text-anchor="end">1/2</text>
<text transform="translate(1439.5,606.8) rotate(-90)" font-size="39" text-anchor="end">1</text>
<text transform="translate(1582.5,606.8) rotate(-90)" font-size="39" text-anchor="end">2</text>
<text transform="translate(1725.0,606.8) rotate(-90)" font-size="39" text-anchor="end">3</text>
<text x="1497.3" y="683.8" font-size="43" text-anchor="middle">locking ratio n : m</text>
<rect x="1729.25" y="195.25" width="32.25" height="349.3" fill="#262626" stroke="#000" stroke-width="3.5"/>
<rect x="1764.85" y="68.8" width="32.55" height="397.4" fill="#77f92a" stroke="#78b33a" stroke-width="3.2"/>
<text transform="translate(1855,618.3) rotate(-90)" font-weight="bold" font-size="52.2" style="font-family:'Liberation Serif', 'Times New Roman', serif;fill:#000">CAVITY #1</text>
<text transform="translate(1853,313) rotate(-90)" font-weight="bold" font-size="52.5" style="font-family:'Liberation Serif', 'Times New Roman', serif;fill:#7ab640">CAVITY #2</text>
<rect x="1908" y="39" width="29.5" height="554" fill="url(#cbar)" stroke="#262626" stroke-width="1.6"/>
<line x1="1937.5" y1="65.8" x2="1933" y2="65.8" stroke="#262626" stroke-width="1.2"/>
<text x="1948" y="79.8" font-size="35.3">2</text>
<line x1="1937.5" y1="197.6" x2="1933" y2="197.6" stroke="#262626" stroke-width="1.2"/>
<text x="1948" y="211.6" font-size="35.3">1.5</text>
<line x1="1937.5" y1="329.4" x2="1933" y2="329.4" stroke="#262626" stroke-width="1.2"/>
<text x="1948" y="343.4" font-size="35.3">1</text>
<line x1="1937.5" y1="461.2" x2="1933" y2="461.2" stroke="#262626" stroke-width="1.2"/>
<text x="1948" y="475.2" font-size="35.3">0.5</text>
<line x1="1937.5" y1="593.0" x2="1933" y2="593.0" stroke="#262626" stroke-width="1.2"/>
<text x="1948" y="607.0" font-size="35.3">0</text>
<text x="1888" y="29.5" font-size="35.3">[a.u.]</text>
<rect x="254.5" y="702.0" width="1281.0" height="553.5" fill="#f0f0f0"/>
<rect x="531" y="702" width="36" height="28" fill="#e0481a" shape-rendering="crispEdges"/>
<rect x="567" y="702" width="204" height="28" fill="#ea8834" shape-rendering="crispEdges"/>
<rect x="771" y="702" width="62" height="28" fill="#dfd24a" shape-rendering="crispEdges"/>
<rect x="833" y="702" width="31" height="28" fill="#d0f048" shape-rendering="crispEdges"/>
<rect x="864" y="702" width="21" height="28" fill="#000000" shape-rendering="crispEdges"/>
<rect x="885" y="702" width="113" height="28" fill="#9afa44" shape-rendering="crispEdges"/>
<pattern id="h0_998" patternUnits="userSpaceOnUse" x="999.2" y="701.2" width="18.9" height="9.73"><rect width="18.9" height="9.73" fill="#fff"/><rect x="0" y="3.9" width="11.2" height="2.1" fill="#8e4fb8"/></pattern>
<rect x="998" y="702" width="189" height="28" fill="url(#h0_998)" shape-rendering="crispEdges"/>
<rect x="1187" y="702" width="92" height="28" fill="#9afa44" shape-rendering="crispEdges"/>
<pattern id="h0_1279" patternUnits="userSpaceOnUse" x="1280.2" y="701.2" width="18.9" height="9.73"><rect width="18.9" height="9.73" fill="#fff"/><rect x="0" y="3.9" width="11.2" height="2.1" fill="#8e4fb8"/></pattern>
<rect x="1279" y="702" width="46" height="28" fill="url(#h0_1279)" shape-rendering="crispEdges"/>
<rect x="1325" y="702" width="52" height="28" fill="#9afa44" shape-rendering="crispEdges"/>
<rect x="1377" y="702" width="24" height="28" fill="#000000" shape-rendering="crispEdges"/>
<rect x="1401" y="702" width="21" height="28" fill="#78fa8c" shape-rendering="crispEdges"/>
<rect x="1422" y="702" width="27" height="28" fill="#70fcc8" shape-rendering="crispEdges"/>
<rect x="1449" y="702" width="19" height="28" fill="#000000" shape-rendering="crispEdges"/>
<rect x="1468" y="702" width="16" height="28" fill="#5ca8f4" shape-rendering="crispEdges"/>
<rect x="535" y="730" width="43" height="30" fill="#e0481a" shape-rendering="crispEdges"/>
<rect x="578" y="730" width="3" height="30" fill="#ec6a24" shape-rendering="crispEdges"/>
<rect x="581" y="730" width="207" height="30" fill="#ea8834" shape-rendering="crispEdges"/>
<rect x="788" y="730" width="9" height="30" fill="#dfd24a" shape-rendering="crispEdges"/>
<rect x="797" y="730" width="11" height="30" fill="#d0f048" shape-rendering="crispEdges"/>
<rect x="808" y="730" width="4" height="30" fill="#000000" shape-rendering="crispEdges"/>
<rect x="812" y="730" width="41" height="30" fill="#b4f844" shape-rendering="crispEdges"/>
<rect x="853" y="730" width="88" height="30" fill="#9afa44" shape-rendering="crispEdges"/>
<pattern id="h1_941" patternUnits="userSpaceOnUse" x="942.2" y="701.2" width="18.9" height="9.73"><rect width="18.9" height="9.73" fill="#fff"/><rect x="0" y="3.9" width="11.2" height="2.1" fill="#8e4fb8"/></pattern>
<rect x="941" y="730" width="211" height="30" fill="url(#h1_941)" shape-rendering="crispEdges"/>
<rect x="1152" y="730" width="66" height="30" fill="#9afa44" shape-rendering="crispEdges"/>
<pattern id="h1_1218" patternUnits="userSpaceOnUse" x="1219.2" y="701.2" width="18.9" height="9.73"><rect width="18.9" height="9.73" fill="#fff"/><rect x="0" y="3.9" width="11.2" height="2.1" fill="#8e4fb8"/></pattern>
<rect x="1218" y="730" width="57" height="30" fill="url(#h1_1218)" shape-rendering="crispEdges"/>
<rect x="1275" y="730" width="39" height="30" fill="#9afa44" shape-rendering="crispEdges"/>
<pattern id="h1_1314" patternUnits="userSpaceOnUse" x="1315.2" y="701.2" width="18.9" height="9.73"><rect width="18.9" height="9.73" fill="#fff"/><rect x="0" y="3.9" width="11.2" height="2.1" fill="#8e4fb8"/></pattern>
<rect x="1314" y="730" width="22" height="30" fill="url(#h1_1314)" shape-rendering="crispEdges"/>
<rect x="1336" y="730" width="20" height="30" fill="#78fa8c" shape-rendering="crispEdges"/>
<rect x="1356" y="730" width="16" height="30" fill="#70fcc8" shape-rendering="crispEdges"/>
<rect x="1372" y="730" width="9" height="30" fill="#60d8dc" shape-rendering="crispEdges"/>
<rect x="1381" y="730" width="6" height="30" fill="#000000" shape-rendering="crispEdges"/>
<rect x="1387" y="730" width="20" height="30" fill="#5ca8f4" shape-rendering="crispEdges"/>
<rect x="541" y="760" width="5" height="29" fill="#c93114" shape-rendering="crispEdges"/>
<rect x="546" y="760" width="46" height="29" fill="#e0481a" shape-rendering="crispEdges"/>
<rect x="592" y="760" width="5" height="29" fill="#ec6a24" shape-rendering="crispEdges"/>
<rect x="597" y="760" width="200" height="29" fill="#ea8834" shape-rendering="crispEdges"/>
<rect x="797" y="760" width="5" height="29" fill="#d0f048" shape-rendering="crispEdges"/>
<rect x="802" y="760" width="10" height="29" fill="#000000" shape-rendering="crispEdges"/>
<rect x="812" y="760" width="6" height="29" fill="#d0f048" shape-rendering="crispEdges"/>
<rect x="818" y="760" width="15" height="29" fill="#000000" shape-rendering="crispEdges"/>
<rect x="833" y="760" width="62" height="29" fill="#9afa44" shape-rendering="crispEdges"/>
<pattern id="h2_895" patternUnits="userSpaceOnUse" x="896.2" y="701.2" width="18.9" height="9.73"><rect width="18.9" height="9.73" fill="#fff"/><rect x="0" y="3.9" width="11.2" height="2.1" fill="#8e4fb8"/></pattern>
<rect x="895" y="760" width="200" height="29" fill="url(#h2_895)" shape-rendering="crispEdges"/>
<rect x="1095" y="760" width="67" height="29" fill="#9afa44" shape-rendering="crispEdges"/>
<pattern id="h2_1162" patternUnits="userSpaceOnUse" x="1163.2" y="701.2" width="18.9" height="9.73"><rect width="18.9" height="9.73" fill="#fff"/><rect x="0" y="3.9" width="11.2" height="2.1" fill="#8e4fb8"/></pattern>
<rect x="1162" y="760" width="61" height="29" fill="url(#h2_1162)" shape-rendering="crispEdges"/>
<rect x="1223" y="760" width="41" height="29" fill="#9afa44" shape-rendering="crispEdges"/>
<rect x="1264" y="760" width="21" height="29" fill="#78fa8c" shape-rendering="crispEdges"/>
<rect x="1285" y="760" width="15" height="29" fill="#70fcc8" shape-rendering="crispEdges"/>
<rect x="1300" y="760" width="4" height="29" fill="#60d8dc" shape-rendering="crispEdges"/>
<rect x="1304" y="760" width="41" height="29" fill="#5ca8f4" shape-rendering="crispEdges"/>
<rect x="552" y="789" width="61" height="29" fill="#e0481a" shape-rendering="crispEdges"/>
<rect x="613" y="789" width="199" height="29" fill="#ea8834" shape-rendering="crispEdges"/>
<rect x="812" y="789" width="6" height="29" fill="#dfd24a" shape-rendering="crispEdges"/>
<rect x="818" y="789" width="30" height="29" fill="#9afa44" shape-rendering="crispEdges"/>
<pattern id="h3_848" patternUnits="userSpaceOnUse" x="849.2" y="701.2" width="18.9" height="9.73"><rect width="18.9" height="9.73" fill="#fff"/><rect x="0" y="3.9" width="11.2" height="2.1" fill="#8e4fb8"/></pattern>
<rect x="848" y="789" width="217" height="29" fill="url(#h3_848)" shape-rendering="crispEdges"/>
<rect x="1065" y="789" width="45" height="29" fill="#9afa44" shape-rendering="crispEdges"/>
<pattern id="h3_1110" patternUnits="userSpaceOnUse" x="1111.2" y="701.2" width="18.9" height="9.73"><rect width="18.9" height="9.73" fill="#fff"/><rect x="0" y="3.9" width="11.2" height="2.1" fill="#8e4fb8"/></pattern>
<rect x="1110" y="789" width="67" height="29" fill="url(#h3_1110)" shape-rendering="crispEdges"/>
<rect x="1177" y="789" width="31" height="29" fill="#9afa44" shape-rendering="crispEdges"/>
<rect x="1208" y="789" width="4" height="29" fill="#78fa8c" shape-rendering="crispEdges"/>
<rect x="1212" y="789" width="11" height="29" fill="#70fcc8" shape-rendering="crispEdges"/>
<rect x="1223" y="789" width="52" height="29" fill="#5ca8f4" shape-rendering="crispEdges"/>
<rect x="1275" y="789" width="4" height="29" fill="#5580ee" shape-rendering="crispEdges"/>
<rect x="556" y="818" width="6" height="29" fill="#c93114" shape-rendering="crispEdges"/>
<rect x="562" y="818" width="67" height="29" fill="#e0481a" shape-rendering="crispEdges"/>
<rect x="629" y="818" width="189" height="29" fill="#ea8834" shape-rendering="crispEdges"/>
<pattern id="h4_818" patternUnits="userSpaceOnUse" x="819.2" y="701.2" width="18.9" height="9.73"><rect width="18.9" height="9.73" fill="#fff"/><rect x="0" y="3.9" width="11.2" height="2.1" fill="#8e4fb8"/></pattern>
<rect x="818" y="818" width="200" height="29" fill="url(#h4_818)" shape-rendering="crispEdges"/>
<rect x="1018" y="818" width="19" height="29" fill="#9afa44" shape-rendering="crispEdges"/>
<pattern id="h4_1037" patternUnits="userSpaceOnUse" x="1038.2" y="701.2" width="18.9" height="9.73"><rect width="18.9" height="9.73" fill="#fff"/><rect x="0" y="3.9" width="11.2" height="2.1" fill="#8e4fb8"/></pattern>
<rect x="1037" y="818" width="88" height="29" fill="url(#h4_1037)" shape-rendering="crispEdges"/>
<rect x="1125" y="818" width="62" height="29" fill="#9afa44" shape-rendering="crispEdges"/>
<rect x="1187" y="818" width="20" height="29" fill="#5ca8f4" shape-rendering="crispEdges"/>
<rect x="1207" y="818" width="5" height="29" fill="#5580ee" shape-rendering="crispEdges"/>
<rect x="562" y="847" width="5" height="29" fill="#c93114" shape-rendering="crispEdges"/>
<rect x="567" y="847" width="76" height="29" fill="#e0481a" shape-rendering="crispEdges"/>
<rect x="643" y="847" width="180" height="29" fill="#ea8834" shape-rendering="crispEdges"/>
<rect x="823" y="847" width="16" height="29" fill="#dfd24a" shape-rendering="crispEdges"/>
<pattern id="h5_839" patternUnits="userSpaceOnUse" x="840.2" y="701.2" width="18.9" height="9.73"><rect width="18.9" height="9.73" fill="#fff"/><rect x="0" y="3.9" width="11.2" height="2.1" fill="#8e4fb8"/></pattern>
<rect x="839" y="847" width="122" height="29" fill="url(#h5_839)" shape-rendering="crispEdges"/>
<rect x="961" y="847" width="36" height="29" fill="#9afa44" shape-rendering="crispEdges"/>
<pattern id="h5_997" patternUnits="userSpaceOnUse" x="998.2" y="701.2" width="18.9" height="9.73"><rect width="18.9" height="9.73" fill="#fff"/><rect x="0" y="3.9" width="11.2" height="2.1" fill="#8e4fb8"/></pattern>
<rect x="997" y="847" width="41" height="29" fill="url(#h5_997)" shape-rendering="crispEdges"/>
<rect x="1038" y="847" width="31" height="29" fill="#78fa8c" shape-rendering="crispEdges"/>
<rect x="1069" y="847" width="72" height="29" fill="#5ca8f4" shape-rendering="crispEdges"/>
<rect x="1141" y="847" width="4" height="29" fill="#5580ee" shape-rendering="crispEdges"/>
<rect x="567" y="876" width="11" height="29" fill="#c93114" shape-rendering="crispEdges"/>
<rect x="578" y="876" width="81" height="29" fill="#e0481a" shape-rendering="crispEdges"/>
<rect x="659" y="876" width="174" height="29" fill="#ea8834" shape-rendering="crispEdges"/>
<pattern id="h6_833" patternUnits="userSpaceOnUse" x="834.2" y="701.2" width="18.9" height="9.73"><rect width="18.9" height="9.73" fill="#fff"/><rect x="0" y="3.9" width="11.2" height="2.1" fill="#8e4fb8"/></pattern>
<rect x="833" y="876" width="81" height="29" fill="url(#h6_833)" shape-rendering="crispEdges"/>
<rect x="914" y="876" width="27" height="29" fill="#9afa44" shape-rendering="crispEdges"/>
<pattern id="h6_941" patternUnits="userSpaceOnUse" x="942.2" y="701.2" width="18.9" height="9.73"><rect width="18.9" height="9.73" fill="#fff"/><rect x="0" y="3.9" width="11.2" height="2.1" fill="#8e4fb8"/></pattern>
<rect x="941" y="876" width="57" height="29" fill="url(#h6_941)" shape-rendering="crispEdges"/>
<rect x="998" y="876" width="4" height="29" fill="#70fcc8" shape-rendering="crispEdges"/>
<rect x="1002" y="876" width="77" height="29" fill="#5ca8f4" shape-rendering="crispEdges"/>
<rect x="1079" y="876" width="16" height="29" fill="#5580ee" shape-rendering="crispEdges"/>
<rect x="567" y="905" width="4" height="30" fill="#a82112" shape-rendering="crispEdges"/>
<rect x="571" y="905" width="16" height="30" fill="#c93114" shape-rendering="crispEdges"/>
<rect x="587" y="905" width="82" height="30" fill="#e0481a" shape-rendering="crispEdges"/>
<rect x="669" y="905" width="143" height="30" fill="#ea8834" shape-rendering="crispEdges"/>
<pattern id="h7_812" patternUnits="userSpaceOnUse" x="813.2" y="701.2" width="18.9" height="9.73"><rect width="18.9" height="9.73" fill="#fff"/><rect x="0" y="3.9" width="11.2" height="2.1" fill="#8e4fb8"/></pattern>
<rect x="812" y="905" width="67" height="30" fill="url(#h7_812)" shape-rendering="crispEdges"/>
<rect x="879" y="905" width="52" height="30" fill="#9afa44" shape-rendering="crispEdges"/>
<rect x="931" y="905" width="35" height="30" fill="#70fcc8" shape-rendering="crispEdges"/>
<rect x="966" y="905" width="56" height="30" fill="#5ca8f4" shape-rendering="crispEdges"/>
<rect x="1022" y="905" width="15" height="30" fill="#5580ee" shape-rendering="crispEdges"/>
<rect x="572" y="935" width="5" height="29" fill="#a82112" shape-rendering="crispEdges"/>
<rect x="577" y="935" width="15" height="29" fill="#c93114" shape-rendering="crispEdges"/>
<rect x="592" y="935" width="83" height="29" fill="#e0481a" shape-rendering="crispEdges"/>
<rect x="675" y="935" width="113" height="29" fill="#ea8834" shape-rendering="crispEdges"/>
<rect x="788" y="935" width="24" height="29" fill="#dfd24a" shape-rendering="crispEdges"/>
<pattern id="h8_812" patternUnits="userSpaceOnUse" x="813.2" y="701.2" width="18.9" height="9.73"><rect width="18.9" height="9.73" fill="#fff"/><rect x="0" y="3.9" width="11.2" height="2.1" fill="#8e4fb8"/></pattern>
<rect x="812" y="935" width="27" height="29" fill="url(#h8_812)" shape-rendering="crispEdges"/>
<rect x="839" y="935" width="46" height="29" fill="#9afa44" shape-rendering="crispEdges"/>
<rect x="885" y="935" width="29" height="29" fill="#70fcc8" shape-rendering="crispEdges"/>
<rect x="914" y="935" width="52" height="29" fill="#5ca8f4" shape-rendering="crispEdges"/>
<rect x="966" y="935" width="11" height="29" fill="#5580ee" shape-rendering="crispEdges"/>
<rect x="977" y="935" width="4" height="29" fill="#4848b4" shape-rendering="crispEdges"/>
<rect x="578" y="964" width="3" height="29" fill="#a82112" shape-rendering="crispEdges"/>
<rect x="581" y="964" width="21" height="29" fill="#c93114" shape-rendering="crispEdges"/>
<rect x="602" y="964" width="67" height="29" fill="#e0481a" shape-rendering="crispEdges"/>
<rect x="669" y="964" width="6" height="29" fill="#ec6a24" shape-rendering="crispEdges"/>
<rect x="675" y="964" width="76" height="29" fill="#ea8834" shape-rendering="crispEdges"/>
<rect x="751" y="964" width="26" height="29" fill="#dfd24a" shape-rendering="crispEdges"/>
<rect x="777" y="964" width="20" height="29" fill="#d0f048" shape-rendering="crispEdges"/>
<rect x="797" y="964" width="47" height="29" fill="#9afa44" shape-rendering="crispEdges"/>
<rect x="844" y="964" width="20" height="29" fill="#70fcc8" shape-rendering="crispEdges"/>
<rect x="864" y="964" width="42" height="29" fill="#5ca8f4" shape-rendering="crispEdges"/>
<rect x="906" y="964" width="19" height="29" fill="#5580ee" shape-rendering="crispEdges"/>
<rect x="925" y="964" width="5" height="29" fill="#4848b4" shape-rendering="crispEdges"/>
<rect x="578" y="993" width="9" height="29" fill="#a82112" shape-rendering="crispEdges"/>
<rect x="587" y="993" width="21" height="29" fill="#c93114" shape-rendering="crispEdges"/>
<rect x="608" y="993" width="46" height="29" fill="#e0481a" shape-rendering="crispEdges"/>
<rect x="654" y="993" width="4" height="29" fill="#ec6a24" shape-rendering="crispEdges"/>
<rect x="658" y="993" width="67" height="29" fill="#ea8834" shape-rendering="crispEdges"/>
<rect x="725" y="993" width="6" height="29" fill="#e8aa40" shape-rendering="crispEdges"/>
<rect x="731" y="993" width="20" height="29" fill="#dfd24a" shape-rendering="crispEdges"/>
<rect x="751" y="993" width="11" height="29" fill="#d0f048" shape-rendering="crispEdges"/>
<rect x="762" y="993" width="61" height="29" fill="#9afa44" shape-rendering="crispEdges"/>
<rect x="823" y="993" width="6" height="29" fill="#70fcc8" shape-rendering="crispEdges"/>
<rect x="829" y="993" width="29" height="29" fill="#5ca8f4" shape-rendering="crispEdges"/>
<rect x="858" y="993" width="17" height="29" fill="#5580ee" shape-rendering="crispEdges"/>
<rect x="875" y="993" width="4" height="29" fill="#4848b4" shape-rendering="crispEdges"/>
<rect x="578" y="1022" width="3" height="29" fill="#861010" shape-rendering="crispEdges"/>
<rect x="581" y="1022" width="6" height="29" fill="#a82112" shape-rendering="crispEdges"/>
<rect x="587" y="1022" width="21" height="29" fill="#c93114" shape-rendering="crispEdges"/>
<rect x="608" y="1022" width="35" height="29" fill="#e0481a" shape-rendering="crispEdges"/>
<rect x="643" y="1022" width="11" height="29" fill="#ec6a24" shape-rendering="crispEdges"/>
<rect x="654" y="1022" width="46" height="29" fill="#ea8834" shape-rendering="crispEdges"/>
<rect x="700" y="1022" width="4" height="29" fill="#e8aa40" shape-rendering="crispEdges"/>
<rect x="704" y="1022" width="17" height="29" fill="#dfd24a" shape-rendering="crispEdges"/>
<rect x="721" y="1022" width="10" height="29" fill="#d0f048" shape-rendering="crispEdges"/>
<rect x="731" y="1022" width="71" height="29" fill="#9afa44" shape-rendering="crispEdges"/>
<rect x="802" y="1022" width="10" height="29" fill="#5ca8f4" shape-rendering="crispEdges"/>
<rect x="812" y="1022" width="11" height="29" fill="#5580ee" shape-rendering="crispEdges"/>
<rect x="823" y="1022" width="5" height="29" fill="#4848b4" shape-rendering="crispEdges"/>
<rect x="578" y="1051" width="3" height="30" fill="#861010" shape-rendering="crispEdges"/>
<rect x="581" y="1051" width="6" height="30" fill="#a82112" shape-rendering="crispEdges"/>
<rect x="587" y="1051" width="15" height="30" fill="#c93114" shape-rendering="crispEdges"/>
<rect x="602" y="1051" width="27" height="30" fill="#e0481a" shape-rendering="crispEdges"/>
<rect x="629" y="1051" width="8" height="30" fill="#ec6a24" shape-rendering="crispEdges"/>
<rect x="637" y="1051" width="38" height="30" fill="#ea8834" shape-rendering="crispEdges"/>
<rect x="675" y="1051" width="13" height="30" fill="#dfd24a" shape-rendering="crispEdges"/>
<rect x="688" y="1051" width="6" height="30" fill="#d0f048" shape-rendering="crispEdges"/>
<rect x="694" y="1051" width="83" height="30" fill="#9afa44" shape-rendering="crispEdges"/>
<rect x="777" y="1051" width="5" height="30" fill="#5580ee" shape-rendering="crispEdges"/>
<rect x="572" y="1081" width="5" height="29" fill="#861010" shape-rendering="crispEdges"/>
<rect x="577" y="1081" width="4" height="29" fill="#a82112" shape-rendering="crispEdges"/>
<rect x="581" y="1081" width="17" height="29" fill="#c93114" shape-rendering="crispEdges"/>
<rect x="598" y="1081" width="15" height="29" fill="#e0481a" shape-rendering="crispEdges"/>
<rect x="613" y="1081" width="6" height="29" fill="#ec6a24" shape-rendering="crispEdges"/>
<rect x="619" y="1081" width="24" height="29" fill="#ea8834" shape-rendering="crispEdges"/>
<rect x="643" y="1081" width="5" height="29" fill="#e8aa40" shape-rendering="crispEdges"/>
<rect x="648" y="1081" width="6" height="29" fill="#dfd24a" shape-rendering="crispEdges"/>
<rect x="654" y="1081" width="5" height="29" fill="#d0f048" shape-rendering="crispEdges"/>
<rect x="659" y="1081" width="51" height="29" fill="#9afa44" shape-rendering="crispEdges"/>
<rect x="572" y="1110" width="5" height="29" fill="#a82112" shape-rendering="crispEdges"/>
<rect x="577" y="1110" width="4" height="29" fill="#c93114" shape-rendering="crispEdges"/>
<rect x="581" y="1110" width="17" height="29" fill="#e0481a" shape-rendering="crispEdges"/>
<rect x="598" y="1110" width="15" height="29" fill="#ea8834" shape-rendering="crispEdges"/>
<rect x="613" y="1110" width="6" height="29" fill="#e8aa40" shape-rendering="crispEdges"/>
<rect x="619" y="1110" width="4" height="29" fill="#dfd24a" shape-rendering="crispEdges"/>
<rect x="623" y="1110" width="14" height="29" fill="#9afa44" shape-rendering="crispEdges"/>
<line x1="261.3" y1="730" x2="1534" y2="730" stroke="#ff2214" stroke-width="3.6" stroke-dasharray="15.2 12.92"/>
<line x1="257.5" y1="759" x2="1534" y2="759" stroke="#ff2214" stroke-width="3.6" stroke-dasharray="14.5 13.6"/>
<line x1="256.5" y1="738.7" x2="256.5" y2="752.5" stroke="#ff2214" stroke-width="3.6"/>
<line x1="1532" y1="729" x2="1532" y2="740" stroke="#ff2214" stroke-width="3.6"/>
<line x1="1532" y1="754.4" x2="1532" y2="760.8" stroke="#ff2214" stroke-width="3.6"/>
<rect x="254.5" y="702.0" width="1281.0" height="553.5" fill="none" stroke="#262626" stroke-width="1.6"/>
<line x1="382.0" y1="1255.5" x2="382.0" y2="1243.0" stroke="#262626" stroke-width="1.4"/>
<line x1="382.0" y1="702.0" x2="382.0" y2="714.5" stroke="#262626" stroke-width="1.4"/>
<line x1="510.1" y1="1255.5" x2="510.1" y2="1243.0" stroke="#262626" stroke-width="1.4"/>
<line x1="510.1" y1="702.0" x2="510.1" y2="714.5" stroke="#262626" stroke-width="1.4"/>
<line x1="638.2" y1="1255.5" x2="638.2" y2="1243.0" stroke="#262626" stroke-width="1.4"/>
<line x1="638.2" y1="702.0" x2="638.2" y2="714.5" stroke="#262626" stroke-width="1.4"/>
<line x1="766.3" y1="1255.5" x2="766.3" y2="1243.0" stroke="#262626" stroke-width="1.4"/>
<line x1="766.3" y1="702.0" x2="766.3" y2="714.5" stroke="#262626" stroke-width="1.4"/>
<line x1="894.4" y1="1255.5" x2="894.4" y2="1243.0" stroke="#262626" stroke-width="1.4"/>
<line x1="894.4" y1="702.0" x2="894.4" y2="714.5" stroke="#262626" stroke-width="1.4"/>
<line x1="1022.5" y1="1255.5" x2="1022.5" y2="1243.0" stroke="#262626" stroke-width="1.4"/>
<line x1="1022.5" y1="702.0" x2="1022.5" y2="714.5" stroke="#262626" stroke-width="1.4"/>
<line x1="1150.6" y1="1255.5" x2="1150.6" y2="1243.0" stroke="#262626" stroke-width="1.4"/>
<line x1="1150.6" y1="702.0" x2="1150.6" y2="714.5" stroke="#262626" stroke-width="1.4"/>
<line x1="1278.7" y1="1255.5" x2="1278.7" y2="1243.0" stroke="#262626" stroke-width="1.4"/>
<line x1="1278.7" y1="702.0" x2="1278.7" y2="714.5" stroke="#262626" stroke-width="1.4"/>
<line x1="1406.8" y1="1255.5" x2="1406.8" y2="1243.0" stroke="#262626" stroke-width="1.4"/>
<line x1="1406.8" y1="702.0" x2="1406.8" y2="714.5" stroke="#262626" stroke-width="1.4"/>
<line x1="254.5" y1="715.8" x2="267.0" y2="715.8" stroke="#262626" stroke-width="1.4"/>
<line x1="1535.5" y1="715.8" x2="1523.0" y2="715.8" stroke="#262626" stroke-width="1.4"/>
<text x="240" y="730.0" font-size="39" text-anchor="end">6</text>
<line x1="254.5" y1="832.6" x2="267.0" y2="832.6" stroke="#262626" stroke-width="1.4"/>
<line x1="1535.5" y1="832.6" x2="1523.0" y2="832.6" stroke="#262626" stroke-width="1.4"/>
<text x="240" y="846.8" font-size="39" text-anchor="end">4</text>
<line x1="254.5" y1="949.3" x2="267.0" y2="949.3" stroke="#262626" stroke-width="1.4"/>
<line x1="1535.5" y1="949.3" x2="1523.0" y2="949.3" stroke="#262626" stroke-width="1.4"/>
<text x="240" y="963.5" font-size="39" text-anchor="end">2</text>
<line x1="254.5" y1="1066.1" x2="267.0" y2="1066.1" stroke="#262626" stroke-width="1.4"/>
<line x1="1535.5" y1="1066.1" x2="1523.0" y2="1066.1" stroke="#262626" stroke-width="1.4"/>
<text x="240" y="1080.3" font-size="39" text-anchor="end">0</text>
<line x1="254.5" y1="1182.8" x2="267.0" y2="1182.8" stroke="#262626" stroke-width="1.4"/>
<line x1="1535.5" y1="1182.8" x2="1523.0" y2="1182.8" stroke="#262626" stroke-width="1.4"/>
<text x="240" y="1197.0" font-size="39" text-anchor="end">-2</text>
<text x="382.0" y="1308" font-size="39" text-anchor="middle">1573.9</text>
<text x="638.2" y="1308" font-size="39" text-anchor="middle">1574</text>
<text x="894.4" y="1308" font-size="39" text-anchor="middle">1574.1</text>
<text x="1150.6" y="1308" font-size="39" text-anchor="middle">1574.2</text>
<text x="1406.8" y="1308" font-size="39" text-anchor="middle">1574.3</text>
<text x="954.8" y="1337.3" font-size="43">&#955;<tspan font-size="34" dy="21" dx="2.2">L</tspan><tspan dy="-21" dx="1.2"> [nm]</tspan></text>
<text transform="translate(171.3,1067.5) rotate(-90)" font-size="43">P<tspan font-size="34" dy="21.1">in</tspan><tspan dy="-21.1"> [dBm]</tspan></text>
<rect x="1589.6" y="701.70" width="29.4" height="27.98" fill="#861010"/>
<line x1="1619.0" y1="715.54" x2="1615.5" y2="715.54" stroke="#262626" stroke-width="1.2"/>
<text x="1640" y="729.04" font-size="35.3">1:6 Locking</text>
<rect x="1589.6" y="729.38" width="29.4" height="27.98" fill="#a82112"/>
<line x1="1619.0" y1="743.21" x2="1615.5" y2="743.21" stroke="#262626" stroke-width="1.2"/>
<text x="1640" y="756.71" font-size="35.3">1:5 Locking</text>
<rect x="1589.6" y="757.05" width="29.4" height="27.98" fill="#c93114"/>
<line x1="1619.0" y1="770.89" x2="1615.5" y2="770.89" stroke="#262626" stroke-width="1.2"/>
<text x="1640" y="784.39" font-size="35.3">1:4 Locking</text>
<rect x="1589.6" y="784.73" width="29.4" height="27.98" fill="#e0481a"/>
<line x1="1619.0" y1="798.56" x2="1615.5" y2="798.56" stroke="#262626" stroke-width="1.2"/>
<text x="1640" y="812.06" font-size="35.3">1:3 Locking</text>
<rect x="1589.6" y="812.40" width="29.4" height="27.98" fill="#ec6a24"/>
<line x1="1619.0" y1="826.24" x2="1615.5" y2="826.24" stroke="#262626" stroke-width="1.2"/>
<text x="1640" y="839.74" font-size="35.3">2:5 Locking</text>
<rect x="1589.6" y="840.08" width="29.4" height="27.98" fill="#ea8834"/>
<line x1="1619.0" y1="853.91" x2="1615.5" y2="853.91" stroke="#262626" stroke-width="1.2"/>
<text x="1640" y="867.41" font-size="35.3">1:2 Locking</text>
<rect x="1589.6" y="867.75" width="29.4" height="27.98" fill="#e8aa40"/>
<line x1="1619.0" y1="881.59" x2="1615.5" y2="881.59" stroke="#262626" stroke-width="1.2"/>
<text x="1640" y="895.09" font-size="35.3">3:5 Locking</text>
<rect x="1589.6" y="895.43" width="29.4" height="27.98" fill="#dfd24a"/>
<line x1="1619.0" y1="909.26" x2="1615.5" y2="909.26" stroke="#262626" stroke-width="1.2"/>
<text x="1640" y="922.76" font-size="35.3">2:3 Locking</text>
<rect x="1589.6" y="923.10" width="29.4" height="27.98" fill="#d0f048"/>
<line x1="1619.0" y1="936.94" x2="1615.5" y2="936.94" stroke="#262626" stroke-width="1.2"/>
<text x="1640" y="950.44" font-size="35.3">3:4 Locking</text>
<rect x="1589.6" y="950.78" width="29.4" height="27.98" fill="#b4f844"/>
<line x1="1619.0" y1="964.61" x2="1615.5" y2="964.61" stroke="#262626" stroke-width="1.2"/>
<text x="1640" y="978.11" font-size="35.3">4:5 Locking</text>
<rect x="1589.6" y="978.45" width="29.4" height="27.98" fill="#9afa44"/>
<line x1="1619.0" y1="992.29" x2="1615.5" y2="992.29" stroke="#262626" stroke-width="1.2"/>
<text x="1640" y="1005.79" font-size="35.3">1:1 Locking</text>
<rect x="1589.6" y="1006.12" width="29.4" height="27.98" fill="#78fa8c"/>
<line x1="1619.0" y1="1019.96" x2="1615.5" y2="1019.96" stroke="#262626" stroke-width="1.2"/>
<text x="1640" y="1033.46" font-size="35.3">4:3 Locking</text>
<rect x="1589.6" y="1033.80" width="29.4" height="27.98" fill="#70fcc8"/>
<line x1="1619.0" y1="1047.64" x2="1615.5" y2="1047.64" stroke="#262626" stroke-width="1.2"/>
<text x="1640" y="1061.14" font-size="35.3">3:2 Locking</text>
<rect x="1589.6" y="1061.48" width="29.4" height="27.98" fill="#60d8dc"/>
<line x1="1619.0" y1="1075.31" x2="1615.5" y2="1075.31" stroke="#262626" stroke-width="1.2"/>
<text x="1640" y="1088.81" font-size="35.3">5:3 Locking</text>
<rect x="1589.6" y="1089.15" width="29.4" height="27.98" fill="#5ca8f4"/>
<line x1="1619.0" y1="1102.99" x2="1615.5" y2="1102.99" stroke="#262626" stroke-width="1.2"/>
<text x="1640" y="1116.49" font-size="35.3">2:1 Locking</text>
<rect x="1589.6" y="1116.83" width="29.4" height="27.98" fill="#5580ee"/>
<line x1="1619.0" y1="1130.66" x2="1615.5" y2="1130.66" stroke="#262626" stroke-width="1.2"/>
<text x="1640" y="1144.16" font-size="35.3">3:1 Locking</text>
<rect x="1589.6" y="1144.50" width="29.4" height="27.98" fill="#4848b4"/>
<line x1="1619.0" y1="1158.34" x2="1615.5" y2="1158.34" stroke="#262626" stroke-width="1.2"/>
<text x="1640" y="1171.84" font-size="35.3">4:1 Locking</text>
<rect x="1589.6" y="1172.18" width="29.4" height="27.68" fill="#fff"/>
<rect x="1592" y="1176.78" width="10.7" height="2" fill="#9050b8"/>
<rect x="1610" y="1176.78" width="8.6" height="2" fill="#9050b8"/>
<rect x="1592" y="1185.18" width="10.7" height="2" fill="#9050b8"/>
<rect x="1610" y="1185.18" width="8.6" height="2" fill="#9050b8"/>
<rect x="1592" y="1193.58" width="10.7" height="2" fill="#9050b8"/>
<rect x="1610" y="1193.58" width="8.6" height="2" fill="#9050b8"/>
<line x1="1619.0" y1="1186.01" x2="1615.5" y2="1186.01" stroke="#262626" stroke-width="1.2"/>
<text x="1640" y="1199.51" font-size="35.3">Local a-synchrony</text>
<rect x="1589.6" y="1199.85" width="29.4" height="27.98" fill="#000000"/>
<line x1="1619.0" y1="1213.69" x2="1615.5" y2="1213.69" stroke="#262626" stroke-width="1.2"/>
<text x="1640" y="1227.19" font-size="35.3">Phase Slip</text>
<rect x="1589.6" y="1227.53" width="29.4" height="27.68" fill="#fff"/>
<rect x="1592.1" y="1230.03" width="24.4" height="23.18" fill="#f0f0f0"/>
<line x1="1619.0" y1="1241.36" x2="1615.5" y2="1241.36" stroke="#262626" stroke-width="1.2"/>
<text x="1640" y="1254.86" font-size="35.3">No interaction</text>
<rect x="1589.6" y="701.7" width="29.4" height="553.5" fill="none" stroke="#262626" stroke-width="1.6"/>
</svg></body></html>
